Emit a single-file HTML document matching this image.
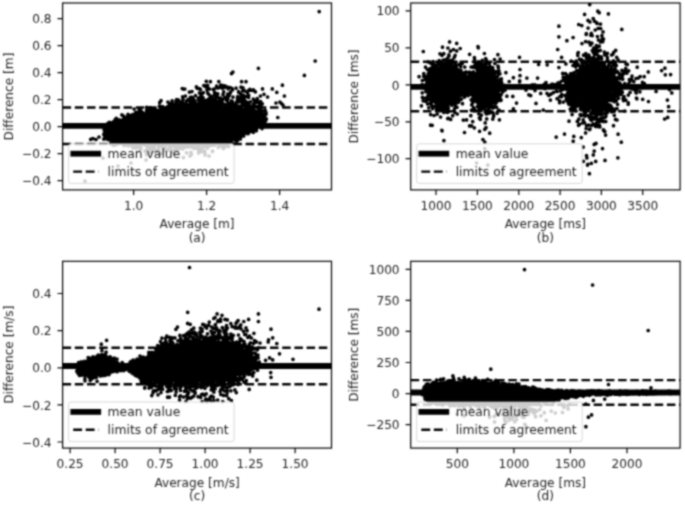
<!DOCTYPE html>
<html><head><meta charset="utf-8"><title>Bland-Altman plots</title>
<style>
html,body{margin:0;padding:0;background:#fff;}
svg{display:block;}
text{font-family:"DejaVu Sans", "Liberation Sans", sans-serif;font-size:12.15px;fill:#1e1e1e;}
text.lg{font-size:12.35px;}
</style></head><body>
<svg width="685" height="506" viewBox="0 0 685 506">
<defs><filter id="bl" x="0" y="0" width="100%" height="100%" color-interpolation-filters="sRGB"><feConvolveMatrix order="5" kernelMatrix="0.0005 0.0050 0.0109 0.0050 0.0005 0.0050 0.0522 0.1141 0.0522 0.0050 0.0109 0.1141 0.2491 0.1141 0.0109 0.0050 0.0522 0.1141 0.0522 0.0050 0.0005 0.0050 0.0109 0.0050 0.0005" edgeMode="duplicate" preserveAlpha="true"/></filter></defs>
<g filter="url(#bl)">
<rect width="685" height="506" fill="#fff"/>
<clipPath id="c0"><rect x="62.6" y="3.0" width="268.9" height="186.9"/></clipPath>
<g clip-path="url(#c0)">
<path d="M102 134L104 130L109 126L119 120L127 117.5L138 112L150 112L160 110L170 107.5L181 106L191 105.5L211 105L221 105.5L232 106L242 107.5L252 110L262 116L266.5 120L266.5 123L262 127L252 130L242 135L232 139L221 142L211 143L191 144L181 144L170 144L160 144L150 144L138 144L127 143L119 142L109 140L104 138L102 135Z" fill="#000"/>
<path d="M243.2 99.5h0M178.4 106.2h0M190.4 105.6h0M253.1 105.4h0M104.8 126.8h0M247.7 102.7h0M245.3 96.5h0M209.8 100.1h0M190.8 105.3h0M187.3 104.4h0M183.6 89.1h0M207.5 104.5h0M213.4 99h0M218.4 102.7h0M265.9 112.4h0M244.9 104.8h0M225.8 105.3h0M265.1 110.2h0M176.4 107.3h0M162.5 106.7h0M224.7 85.8h0M120.7 120.4h0M117.4 121.1h0M214.4 104.8h0M209.6 105h0M257.4 99.4h0M226.6 100.5h0M214.3 102.5h0M212.7 105.7h0M182.4 101.3h0M107.7 123.7h0M171.3 106.7h0M234.3 104.3h0M173.3 105.7h0M199.2 103.1h0M104.1 129.7h0M248.6 97.5h0M160.8 109h0M185.7 104.1h0M253.7 108.7h0M213.9 105.1h0M250.3 101.9h0M227.8 98.8h0M239.8 107h0M139.1 111.8h0M217.1 95.6h0M213.7 101.7h0M252.8 108.2h0M198.2 99.9h0M223.1 94.4h0M127 116.9h0M201.2 94.4h0M193.5 101.4h0M159.4 106.2h0M247.2 104.1h0M200.3 98h0M263.8 114.6h0M222.2 102.9h0M223.8 104.1h0M227.6 99.9h0M232.4 105h0M159.6 110.9h0M207 89.9h0M181 106.6h0M203 97.5h0M141 112.7h0M262.6 114.5h0M176.4 107.5h0M231.8 102.8h0M190.4 100.7h0M253.1 108.4h0M230.6 92h0M153.3 109.8h0M250.1 107.1h0M260.3 105.8h0M256.1 113.4h0M220.1 100.1h0M158 110.3h0M171.4 108h0M258.6 110.5h0M218.3 103h0M168.3 107.2h0M254.1 111.5h0M228 87.3h0M220.1 106.2h0M200 104.3h0M203.8 85.6h0M181 105.7h0M118.4 121.1h0M253.3 99.2h0M209.8 100.2h0M217.8 88.1h0M193.4 99.1h0M240.8 97.7h0M113.1 124.3h0M199.5 92.9h0M115.2 119.5h0M150.3 107.6h0M262.6 111h0M230 105.7h0M205.7 86.6h0M215.3 98.5h0M253 90.5h0M196.1 106.2h0M222.2 88.2h0M233.3 105h0M197.5 104.8h0M214.9 101h0M242.2 104.9h0M256.7 106.5h0M159.7 102.6h0M259.1 115h0M104.8 129.8h0M241 87.2h0M246.7 103.5h0M155 108.6h0M204.7 102.9h0M247.2 102.4h0M108.7 126.9h0M226.5 97h0M244.9 90.8h0M214.3 89.1h0M238.1 107.7h0M178.6 100.2h0M172.8 104h0M198.4 98.1h0M168 107.2h0M196.4 86.9h0M260.6 109.5h0M220.4 87.2h0M195.6 103.1h0M186.3 101.1h0M261 106.5h0M207.4 100.2h0M264 94.3h0M214.5 92.5h0M215.1 97.3h0M255.3 110.8h0M239.9 100.2h0M221.2 86.5h0M205.5 103.5h0M253.5 103.9h0M203.9 104.6h0M258 102.4h0M130.8 116.6h0M205.9 105.5h0M214.9 95.8h0M260.9 112.6h0M183 99.2h0M246.2 107h0M232.4 101.7h0M237.2 101h0M226.6 104.7h0M263 115.2h0M194.7 100.9h0M202.4 100.4h0M173.8 104.9h0M123.5 119h0M175.9 101.7h0M257.3 113.2h0M249.6 105.6h0M146.5 110.5h0M223.7 91.8h0M210.9 104.2h0M222.7 99.7h0M230.2 93.2h0M191.3 97.6h0M261.9 115.4h0M209.6 101.8h0M226.4 105.9h0M227.3 100.4h0M169.2 108.4h0M128 114.4h0M203.9 104.8h0M242 106.9h0M247.2 92.3h0M238.6 92.2h0M146.8 112.2h0M257.1 114h0M245.9 105.6h0M253.5 111.5h0M215.3 99.2h0M257.3 112.6h0M121.9 114.9h0M115.2 121.6h0M111.1 125h0M183.3 105.5h0M182.6 96.8h0M170.1 107.9h0M219.8 104h0M118.7 120.9h0M222.2 85.3h0M164.2 108.9h0M232.6 105.3h0M111.5 122.9h0M191.8 105.4h0M259.6 107h0M216.8 104.6h0M246.8 109.5h0M230.1 87.5h0M224.5 97.8h0M171 104.8h0M220.6 103.4h0M119 120.9h0M245.8 108.8h0M261.8 112.6h0M251 110.5h0M123.5 116h0M195.5 95.7h0M192.8 100.2h0M146.7 107.4h0M226.3 106.5h0M245.4 108.7h0M192.2 97.3h0M251.9 106.9h0M245.3 101.1h0M152.5 112.1h0M242.4 104.2h0M253.9 111.1h0M172.5 106.3h0M220.5 102.6h0M227.7 94.2h0M224.4 87.4h0M140.8 110.2h0M230.4 103.1h0M226.9 105.8h0M248 95.1h0M246 81.7h0M194 106.3h0M237.7 101.9h0M252.4 108.4h0M255 102.7h0M162.9 109.1h0M113.7 121.7h0M229.2 95.5h0M176.3 100.2h0M219.5 101.1h0M260.2 114.3h0M200.3 97.1h0M183.3 106.4h0M208.6 88.6h0M229.9 103h0M142.6 112.5h0M200.5 102.8h0M154 111.9h0M230.6 103.7h0M248.7 107h0M200 98.2h0M199.4 88.6h0M216.9 97.1h0M176.4 106h0M182.4 102.9h0M194.3 106.3h0M208.7 104.9h0M135.6 113h0M241 98.1h0M221 103.4h0M190.4 97.3h0M134.1 109h0M242 107.3h0M153.1 109.2h0M153.9 109.8h0M153 111.4h0M135.5 112.5h0M256.4 106.6h0M185.9 103h0M191.3 105h0M248.9 105.7h0M225.5 106.2h0M170 106.2h0M206.4 101.9h0M254.1 100.4h0M199.8 104.2h0M236.5 102.3h0M141 112.4h0M238.3 106.4h0M243.3 95h0M248.2 104.8h0M232.1 88.6h0M199.3 105.1h0M129 116.5h0M214.8 100.8h0M241.5 102h0M170.9 107.7h0M185.4 105.4h0M216.6 93.7h0M240.5 93.8h0M255.4 91.8h0M151.3 108.6h0M169.3 108.5h0M245.6 106h0M228.4 103.6h0M237.6 106.6h0M266.1 114.1h0M259.7 104.5h0M249.9 89.3h0M243.4 103.2h0M202.1 97.2h0M228 97.8h0M169.3 104.9h0M241.7 106.2h0M241.4 94.9h0M237.7 101h0M207.4 101.8h0M200.2 106.2h0M204.8 86h0M116.5 120.9h0M250.1 106.9h0M217.2 105.2h0M201.3 101.8h0M217.8 93.9h0M237.7 96.6h0M200.6 104.1h0M248.7 95.3h0M257.7 114h0M201.3 101.5h0M155.4 111.7h0M241.7 100.7h0M265.5 118.5h0M158.7 110.5h0M236.7 106.6h0M248.1 107.4h0M257.8 106.9h0M150.5 110.7h0M139.2 112.4h0M264.9 115.8h0M148.1 110.4h0M167.3 106.8h0M220.6 85.2h0M207.6 85.4h0M240.7 107.3h0M170.9 103.7h0M257.2 98.5h0M176.8 99.5h0M242.6 90.8h0M130.3 115.7h0M210.3 100.9h0M116.1 122h0M192.3 105.4h0M192 91.5h0M237.5 98.4h0M208.5 101.6h0M126 118.3h0M265.9 120.3h0M254.6 106h0M257.4 107.3h0M182.3 88.6h0M202 99.3h0M178.8 106.5h0M151 112.6h0M116.3 118.3h0M213.3 104.9h0M150.4 111.9h0M167.1 109.1h0M251.7 110.3h0M211.4 96.3h0M169.1 107h0M231.5 100.8h0M185.4 96h0M215.6 101.6h0M188 99.5h0M214.5 94.7h0M226.5 104.5h0M216.6 86.2h0M202.2 93.4h0M244.7 97.5h0M253 107.3h0M167.9 102h0M154.9 109.6h0M146.9 110.1h0M263.9 115.3h0M260 112h0M179.4 104.9h0M262.8 116.7h0M174.8 105h0M213.6 104.5h0M212.7 99.8h0M257.2 101.5h0M119.4 119.8h0M192.4 101.5h0M223.3 87.1h0M129.9 116.2h0M180.5 102.6h0M209.5 105h0M253.8 108h0M241.8 101.7h0M248.5 108.5h0M241.8 106.3h0M236.1 88.2h0M250.6 90.1h0M233 97.1h0M239.2 106.3h0M190.6 102.9h0M164.7 108.9h0M241.3 107.7h0M164.2 108h0M257.7 111.4h0M223 94.7h0M194.2 103.4h0M259.4 111.9h0M161 100.7h0M214.4 103.2h0M139.2 108.9h0M262.3 103.8h0M220.6 98.1h0M246 104.4h0M187.9 105.8h0M245.8 106h0M235.6 106.8h0M228.3 104h0M260.9 106.6h0M206.3 81.3h0M204.3 100h0M234.3 105.9h0M249.1 105.4h0M195 106.2h0M231.5 106.9h0M175.1 104.4h0M218.2 103.1h0M242.6 105.5h0M129.4 117h0M238.4 100.8h0M109.2 122.3h0M261.6 116.6h0M209.8 98.3h0M203.6 105.4h0M237.6 97.5h0M215.3 100.9h0M238.7 101.8h0M136.7 112.3h0M219.3 100.7h0M218.9 98h0M259 112.1h0M119 120.8h0M208.2 99.3h0M226.8 105.5h0M218.1 104.9h0M132.8 115.3h0M222.6 103.7h0M177.8 103.9h0M172.1 100.9h0M253.5 89.8h0M172.6 106h0M208.4 101.2h0M240.7 100.3h0M236.1 104.9h0M218.4 101h0M246.4 108.7h0M209.6 89h0M225.6 106.5h0M247.5 107.9h0M232.6 103.5h0M228.1 88.8h0M203.3 92.6h0M218.8 81.6h0M202.2 103.1h0M240.1 106.5h0M200.4 103.1h0M209.6 103.5h0M241.2 100.2h0M213.3 89.4h0M195.4 105.4h0M248.3 106.9h0M200.5 89.5h0M250.1 90.3h0M244.2 99.3h0M207.7 104.3h0M236.7 105.5h0M116.9 121.4h0M201.5 104.8h0M251.7 109.5h0M221.1 102.3h0M218.8 106.3h0M230.9 105.7h0M232.5 89.8h0M221.5 99.6h0M204.9 103.4h0M169 108h0M189.4 100.8h0M189.4 92.1h0M206 104.7h0M266.4 119.1h0M197.2 88.3h0M207.7 93h0M199.4 100.3h0M221.3 106.2h0M260.6 101.6h0M254.6 106.5h0M200.1 104h0M185.6 105.1h0M254.1 111.2h0M212.3 102.3h0M233.5 106.9h0M132.5 114.5h0M252.3 110.3h0M192.1 102.2h0M212.4 105.3h0M172.7 107.7h0M204.8 85.7h0M248.5 109.9h0M248.4 107.1h0M210.3 97.1h0M242.5 98.1h0M208.8 94.3h0M199.6 101.4h0M217.6 94.6h0M173.5 106.2h0M192.6 103.8h0M110.9 140h0M233.7 138.1h0M154.6 144.1h0M199 142.8h0M228 146.2h0M218 143h0M228.7 146.6h0M178.2 145.3h0M225.1 141.3h0M174.7 146.6h0M150 144.6h0M177.1 146.4h0M159.2 143.8h0M213.5 144.1h0M223.3 148.6h0M132.6 144.8h0M136.1 146.8h0M165.2 150.5h0M175 144.4h0M250.9 130.9h0M247 132.1h0M253.8 129.7h0M208.4 146h0M201.6 143h0M150.9 145.4h0M163.8 147.1h0M103.8 139.1h0M223.5 141h0M151.6 148.3h0M122.5 142.4h0M156.8 143.8h0M157.7 145.1h0M207.7 145.3h0M105.2 137.6h0M145.4 143.7h0M235.6 136.7h0M227.3 142.1h0M195.5 143.7h0M186.8 147h0M144.4 144.8h0M231.2 139.1h0M212.6 151.1h0M181.1 143.6h0M135.5 148.1h0M143.4 143.7h0M164.7 144.2h0M158.7 149.1h0M119 143.4h0M168 144h0M173.2 151.5h0M153.1 144.6h0M165.3 150.2h0M158.8 143.6h0M164.3 144.4h0M194.2 148.5h0M179.2 146.9h0M140.9 148.9h0M217.6 142.3h0M181.1 148h0M174.4 150h0M206.3 146.1h0M211.4 145.4h0M226.3 140.6h0M220 145h0M200.5 148.7h0M207.3 144.9h0M135 145.8h0M204.4 151.1h0M148.7 143.5h0M149.2 145.9h0M129.3 143.6h0M166.8 143.7h0M109.7 139.9h0M199 149.2h0M210.9 142.8h0M214.7 144.7h0M130.6 145.1h0M197 144.1h0M224.4 140.3h0M113.6 141.5h0M140.2 145.7h0M150.6 143.4h0M174.8 145.8h0M137.2 144.9h0M184.3 145h0M160.3 153.8h0M198.7 150.8h0M183.4 157.6h0M202.8 142.7h0M147.7 143.1h0M205.5 144.4h0M209.1 156h0M207.4 148.1h0M120.5 143.2h0M248.2 133.6h0M189 145.4h0M151.1 145.1h0M171.4 143.4h0M181.7 143.4h0M181.7 148.1h0M147.9 144.3h0M150.2 143.3h0M162.7 143.4h0M215.4 141.8h0M171.8 150.7h0M114.3 141.2h0M173.6 144.9h0M141.4 144.7h0M107.6 139.2h0M256.9 127.7h0M153.9 145h0M184.1 147.6h0M162 146.4h0M117.5 141.4h0M236.6 136.2h0M245.4 133.1h0M139.3 151h0M169.4 147.8h0M163.9 146.3h0M136.5 147.5h0M199.6 148.3h0M215.6 142.3h0M212.5 145h0M201.3 151.7h0M109.1 139.8h0M145.4 144.5h0M181.3 144.2h0M204.9 152.6h0M165.5 150.2h0M173.2 144.6h0M224.8 143.1h0M110.7 143.7h0M150.6 152.1h0M153.5 143.2h0M262.5 126.2h0M145.1 151.2h0M116.2 141.7h0M169.2 143.6h0M198.1 147.3h0M134.4 142.9h0M224.7 147.1h0M140.7 147.5h0M205.1 154.9h0M135.6 143.3h0M232.5 139.8h0M141.4 143.7h0M208.7 144.4h0M224.5 142.1h0M148.8 143.6h0M124.9 142.5h0M190.1 143h0M179.4 143.7h0M177 146.2h0M215.5 142.2h0M175 143h0M179.2 145.4h0M177.9 144.7h0M173.9 145.3h0M167.9 150.1h0M135.5 145h0M154.1 144.4h0M150.1 144h0M147.9 150.1h0M215.7 141.8h0M128.3 145.8h0M142 144.4h0M182.8 148.8h0M156.3 143.9h0M146.8 149.7h0M163.9 143.7h0M179.8 148.6h0M201.2 143.4h0M255.4 129.7h0M226.9 140.7h0M170.9 145.3h0M173.5 145.3h0M169.1 143.4h0M146.6 154.7h0M249.7 131.7h0M120.6 142h0M141.9 144.2h0M199.7 145.1h0M190.6 146h0M152 147h0M245.7 133h0M168.3 145h0M191.4 154.3h0M124.6 145.4h0M234.4 139h0M126.5 143.9h0M166.5 144.6h0M233.3 143.9h0M247.9 131.7h0M237.3 140.8h0M222.6 146.4h0M145.9 143.8h0M112.7 140.5h0M173.6 144.9h0M119.5 141.5h0M252 131.3h0M106.2 138.6h0M158 144.8h0M141.7 143.5h0M108 138.8h0M179.4 145.2h0M121.9 142.5h0M236.4 136.6h0M203 147.7h0M163.5 149.3h0M225 145.2h0M217.8 143.6h0M158.1 150.3h0M226 139.8h0M243.7 135.9h0M194.4 145.2h0M161.2 144.7h0M236.5 141.2h0M247.3 131.5h0M160.7 143.3h0M123.7 144.9h0M229.8 142.2h0M200 144.5h0M145.7 145.2h0M187.8 145.7h0M155.8 149.8h0M241 135.9h0M160 143.3h0M140.7 143.8h0M115.3 144.9h0M160.1 146.2h0M261.1 126.9h0M143.8 143.2h0M174.4 143.1h0M255.3 128.1h0M105.6 138.4h0M154.1 150.2h0M221.6 143.8h0M125.4 142.3h0M243.4 135h0M223.8 140.3h0M132.8 147.8h0M190.9 152.3h0M186.4 143.4h0M203.7 143.2h0M155.6 143h0M165.2 143.2h0M146.9 144.4h0M153.7 144.9h0M137.7 143.6h0M237.4 138.7h0M233.7 139.6h0M162.3 143.2h0M203.7 143.6h0M178.3 145.3h0M152.3 143.1h0M161 144.5h0M253.3 132.3h0M159.9 144.9h0M189.2 147h0M247.9 133.7h0M154.4 146.2h0M219.7 146.1h0M128.3 143h0M208.9 142.3h0M219.3 141.3h0M224.3 142.9h0M256.2 127.9h0M206 142.8h0M256.9 128.1h0M151.9 145.9h0M182.2 146.8h0M143.2 143.2h0M123.3 142.4h0M172 143.5h0M207.1 142.3h0M215.1 142.4h0M109 139.1h0M247.2 132.6h0M147.8 145.2h0M153.8 145.4h0M223.4 141h0M235.1 140.1h0M209.3 143.7h0M158.9 147.6h0M174.9 145.2h0M223.8 141.4h0M161.9 144h0M219.1 142.8h0M215.6 141.6h0M175.7 143.5h0M235.6 137h0M165.3 143.9h0M211.1 145h0M196.8 148.1h0M158.7 143.7h0M183.4 143.8h0M192.6 145.3h0M184.1 144.1h0M127.8 142.4h0M262 128.6h0M253.7 130.2h0M114 142.1h0M247.7 131.9h0M183.4 143.7h0M130.2 144.2h0M221.5 141.6h0M171.2 143.1h0M206.3 144h0M222.6 141.9h0M184.2 145.2h0M116.7 143.9h0M221.8 141.7h0M203.8 146.4h0M238.7 136.9h0M150.8 144.4h0M216.1 142.4h0M230.8 141.2h0M161.7 153.4h0M168.4 149.6h0M159 149.9h0M105.3 138h0M145.6 144.7h0M158.7 144h0M127.4 144.1h0M213.3 142.2h0M170.5 147.4h0M187.9 144.5h0M152.8 143.5h0M162.3 144.2h0M211.6 144.8h0M175.8 149.1h0M191.4 145.6h0M170 149.1h0M186.6 152.8h0M235.8 136.9h0M150.5 149.1h0M181.9 144.2h0M202.9 145h0M123.9 142.2h0M252.4 129.7h0M179.4 145.1h0M147.5 144.1h0M212.5 151.5h0M220.7 145h0M195.6 143h0M240.3 134.8h0M124.2 141.7h0M182.9 146.9h0M210.2 142.8h0M240.4 138.9h0M197 145.8h0M192.1 147.1h0M165.7 143.5h0M188.3 145.9h0M186.3 143h0M237.6 139.4h0M222.6 143h0M209.5 144h0M242.2 134.1h0M120.1 143h0M213.8 144h0M175 145.4h0M211.4 143.1h0M154.2 146.5h0M175.5 146.2h0M222.1 142.8h0M113.5 145.3h0M153.6 147.4h0M178.1 147.8h0M226.7 141.7h0M150.8 151.6h0M221.9 143.3h0M147.4 148.2h0M155.2 143.2h0M186.2 144h0M198.6 152.9h0M232.1 138.1h0M232 138.3h0M148.1 147.8h0M210.5 145.6h0M196.2 143.2h0M165.5 148.3h0M214.7 145.1h0M235.8 137.1h0M177 150.4h0M240.2 135.1h0M130.5 142.8h0M136.3 143.3h0M213.1 144.6h0M155.4 152.3h0M190 156h0M179.2 143h0M133.3 142.7h0M211.7 143.3h0M210 145.3h0M133.1 144.1h0M149.5 148.5h0M218.3 147.4h0M239.3 138.3h0M230.2 140.5h0M179.7 143h0M163.2 143.5h0M172.8 153h0M137.8 147.2h0M179 144h0M145.5 144.3h0M135.7 143.3h0M164.8 147.7h0M119.6 141.7h0M175.9 145.8h0M204.1 143.4h0M198.3 143.2h0M256.3 130.7h0M233.3 138.8h0M196.1 144.3h0M235.9 137.5h0M172.7 145.8h0M319.2 11.6h0M315.2 61h0M304.4 75.4h0M258.4 68.3h0M231.5 73.6h0M232.9 72.1h0M210.4 81.7h0M241.6 81.7h0M282.4 85.2h0M184.8 89h0M220.6 85.2h0M226.7 86.8h0M243 87.8h0M238.6 91.5h0M248.8 90.3h0M262.5 88.9h0M272.3 88.9h0M276.8 92.3h0M284.4 96h0M260.4 96h0M267.6 97h0M277.8 117.5h0M279.9 102.1h0M283 105.2h0M281.5 103.5h0M276 103h0M90.7 139.3h0M93 138.5h0M96 139.5h0M99 137h0M85 181h0M103 158h0M118 166h0M131 163h0M146 160h0" stroke="#000" stroke-width="3.7" stroke-linecap="round" fill="none"/>
<line x1="62.6" x2="331.5" y1="125.8" y2="125.8" stroke="#000" stroke-width="5.8"/>
<line x1="62.6" x2="331.5" y1="107.5" y2="107.5" stroke="#000" stroke-width="2.45" stroke-dasharray="8.5 3.7"/>
<line x1="62.6" x2="331.5" y1="143.9" y2="143.9" stroke="#000" stroke-width="2.45" stroke-dasharray="8.5 3.7"/>
</g>
<rect x="68.6" y="143.8" width="165.5" height="39.6" rx="2.3" fill="#fff" fill-opacity="0.8" stroke="#ccc" stroke-opacity="0.8" stroke-width="0.95"/>
<line x1="70.4" x2="101.1" y1="153.7" y2="153.7" stroke="#000" stroke-width="5.8"/>
<line x1="73.2" x2="98.5" y1="171.6" y2="171.6" stroke="#000" stroke-width="2.45" stroke-dasharray="8.9 3.6"/>
<text class="lg" x="107.6" y="157.9">mean value</text>
<text class="lg" x="107.6" y="175.8">limits of agreement</text>
<rect x="62.6" y="3.0" width="268.9" height="186.9" fill="none" stroke="#000" stroke-width="1.2"/>
<text x="133.6" y="209.7" text-anchor="middle">1.0</text>
<text x="206.6" y="209.7" text-anchor="middle">1.2</text>
<text x="279.6" y="209.7" text-anchor="middle">1.4</text>
<text x="51.5" y="23.3" text-anchor="end">0.8</text>
<text x="51.5" y="50.3" text-anchor="end">0.6</text>
<text x="51.5" y="77.3" text-anchor="end">0.4</text>
<text x="51.5" y="104.3" text-anchor="end">0.2</text>
<text x="51.5" y="131.3" text-anchor="end">0.0</text>
<text x="51.5" y="158.3" text-anchor="end">−0.2</text>
<text x="51.5" y="185.3" text-anchor="end">−0.4</text>
<path d="M133.6 189.9v5.1M206.6 189.9v5.1M279.6 189.9v5.1M62.6 18.7h-5.1M62.6 45.7h-5.1M62.6 72.7h-5.1M62.6 99.7h-5.1M62.6 126.7h-5.1M62.6 153.7h-5.1M62.6 180.7h-5.1" stroke="#000" stroke-width="1.2" fill="none"/>
<text x="197.1" y="228.3" text-anchor="middle">Average [m]</text>
<text x="197.1" y="241.5" text-anchor="middle">(a)</text>
<text transform="translate(13.4 96.5) rotate(-90)" text-anchor="middle">Difference [m]</text>
<clipPath id="c1"><rect x="410.7" y="3.0" width="269.4" height="186.9"/></clipPath>
<g clip-path="url(#c1)">
<path d="M435.1 81.3h0M443.2 75.3h0M444.9 74.4h0M438.8 86.5h0M448 108.4h0M442.2 92.1h0M435.8 92.2h0M444.3 70.2h0M459.1 84.7h0M438.6 73.3h0M453.3 92.5h0M455 82.7h0M456 85.3h0M437.4 84.1h0M460.1 79.2h0M444.9 70h0M442 90.6h0M442.2 71.4h0M448.8 73.4h0M444.4 82h0M442.6 78h0M454.3 87.5h0M438.2 94.8h0M435.7 87.4h0M450.3 86.9h0M449.6 85.2h0M452.8 93.3h0M435.4 66.8h0M452.7 88.5h0M447.9 75.8h0M458.1 72.8h0M434 85h0M445.7 81.1h0M441.8 90.6h0M431.3 95.7h0M438.3 62.1h0M453 84.2h0M440.2 104.1h0M438.2 93.4h0M450.9 99.1h0M451.9 85.9h0M451.9 70.9h0M437.7 73.9h0M443.5 91.9h0M452.2 94.3h0M438.8 77.8h0M438 82.3h0M450.6 87.5h0M456.5 67.8h0M434.8 81.5h0M423.2 100.8h0M432.4 106.3h0M435.9 83.9h0M442.9 102.9h0M448.9 79.8h0M442.8 77h0M438.4 63h0M445.2 94.3h0M436.3 81.3h0M443.6 107.9h0M438.9 88.2h0M465.4 86.8h0M450.5 67.2h0M437.3 99.6h0M436 81.4h0M440.5 83.4h0M430.8 63.3h0M438.2 94h0M438.1 94.6h0M451.1 79h0M440.6 85.8h0M437.7 88.8h0M433.3 94.4h0M434.6 86h0M443.5 101.8h0M442.3 82.6h0M453.1 79h0M439 80.4h0M452.5 60.1h0M446.1 77h0M444 94.8h0M427.9 87.5h0M433.7 76.9h0M449.9 88.4h0M455.2 65.2h0M445.7 82.2h0M450.1 90.1h0M440.7 91.8h0M441 77.4h0M438.7 93.9h0M451.8 103.3h0M446.7 80.8h0M442.1 92.2h0M441.4 69.7h0M448.5 65.7h0M446.6 91h0M437.3 85.4h0M457.7 86.9h0M446.1 79.3h0M444.1 82.1h0M455.8 92.9h0M452.2 101.8h0M443.3 82.9h0M448.3 68.8h0M435.4 97.5h0M438.9 90.9h0M425.9 91.7h0M453.8 86.8h0M428.8 107.8h0M449.5 85.7h0M437.4 90h0M436.2 66.8h0M442.4 79.3h0M446.1 78.3h0M448.9 84.7h0M458.2 88.4h0M446.9 77.6h0M451 102h0M439.2 74.6h0M449.7 80.6h0M445.2 87.3h0M440.3 72.7h0M443.2 90.6h0M443.5 91.2h0M445.5 82.1h0M447.2 103.7h0M439.9 85.8h0M438.1 87.8h0M450 75.6h0M430.4 68.6h0M439.1 78.8h0M456.4 81.8h0M422.3 80.5h0M438.5 92.5h0M449.5 61.6h0M430.8 73.9h0M464.8 67.1h0M423.3 98.2h0M455.5 79.5h0M456.5 80h0M451.3 74.2h0M442.2 93.8h0M446.9 81h0M436.8 87.2h0M450.5 65h0M435 96.5h0M441.8 88.9h0M452 90.4h0M435.1 97.1h0M441.1 83.1h0M445.3 83.4h0M433.3 92.1h0M453.3 89.2h0M446.7 82.6h0M431.9 85.4h0M443.6 80.1h0M437.8 92h0M438.7 94.2h0M444.6 85.1h0M438.3 103.5h0M451.7 69.9h0M438.4 82.7h0M451.9 101.8h0M443.6 80.9h0M450.8 69.3h0M439.7 98.7h0M440 90.4h0M434.8 73.3h0M448.6 92.6h0M451.5 75h0M461 71.9h0M454.3 83.5h0M446 80.3h0M442.3 74.2h0M447.1 81.4h0M443.8 75.2h0M455.7 85.6h0M451.6 84.8h0M437.3 92.4h0M438.5 80.6h0M454.9 72h0M446.5 72.1h0M442.1 82.6h0M453.5 100.1h0M440.9 93.4h0M441.8 78.7h0M440.3 94.3h0M428.3 73.6h0M450.9 95h0M434.3 81.3h0M439.5 92.6h0M438 91.2h0M449.8 82.3h0M443.5 88.3h0M444.1 74.6h0M430.6 84.3h0M443.3 95.7h0M432.2 125.3h0M446.5 92h0M446.9 85.9h0M443.9 75.1h0M460.3 95.5h0M448.2 68.8h0M448.8 77.2h0M445.1 88.6h0M442.5 73.2h0M451.7 100.2h0M452.8 95.8h0M433.6 79.5h0M452.4 79.6h0M448.1 72.1h0M451.7 71.3h0M447.7 89.4h0M434 91.2h0M434.6 88.5h0M458.6 87.7h0M446 79.5h0M432.7 88.6h0M446.8 70.6h0M441.1 85.1h0M429.3 99.5h0M425.7 98.1h0M431.2 80.5h0M446.2 81.8h0M443.6 98.6h0M442 102.6h0M446.3 70.3h0M448.8 80.9h0M427.2 87.4h0M441.6 97h0M437.4 76.8h0M434.1 91.4h0M439.6 82.1h0M443 108.4h0M441.9 89.3h0M432.4 83.7h0M440.1 81.8h0M460.1 95.4h0M435.6 91.7h0M430.5 74.4h0M446.2 87.2h0M448.8 71.9h0M447.7 77.6h0M435 72.3h0M452 72h0M437.7 78.3h0M434.9 75.4h0M439.1 90.3h0M443.1 92.9h0M449.7 82.7h0M449 74h0M443.8 93h0M451.5 65.1h0M444.7 66.1h0M451.2 92.2h0M432.8 91.5h0M431.4 94.7h0M450.2 82.9h0M432.9 72.6h0M441.6 80h0M443.2 90.6h0M440.1 77.5h0M440.4 78.2h0M455.1 71.3h0M423.8 73.6h0M451.1 93.4h0M462.4 89.5h0M444.2 73.6h0M443.8 74.4h0M449.8 79.5h0M458.6 90.5h0M434.5 73.6h0M444.7 83.4h0M442.5 64h0M448.5 72.7h0M445.3 89.2h0M449.3 93.9h0M440.6 73.7h0M444.4 77.4h0M438.6 92.9h0M438.7 81.2h0M442.9 79.7h0M442.9 90.2h0M434.6 87h0M456.6 96h0M442.9 92.9h0M432.9 79.4h0M452.8 83.9h0M438 84.5h0M448.1 71.7h0M443.9 75.5h0M446 94.6h0M445.4 69.5h0M439.4 94.9h0M444.3 87.9h0M460.3 83.7h0M426.1 90.4h0M444.5 89.8h0M447.5 97h0M435.6 81.1h0M433 82.8h0M461.3 82.7h0M441 103.6h0M460.6 94.4h0M448.3 76h0M444.6 81.8h0M447.8 78.1h0M449.1 85.2h0M453.4 87.2h0M447.5 107.6h0M445.2 67.1h0M445.4 95.2h0M454.8 89.4h0M450.5 78.2h0M436 83.6h0M438.9 80.2h0M446.6 85.6h0M439 95h0M441 70.2h0M436.4 98h0M441.9 81.4h0M447.4 99.9h0M452 89.2h0M444.1 97.3h0M460.6 90.7h0M443.4 95.8h0M469.5 85.7h0M452 77h0M448 91.7h0M440 92.1h0M421.4 105.8h0M442.8 65.5h0M445.4 83.2h0M459.4 95.6h0M433 72.8h0M459.2 82.9h0M442 106h0M449.8 99.1h0M423.7 76.5h0M445.1 99.2h0M441.3 96.8h0M449.5 92.8h0M444.7 88.9h0M434.9 87.5h0M451.6 76.6h0M449.6 80.1h0M448.8 92.4h0M452.1 86.6h0M452.8 103.4h0M443.8 81.9h0M433.1 61.6h0M432.9 81.9h0M454.8 87.9h0M449.7 89h0M444.8 85.9h0M440.5 77.1h0M444.3 99.9h0M444.2 78.7h0M441.3 92.2h0M438.4 82.4h0M461.3 73.5h0M445.8 99.1h0M439.2 60.6h0M433.6 76.9h0M438.2 89.5h0M449.8 81.7h0M450.1 92.6h0M442.3 84.3h0M444.4 80.8h0M441.6 106.5h0M435.1 83.1h0M454.4 83.7h0M447 74.6h0M463.8 77.9h0M438 91.6h0M442.9 90.8h0M451.1 85.3h0M442 78.4h0M432.9 92h0M436.4 68.6h0M444.8 81.9h0M446.7 82.8h0M443.2 77h0M452 86.8h0M451.9 78.8h0M446.6 77.4h0M444.2 103h0M442 92.6h0M448.4 97.1h0M451.4 85.9h0M444.5 94.8h0M447.6 93h0M441.4 97.3h0M432.7 108.6h0M436 83.2h0M450.1 87.9h0M447.6 84.9h0M456.7 50.9h0M444.4 71.7h0M450.9 85.6h0M454.6 91.6h0M452 79.8h0M439.1 96.6h0M442.5 98h0M445 81.4h0M436.1 99.4h0M447.8 102.6h0M452.2 90h0M440.2 75.8h0M459.8 99.8h0M441.7 83.9h0M442.4 81.8h0M442.1 86.6h0M438.3 80.2h0M447.3 96h0M444.2 93.1h0M457.3 97.4h0M448.9 91.2h0M448.3 77.7h0M442.2 83.9h0M432.7 94.1h0M443.3 81.5h0M437.2 114.1h0M451.6 83.1h0M443.8 79.8h0M457.3 96.8h0M449.9 92.8h0M450.7 85.2h0M445.8 83.2h0M445.7 89.7h0M449.2 93.7h0M451.4 93h0M438.3 82.5h0M447.9 89.7h0M465 93.8h0M443.3 93h0M442 55.3h0M438.5 76.8h0M432.4 77.9h0M453.5 83.2h0M444.5 87.3h0M446.4 94.5h0M458.8 91.6h0M464.1 84.3h0M436.9 85.7h0M452.4 102.7h0M449 79.5h0M447.2 88.5h0M447.8 100.8h0M443.8 88.9h0M456.7 65.5h0M448.9 89.2h0M446.8 81.7h0M454 84.4h0M451.2 95.8h0M447.7 90.1h0M446.6 82.9h0M458.1 94.2h0M448.1 89.8h0M443.3 86.5h0M437.2 88.4h0M441.3 88h0M435.6 82.2h0M444.9 81h0M446.1 85.7h0M427.6 76.1h0M444.2 73.2h0M449.2 98.2h0M445.4 83.2h0M436.4 85.3h0M454.2 84.2h0M438.5 85.7h0M434.2 85.7h0M435.4 86.1h0M443.9 77.6h0M451.9 94.6h0M453.3 78.7h0M445.7 95.6h0M434.5 66.7h0M438.8 75.1h0M436.8 95.2h0M442.6 84h0M429.8 78.9h0M444.9 89.2h0M449.2 75.3h0M442.8 86.3h0M447.7 63.8h0M436.5 81.1h0M432.4 79.1h0M438.9 90.8h0M453.3 94.1h0M452.2 77.1h0M440.4 101.3h0M453.6 79.7h0M441.4 65.4h0M456.1 62.2h0M447.9 100.6h0M440.4 84.6h0M450.4 79.2h0M437.8 78.2h0M436.5 74.8h0M432.4 98.8h0M446.1 84.7h0M443.6 103h0M443.4 83.5h0M440.7 62.5h0M455.5 93.8h0M440.6 81.9h0M438.2 83.2h0M454 100.9h0M455.4 82.9h0M446.7 96.9h0M430.1 85.5h0M439.2 78.1h0M448.9 90.5h0M444.1 79.6h0M456.4 97.5h0M433.1 94.9h0M449.4 86.1h0M439 91.5h0M454.6 91h0M443.4 82.8h0M452.2 94.3h0M438.8 83.3h0M432.7 91.5h0M435.1 76.2h0M439.1 86.5h0M435.8 89.6h0M453.6 77.8h0M454.7 81.4h0M446.2 80.3h0M435.7 92.7h0M443.1 78.5h0M438.5 89.8h0M455.6 100.5h0M446.5 89h0M447.9 69.8h0M440.8 86.8h0M427.9 95.8h0M437.8 82.8h0M435.1 96.4h0M447 91.6h0M444.8 89.7h0M437.6 83h0M440.9 80.6h0M456.5 83.1h0M436.3 86.2h0M436.7 90.7h0M442.2 89.7h0M438.4 82.6h0M440.6 86.2h0M448.3 89.4h0M457.9 69.7h0M429.8 78.1h0M443.9 77.8h0M444.3 83.6h0M443.3 82.9h0M442.5 83.1h0M441.3 77.1h0M452 92.2h0M440.3 88.4h0M443 69.5h0M444 85.8h0M444.9 74.6h0M442.6 102.3h0M452 81.2h0M443.9 81.8h0M445.4 86.5h0M443.6 83.7h0M436 85.1h0M437.4 100.8h0M435.6 87.9h0M445.5 93.8h0M438.3 96.7h0M435.5 76.1h0M445.9 102.2h0M448.2 92.4h0M429.9 95h0M457.5 77.2h0M444.3 93.7h0M443.2 89.7h0M452.5 80.4h0M444.6 108h0M439.2 91.2h0M461.6 83.3h0M435.4 87.6h0M443.2 94.6h0M450.8 96.8h0M435.4 91.4h0M443.2 97.6h0M447.1 100.1h0M463.2 73.6h0M436.9 80.9h0M443.6 76.5h0M449.3 86.6h0M444.6 99.8h0M434.4 92.1h0M447.3 75.4h0M444.9 82.8h0M447.6 95.8h0M453.1 80.5h0M452.1 84.7h0M447.3 88.7h0M446.5 67.8h0M435.2 93.3h0M442.9 89.1h0M445.8 91.3h0M440.8 76.1h0M444.8 78.2h0M437.4 79.8h0M456.3 88.2h0M461.2 86.4h0M440.9 86.9h0M447.2 103.3h0M442.1 98.5h0M454.1 78.6h0M447.5 79.3h0M444.6 102.5h0M442.2 82.6h0M445 99.2h0M436 101.4h0M449.4 80.4h0M438.3 83.1h0M448.3 86.5h0M445 77.2h0M452.8 76.1h0M443.9 81.8h0M452.2 94.1h0M436.6 81.3h0M448.9 83.7h0M442.2 81.1h0M445.6 72.3h0M444.6 100.2h0M451.5 62.7h0M427.8 79.3h0M446.6 91.2h0M432 72h0M453.7 91.6h0M428.2 98h0M436 77.3h0M430.6 87.7h0M457.1 74.8h0M433.7 90.7h0M444.9 86.6h0M439.7 87.8h0M429.6 99.1h0M441.3 90.3h0M449.3 98.9h0M442.5 91.9h0M451.5 73.9h0M441.1 88.3h0M444.1 90.5h0M440.9 71.5h0M446.7 98.8h0M459.2 86.4h0M446.9 89.3h0M445.6 76.9h0M439.1 86.4h0M438 88.6h0M455.7 82.5h0M435.1 86.5h0M436.7 64.9h0M443.2 99h0M440.6 74.8h0M459.6 64.3h0M425.1 76.3h0M446.9 77.5h0M449.7 91h0M435 76.7h0M438.8 88.5h0M447.5 76.3h0M457 107.3h0M436.6 91h0M431.4 104.9h0M451.8 75.7h0M456.2 92.2h0M441.3 76.3h0M426.3 91.3h0M455.6 92.3h0M442.4 70h0M453 74.5h0M443.7 74.2h0M441 70.9h0M440.4 78.5h0M455.8 76.2h0M455.5 71.5h0M426.9 86.6h0M436.5 91h0M458.2 72.8h0M441.1 80.2h0M433.1 85.7h0M444 83.4h0M443.1 78.8h0M443.2 93.6h0M440.2 93.9h0M441.5 92.3h0M440.4 83.6h0M446.7 105.1h0M437.5 102.7h0M441.7 81.7h0M442.8 84.4h0M454.4 97.3h0M447 77.8h0M443.1 89.5h0M448.3 86.1h0M447.2 78.7h0M452.7 83.3h0M448.1 70.2h0M458.4 80.3h0M454.8 66h0M443.7 107.9h0M440.7 100.4h0M451.1 97.6h0M448.1 88.5h0M443.2 95.4h0M432.2 98.1h0M429.3 95.5h0M446.8 94.6h0M450.2 76.6h0M450.4 89.8h0M433.7 80.3h0M452.3 74h0M439.7 74.4h0M447.1 89.8h0M447.3 95.9h0M437.6 72.1h0M439.3 102.7h0M427.4 99.9h0M436.7 81.8h0M429.6 81h0M447.5 84.8h0M444.5 95.2h0M451.3 81.8h0M446.9 74.7h0M438.9 88.9h0M446.8 65.3h0M440.9 86.9h0M448.9 96.9h0M446.5 88.5h0M436.1 93.2h0M444 90.3h0M444.4 92.6h0M441.5 86.9h0M451.2 77.4h0M457.7 83.3h0M441.1 84.8h0M441.2 97.8h0M426 101.4h0M443 89.6h0M440.5 78.1h0M426.7 78.3h0M446.3 83.7h0M448.7 99.1h0M438.1 88.8h0M441 85h0M436.3 78h0M450.1 94.1h0M431.9 88.3h0M441.5 85h0M459.6 86.5h0M444.4 102h0M447.7 83.9h0M442.8 102h0M434.6 97.7h0M443.7 86h0M447.3 94.2h0M435.8 84.3h0M446.7 77.4h0M454 82.9h0M452.6 76.6h0M431.3 90.5h0M436.2 85.6h0M431.1 91.1h0M452.6 93.6h0M448.9 54.9h0M449.6 88.6h0M437 67.8h0M434.7 87.1h0M444.6 76.9h0M444.8 86.5h0M437.2 98.9h0M445.1 68.8h0M449.2 87.4h0M445.8 84.7h0M435.7 67h0M427.1 91.9h0M441.9 85.8h0M445.3 80.5h0M441.9 78.4h0M440.6 117h0M438.5 81.6h0M449.7 67.9h0M443.6 76.4h0M445 81.9h0M436.2 81.7h0M439 84.7h0M445.3 75.2h0M436 90.8h0M433.9 80.8h0M441.4 72.2h0M453.6 77.5h0M445.5 81.7h0M455.7 93.8h0M442.9 90.2h0M441.5 82.2h0M432.9 85.7h0M439.4 87.6h0M455.5 105.5h0M446.6 79.4h0M449.9 90.1h0M449.6 92.6h0M443.9 76.2h0M442.4 87.4h0M445 87.1h0M449.4 80.9h0M447.7 91.1h0M447.9 95.6h0M445.2 96.6h0M437.8 83.6h0M441.9 87.4h0M436.5 108.5h0M452 74.7h0M427.2 87.7h0M442.3 94.2h0M463.1 87h0M441.3 91.9h0M434.9 87.2h0M443.9 92.9h0M454.3 98.1h0M442.7 83.3h0M448.9 87.4h0M444.8 85h0M441 81.5h0M469.2 85.3h0M444.6 74.4h0M439.7 92.8h0M440.1 102.2h0M447 102.2h0M447.3 98h0M450.2 76.1h0M445.1 100.4h0M432.5 78.5h0M448.3 85h0M441.5 103.6h0M441.7 75h0M432.1 93.7h0M439.4 88.3h0M438.2 84h0M443.7 76.9h0M432.4 89.6h0M444.4 81h0M445 95.7h0M435 97.5h0M439 72h0M437.1 80.5h0M451.3 82.4h0M423.8 73.9h0M441.3 74.5h0M430.7 86.4h0M440.5 83.5h0M450.8 69.3h0M439 80.2h0M445.1 90.6h0M437.2 73.7h0M459.5 76.4h0M451.3 101.1h0M453 98.4h0M433.4 69.6h0M435.2 72.3h0M452.6 89.2h0M442.4 73.8h0M441.9 83h0M446.7 81.1h0M434 91h0M450.2 60.7h0M444.1 63.9h0M447.8 73.5h0M438.6 95.4h0M448.1 84h0M438.4 68.8h0M451.6 90.3h0M453 92.4h0M451.3 83.1h0M448.1 82.3h0M449.1 89.8h0M422.4 97.4h0M450.7 87h0M441.8 90.7h0M444.8 85h0M441.7 81.8h0M432.9 76.5h0M439.7 88h0M449.3 82.6h0M455.3 83.1h0M439 94.6h0M436.8 90.3h0M455.6 94h0M436.9 70.1h0M460.6 91h0M444.4 79.7h0M436.9 77.6h0M451.9 77.1h0M457.5 97.4h0M432.5 93.6h0M456.5 78.5h0M441.7 74.4h0M455.9 85.6h0M441 81h0M431.4 101.8h0M448 71.2h0M451.4 67.6h0M460.8 83h0M457.8 85.6h0M449.6 86.8h0M442.1 92.9h0M439.8 105.8h0M441.6 82.1h0M437.4 80.2h0M441.8 68.3h0M423.6 87.9h0M445.4 93.9h0M443.8 82.9h0M464.5 97.1h0M450.1 85.8h0M440.2 100.3h0M448.5 88.8h0M434.2 75.1h0M439.2 79.3h0M429.1 70.5h0M455.5 68.5h0M448.7 88.1h0M434.6 94h0M443.5 104.7h0M451.6 85h0M448 83.2h0M447.1 74.6h0M437.1 95.2h0M438.9 89.3h0M444.8 79.7h0M451.4 92.2h0M437.4 91h0M435 67.2h0M453.2 92.8h0M436.6 86.8h0M452.6 81.7h0M445.9 81.4h0M451 102.6h0M458 100.6h0M449.5 103.4h0M450.2 74.2h0M436.7 79.1h0M438.4 94.4h0M449.2 73.7h0M456.3 78.4h0M455.1 67.8h0M462.5 103.7h0M446.5 95.9h0M445.6 90h0M452 87.6h0M444.2 81.4h0M443.5 81.6h0M435.6 91.5h0M451.9 78.5h0M435.4 97.5h0M448.1 80.7h0M432.6 76.9h0M452.8 98.2h0M435.8 84.1h0M450.7 90.9h0M431.3 81.4h0M440.5 63.4h0M453.4 90.9h0M437.6 72.3h0M444.5 96.1h0M440.2 70.3h0M425.5 67.2h0M446.5 88.5h0M447.5 89.7h0M435.1 86.5h0M448.6 73.6h0M437.6 94.2h0M436 71.1h0M444.1 81h0M438.5 77.8h0M462.3 81.8h0M431.6 93.9h0M449.9 79.3h0M451.9 91h0M428.2 92.3h0M430.1 68.7h0M448.5 74.1h0M440.1 81.7h0M447.1 79.7h0M453.1 88.5h0M441 66.6h0M435.5 92.6h0M422.2 92.8h0M445.6 83.9h0M436.6 71.9h0M446.5 85.6h0M445.9 80.2h0M432.9 91.1h0M457.8 84.7h0M452.7 92.6h0M450.8 81.3h0M434.5 99.6h0M440.7 62.9h0M439.6 75.5h0M440.7 90.3h0M435 70.7h0M447.5 92.7h0M445.8 73.6h0M446.9 86.4h0M440 76.5h0M454.3 81.2h0M445.5 87.2h0M422.1 84.5h0M438.9 81.8h0M443.5 106.6h0M451.7 85.6h0M441.6 76h0M442 94.6h0M438.7 93.5h0M449.3 97.5h0M440.4 103h0M439.2 76.3h0M438.1 95.9h0M448.5 96.7h0M439.7 85.5h0M430.6 87.9h0M449 56.1h0M438.4 79.9h0M446.9 103h0M447 68h0M453.6 80.3h0M452.4 88.3h0M439.4 91.1h0M442.7 101.5h0M433.7 68.2h0M457.4 85.9h0M447.5 93.9h0M455.2 72.6h0M441.4 85.1h0M427.6 104h0M456.3 98.4h0M444.7 90.8h0M445.1 59.9h0M444.4 84.2h0M449.2 89.3h0M448.3 82.5h0M431.3 84.9h0M452.7 115.7h0M439.8 83.4h0M440.3 76h0M457.8 87.9h0M451.4 82.4h0M441.3 82.5h0M429.1 84.6h0M445.3 93.1h0M448.3 87.8h0M443.4 73.7h0M434 84.2h0M437.7 90.1h0M434 80.9h0M445.7 96.8h0M450.6 93.1h0M452.2 75.8h0M438.1 88.6h0M445.9 104.9h0M448.4 100.8h0M439.9 84.9h0M442.8 94.3h0M461 78.9h0M445.6 71.3h0M451.1 90.9h0M440.5 87.9h0M444.3 90.5h0M430.3 85.3h0M443.8 88.7h0M453.5 80.5h0M460.8 90.1h0M453.6 93.7h0M449.5 84.9h0M444.4 93.5h0M439.2 68.1h0M442.7 77.8h0M448.9 99.7h0M437.7 102.8h0M451.5 88h0M436.1 84.5h0M429.8 73.1h0M435.9 89.1h0M430.7 93.1h0M433 71h0M453.1 91h0M442.4 90.3h0M445.7 89.8h0M453.3 74.5h0M454.1 90.8h0M440 70.8h0M454.6 100.1h0M447.1 86.8h0M444 74.1h0M447.5 98.7h0M432.6 96.8h0M437.7 79.1h0M443.1 107.1h0M448.9 75.7h0M441 88.6h0M443 97.1h0M451.8 63.2h0M455.3 95.3h0M450.1 84.9h0M454.1 85.3h0M440.8 74.9h0M441.5 88.7h0M446.5 74.6h0M441.6 76h0M439.9 81.1h0M457.2 73.5h0M442.4 100.9h0M436.3 72.5h0M447.9 78.1h0M458.7 82.4h0M444.6 85.5h0M453.9 93.3h0M440.5 93.5h0M440.1 82.5h0M438.5 81.7h0M442.9 85.8h0M458.7 93.6h0M434.8 92.3h0M457.1 80.4h0M435.9 65.3h0M442.1 106.5h0M450.7 94.8h0M449 88.1h0M446.3 88.8h0M430.8 80.4h0M446.9 75.7h0M435.8 82.2h0M464.6 83.3h0M442.3 79.4h0M445.5 71.2h0M434.8 82.4h0M440.2 91.2h0M433.7 80.7h0M451.9 85.7h0M441.9 65.2h0M448.5 83.5h0M438.5 84.3h0M440 73.5h0M454.3 68.6h0M436.2 89.5h0M429.6 77.6h0M447.2 90.3h0M434.9 81.4h0M440.5 91.6h0M451.3 82.2h0M437.5 70.7h0M451 84.7h0M438.6 82.3h0M455.9 91.9h0M454.6 81.1h0M440.2 81.6h0M442.3 93.9h0M437.3 96.9h0M445.6 92.9h0M453.2 95.7h0M432.4 90h0M451.3 93h0M433.4 94.1h0M437.1 89.5h0M429.7 86.1h0M460.8 86.9h0M444.5 109.1h0M446 85.6h0M438.6 83.2h0M452.5 81.9h0M427.2 85.2h0M444.2 87.9h0M461.7 74.4h0M440.9 66.1h0M444.1 88.4h0M449.4 69.8h0M437.5 88h0M444.2 86.9h0M451.7 96.8h0M445.6 101.9h0M447 89.1h0M441.2 80.1h0M446.5 74h0M444.4 77.7h0M455.6 85.9h0M449.8 65.2h0M442.1 86.2h0M424.4 85.4h0M449.7 91.8h0M450 82.2h0M436.7 86.5h0M428 78.3h0M434.9 81h0M451.4 68.1h0M435.5 86.7h0M440.3 100.7h0M445.8 87.1h0M453.8 89.1h0M443.9 75.9h0M443.2 99.5h0M439.6 78h0M457 93.4h0M452.5 86.6h0M443.2 76.1h0M432.8 95.6h0M437.7 85.7h0M448.6 87.3h0M438.2 89.9h0M451.1 85.3h0M446.9 81.8h0M446.3 90.1h0M449.2 81.5h0M448 86.1h0M437.2 79h0M441.4 70.9h0M462.7 78.9h0M434.3 80.6h0M440.2 85.6h0M452.5 97.1h0M442.7 68.9h0M437.5 86.8h0M433.4 63.8h0M448.3 75.3h0M452.2 80.5h0M455.2 63.4h0M444.4 67.3h0M452.4 87h0M435.7 86.3h0M445.3 84.4h0M438.6 77.6h0M445.4 106.6h0M450 83.9h0M452.6 77.1h0M436.1 101.9h0M454.1 91.5h0M440.2 81.9h0M435.8 97.2h0M442.6 87h0M432.3 91.8h0M444 87.8h0M446.3 75.4h0M442.4 95h0M448.3 87.1h0M441.5 75.6h0M444 78h0M432.5 94.9h0M444.3 81.9h0M437.2 86h0M440.4 91.9h0M443.3 86.8h0M445.5 70.5h0M430.8 91.7h0M431.5 94.7h0M441.6 94h0M447.8 101.3h0M446.9 89.1h0M451.1 93.1h0M454.4 101.1h0M448 82.7h0M443.8 102.5h0M435.7 102.5h0M436.4 93.2h0M440.3 103.5h0M446.1 93.8h0M445.8 76.9h0M444 96.6h0M442.8 88.7h0M449 89.6h0M445.7 87h0M446.4 98.8h0M446.5 90.9h0M439.6 78.7h0M435.8 90.3h0M447.9 92.6h0M447.3 78.4h0M442.2 81.2h0M440.7 81.7h0M462.2 79.5h0M437.9 88.9h0M442.3 95.5h0M446.1 104h0M434.8 97.2h0M444.9 95.5h0M458.4 96.7h0M451.5 98.6h0M449.1 81.8h0M448.7 92.3h0M444.9 88.7h0M451.7 84.2h0M442.8 81h0M440.6 80.5h0M444.8 82.9h0M451.2 73.4h0M446.6 90.6h0M449.4 85.3h0M427.8 86.5h0M453.5 88.8h0M462.7 92.6h0M454.7 79.7h0M441.5 84.5h0M437.2 69.7h0M446.2 63.7h0M436.1 66.5h0M449.8 100.6h0M439.8 67.6h0M451.7 90.1h0M454.9 100h0M427.7 81h0M446.3 101.5h0M438.4 103.6h0M432.7 94.8h0M439.1 108.8h0M442.2 91.6h0M452.3 78.4h0M431.8 90.6h0M452.4 81.2h0M460.1 72.8h0M448.8 73h0M448.4 108.2h0M443.9 80.2h0M434.6 85.3h0M448.3 79.1h0M447.1 86.9h0M449.9 83.2h0M464.6 81.6h0M449.8 73.7h0M447.4 71.8h0M456.5 78.3h0M433.2 88.5h0M434.9 106h0M441 95.9h0M438.8 103.5h0M449.6 90.4h0M441.5 84.8h0M457.9 72.7h0M456.2 85.7h0M450.2 64.6h0M440.9 82.7h0M448.9 101.6h0M450.5 88.9h0M435.5 96.7h0M446.8 81.9h0M449.6 72.2h0M445.7 81h0M456.6 81.8h0M453.7 97.5h0M437.4 105.1h0M445 78.5h0M437.3 82.2h0M448.6 84.3h0M437.1 82.3h0M451.4 73.5h0M447.1 86.6h0M451.8 89.3h0M442.8 89.5h0M432.3 73.9h0M458.1 84.6h0M442.6 68.7h0M455 94.7h0M447.4 75.8h0M449.4 83.1h0M458.6 81.4h0M446.7 80h0M455.2 75.4h0M432.1 68.5h0M451 102.8h0M442.1 88.3h0M442.9 88.4h0M444.1 106.4h0M446.8 84.8h0M457.3 91.2h0M429.2 86h0M444.4 97.4h0M438.3 90.7h0M453.3 88.9h0M440.6 83.3h0M447.7 88.5h0M440.8 97.2h0M449.3 65.5h0M452.1 84.5h0M440.8 81.7h0M444.4 82.9h0M432.6 66.5h0M446.4 93h0M450.9 77.5h0M439.6 83.6h0M453 80.9h0M427.4 69.5h0M429.2 81.4h0M432.9 67.8h0M440.1 76.6h0M444.1 82.7h0M443.4 85.8h0M443.5 86.4h0M449.8 84.5h0M440.2 106.8h0M433.9 90.1h0M434 73.9h0M460.9 79.8h0M425.2 79.4h0M442.6 84.1h0M455.7 79.9h0M447.9 77.4h0M437.4 102h0M444 86.3h0M450.9 82.5h0M453.7 83.4h0M436.8 83.7h0M450.1 99.5h0M446 90.5h0M452.8 96.8h0M455.1 55.3h0M441.3 89h0M432.4 96.2h0M447.2 105.2h0M458.2 86.1h0M449.5 69h0M445.8 91.6h0M463.2 80h0M435.7 68.3h0M451.2 79.8h0M439.4 96.2h0M444.4 97.6h0M444.7 92.9h0M456.1 75.6h0M436.5 110.5h0M439.7 74.4h0M431.3 85.1h0M447.9 71.7h0M440.3 98.8h0M447.4 90.2h0M435.4 94.6h0M441.1 86.8h0M452.3 85.2h0M442.6 87.6h0M449 67.4h0M448.2 95.6h0M441.2 94.8h0M431.5 82h0M451.9 85.8h0M445.4 88.8h0M451.9 101.3h0M427.9 90.1h0M430.8 86.3h0M426.9 80.9h0M437 71.2h0M452.3 80.1h0M448.5 86.6h0M443.7 83.4h0M445 86.7h0M450.1 93.2h0M441.6 90.2h0M447.2 88.6h0M445.1 92.4h0M426.5 87.8h0M440.9 85.6h0M454.9 90.5h0M440.8 69h0M442.9 98.2h0M439.1 73.3h0M440.1 94.2h0M453 86.1h0M441.9 96.8h0M435.8 86.3h0M419.1 76.7h0M439.4 96.5h0M428.3 87.8h0M429.4 87.1h0M450.4 86.8h0M449.7 95.8h0M428.7 94h0M450.8 88.2h0M447.7 70.8h0M437.7 82h0M449.9 87h0M431 103.6h0M434.4 89.8h0M432.5 85.1h0M435.1 97.7h0M451 84.9h0M433.3 85.7h0M434.8 87.6h0M436.4 71.3h0M445.6 95.4h0M441.3 90.2h0M450.9 83.3h0M438.3 74.8h0M433.7 88.1h0M440 99.8h0M444.3 79.8h0M436.5 75.6h0M446.2 90.2h0M458.5 70.4h0M439.3 64.3h0M444.3 81.7h0M454.7 79.3h0M438.7 83.3h0M437.1 80.6h0M435.2 89.3h0M447.1 83.9h0M448 80.2h0M442.7 81.6h0M444.2 92.2h0M454.1 95.5h0M450.8 94.9h0M432.6 92.9h0M443.8 53.7h0M444.7 76.3h0M449.6 83h0M442 88.1h0M438.6 70.2h0M440.1 100h0M429.6 89.1h0M443.6 80h0M439 87.7h0M447.5 82.7h0M435.6 78.6h0M440.3 91h0M435.9 81.6h0M435.2 72.3h0M449.3 79.9h0M440 85h0M447.3 75.5h0M434.8 98.5h0M444.5 75.4h0M430.2 103.3h0M439.9 94.9h0M439.7 76.9h0M448.4 87.4h0M445.1 97.7h0M442.3 84.2h0M450.4 74.4h0M445.2 87.2h0M448 105.6h0M449.8 71.5h0M443.1 91.6h0M441.3 86.2h0M446.3 85h0M440.3 82.3h0M446.7 83h0M452.5 96.3h0M450.5 92h0M440.6 76.4h0M433.4 101.4h0M443.2 73.5h0M442.6 92.7h0M452.5 88h0M440.6 97.9h0M442 89.7h0M449.5 96.5h0M439.8 85.9h0M442.4 95.7h0M457.3 89.6h0M455.5 107.3h0M448.7 79.4h0M445.8 97.9h0M435.9 90.8h0M448.1 87.9h0M444.1 80.7h0M445.4 90.6h0M439.5 71.8h0M443.5 72.8h0M442.2 93.2h0M446.1 71h0M455 100.3h0M446.5 83.5h0M430.4 88.7h0M435.9 87h0M431 90.3h0M437.3 83.5h0M448.1 82.6h0M446.8 85h0M438.8 96.5h0M445.7 97.3h0M437.6 98.7h0M432.3 89.8h0M432.4 84.3h0M436.8 69.8h0M455 92.5h0M432.9 94.5h0M453.5 82.3h0M454.2 94.2h0M442.2 98.9h0M443.2 87.2h0M438.7 96.6h0M443.4 89.3h0M448.9 69.2h0M443.7 81.6h0M451.6 82.2h0M453.1 91.4h0M446.3 77.8h0M446.2 82h0M443.1 76.8h0M446.4 85.9h0M434.7 86.9h0M446.8 95.8h0M445.2 94.1h0M436.7 87.9h0M460.8 88.6h0M435.8 87.3h0M436.6 87.4h0M445.8 101.4h0M428.1 61.9h0M437.3 84.5h0M431.4 89.3h0M435.9 97.3h0M442.5 75.5h0M446.1 89.7h0M452.4 94.7h0M450 81.9h0M453 67.5h0M448.3 82.7h0M439.8 74.5h0M452.5 92.6h0M439.7 77.9h0M438.7 103.7h0M455.8 87.6h0M449.9 78.4h0M445.3 81.3h0M449.6 75.6h0M450.6 90.1h0M432.7 100.9h0M442.8 84.1h0M434.1 95.3h0M444.5 77h0M438.2 89.3h0M454.4 108.8h0M447.7 72.5h0M437.1 98.3h0M443.4 97.8h0M433.9 67.8h0M443.9 72.2h0M447.9 76.7h0M445.7 95.7h0M428.1 82.1h0M440.9 84.6h0M447.6 93.2h0M446 87.4h0M452.8 88.5h0M433.3 83.1h0M447.7 97.3h0M438.3 78.6h0M445.1 102.7h0M446.8 82.9h0M449 78.4h0M438.9 92.6h0M445 90.7h0M434.2 66.8h0M432.3 88.4h0M448 73h0M443.1 78.1h0M430.6 93.9h0M436.7 77.8h0M443.7 89.7h0M456 82.5h0M451.9 105.2h0M449.9 85.3h0M429.3 74.7h0M442.8 75.4h0M447.4 77.3h0M446.7 87.4h0M446.9 86.2h0M441.7 95.7h0M457.6 87.8h0M455.3 87.4h0M442.8 89.3h0M435.7 84.9h0M460 89h0M439.1 93.8h0M453.1 93.8h0M458.8 80.8h0M436 68.8h0M445.9 78.2h0M440.8 88.9h0M447.7 61.7h0M446.1 81.5h0M459.1 90.5h0M448.3 80.6h0M443.5 75.2h0M452.5 103.3h0M441.4 99.7h0M440.6 83.6h0M461.4 99.1h0M437 98.8h0M439.6 75h0M443.9 112.4h0M435.1 76.9h0M426.7 83.5h0M452 75.3h0M437.3 86.8h0M439.2 73.2h0M485.4 96.1h0M493.4 71.3h0M487 91.4h0M483.5 82.4h0M496.8 98h0M478.8 88.2h0M492.6 85.9h0M483.2 88.8h0M487 91h0M485.6 87.8h0M486.3 85.5h0M485 86.2h0M479.6 92.2h0M481.2 77.1h0M488.6 87.5h0M484.6 86.4h0M476.8 83h0M480.1 94.2h0M480.2 75.7h0M484.9 84.1h0M486.7 79.7h0M486 92.5h0M480.5 83.2h0M485.5 87.9h0M475.2 91h0M464 72.9h0M484.9 91.6h0M473.1 80.6h0M478.3 85.2h0M476.4 86.5h0M489.9 94.9h0M476.3 94.3h0M487.3 103.7h0M481.6 89.1h0M476.1 83.1h0M473.6 82.9h0M488.6 93.5h0M488.1 102.2h0M490.9 90.6h0M498.8 82.2h0M487.2 90h0M487.3 89.8h0M484.3 87.8h0M486 80.7h0M482.6 64.3h0M478.5 82.6h0M499.9 97.1h0M471.4 89.4h0M487 67.3h0M488.4 87.5h0M486.2 70.6h0M478 105.7h0M483.7 89.2h0M481.7 76.5h0M477.1 94.8h0M484.7 80.3h0M482.1 92.6h0M481 87.7h0M490.1 76.7h0M477.2 93.6h0M488.3 75.2h0M480.5 99.8h0M488.2 88.1h0M485.5 78.1h0M486.8 70.9h0M477.8 102.3h0M479.3 100.8h0M478.7 76h0M486.3 102.6h0M490.5 89h0M493 85.5h0M481.3 86.7h0M485.6 85h0M473 100.6h0M468.6 88.9h0M478.6 70.6h0M480 106.7h0M473.5 95.6h0M471.8 77.5h0M488.9 84.2h0M479 79.2h0M472.5 87.9h0M502.1 91.1h0M486.2 89.7h0M482.6 82h0M489.9 80.2h0M479.3 95.3h0M496.6 86.6h0M473.5 108.1h0M475.2 80.1h0M483.8 94.7h0M479.2 87.9h0M495.3 80.5h0M473 100h0M479.4 88.6h0M486.6 79.3h0M489 84.6h0M492.2 96.8h0M487.3 76.3h0M501.1 100.1h0M481.3 93.8h0M486.1 85h0M491.1 99.9h0M482.4 103.5h0M482.6 93h0M481.3 89.1h0M480 104.4h0M476.4 101.2h0M480.6 79h0M473.3 85.6h0M487.5 85.5h0M473 83.7h0M499.9 73.8h0M497.2 95.8h0M492.9 88.3h0M483.1 88.4h0M480.4 100.4h0M493.7 82.3h0M486 87h0M488.8 90h0M479.4 83.5h0M492.5 86.5h0M478.8 94.5h0M485.5 87.4h0M471.9 99.7h0M479.8 80.6h0M488.3 89.4h0M481.3 74.4h0M481.4 86.4h0M490.5 81h0M484.1 100h0M493.8 94.4h0M466.8 92.2h0M488.8 104.5h0M488.4 100.8h0M473.2 94.1h0M475.1 81.1h0M491.1 74.2h0M476.8 87.2h0M479.9 84.2h0M489 81.5h0M482.2 84.8h0M488.1 72.2h0M478.2 101.3h0M486.8 77h0M492.6 81.3h0M487 92.8h0M468.4 72.5h0M489.4 96h0M485 96.2h0M477.9 84.6h0M494.9 77.5h0M471.8 83.1h0M498.4 70.4h0M479.9 100.3h0M496.2 88h0M484.3 80.7h0M474.8 79.1h0M485.3 92.8h0M487 101.4h0M488.6 75.7h0M492.4 82.2h0M478 71.2h0M488.2 93.8h0M490 88.9h0M482.6 108.4h0M477.7 86.4h0M477.6 83.5h0M490.1 80.9h0M490.5 95.4h0M478.5 72.4h0M474.7 94.5h0M493.7 89.8h0M473.1 82.8h0M485.8 79.1h0M478.7 97.3h0M471.7 104.8h0M485.5 83.4h0M483.2 92.4h0M495.2 103.7h0M501.3 81.7h0M483.2 85.2h0M492.1 76.2h0M492.3 86.1h0M480.7 86.7h0M478.2 83.6h0M496.4 80.6h0M481.9 72.8h0M484.4 75h0M482.4 78.4h0M483.6 93.5h0M480.1 82.8h0M490.1 79.6h0M493.8 93.6h0M481.8 92.7h0M474.4 80.5h0M485 81.7h0M473.6 93.7h0M479.9 90.9h0M493.6 79.7h0M501.7 89.7h0M487.4 87.2h0M476.7 97.9h0M490.3 79.4h0M468 95.7h0M479.5 91.5h0M495.8 78.1h0M490.1 97.3h0M474.4 96h0M472.3 75.2h0M490.9 106h0M484.2 76.8h0M480.2 78.9h0M487.6 84.5h0M480.4 94.7h0M470.4 92.9h0M490.5 86.6h0M479.8 100.3h0M477.2 91.3h0M474.8 100.6h0M486.4 113.9h0M478.7 89.3h0M489.2 63.4h0M482.6 83.3h0M492.5 77.4h0M481.7 88.4h0M479.8 88.4h0M470.1 76h0M476.5 76.7h0M489.9 85h0M507.1 85.7h0M475.4 63h0M476.9 96.7h0M487.1 87.8h0M488.1 87.4h0M479.6 90.3h0M485.2 77.8h0M472.8 87h0M482.4 97.3h0M491.2 97.7h0M496.6 91.9h0M483.4 84.9h0M482.7 79.7h0M487.9 100h0M492.7 92.5h0M488.2 83.5h0M479.1 66.9h0M487.2 79.2h0M491.7 69.2h0M479.3 99.3h0M474.8 89.3h0M488.3 80.4h0M487.3 84.9h0M491.7 112.3h0M485.3 99.1h0M479.9 74.7h0M481.4 86.3h0M477 75.7h0M477.6 71h0M480.5 89.2h0M481.1 110.6h0M492.8 102.4h0M475.6 87.9h0M484.3 83.9h0M480.3 89.4h0M495.6 97.4h0M486.6 73.5h0M481.9 69.5h0M490.6 105.6h0M485.1 90.2h0M481.1 102.9h0M495.9 89.8h0M489.9 101.7h0M497.4 81.6h0M493.2 92.3h0M490.3 102.5h0M485.6 97.3h0M476.7 83.1h0M489.9 96.1h0M485.2 81.1h0M489.6 73.7h0M484.6 92.6h0M479.6 101h0M477.3 95.7h0M489.8 75.3h0M494.2 95.9h0M482.6 94.1h0M488 83h0M494.9 63.4h0M478.5 97.3h0M482.2 96.1h0M476.4 92.3h0M493.4 70.7h0M486.6 73h0M481.3 97.3h0M472.5 95.3h0M483.4 92.3h0M492 85.1h0M482.5 91.3h0M481.6 82.2h0M489.4 84.5h0M475.6 79.1h0M485.1 90h0M489.1 83.4h0M479 96.8h0M478.6 94.5h0M486.5 79.6h0M484 105.4h0M483 76.6h0M486.2 91.9h0M486.3 98.1h0M477.9 100h0M479.8 66h0M488 97.3h0M493 99.4h0M494.7 101.5h0M478.5 65.8h0M492.8 80.9h0M490.3 86.5h0M484.5 83.1h0M488.3 100.6h0M490.8 80.9h0M497.9 99.5h0M477 93h0M489.2 73.3h0M483.7 77.8h0M483.2 82.9h0M493.2 88.4h0M490.8 97.2h0M477.3 85.7h0M482.7 96.4h0M486.4 72.1h0M474.4 57.6h0M491.1 84.2h0M484.2 92h0M486 84h0M487.2 77.6h0M498 91.6h0M485 106.4h0M482.1 86.5h0M497.5 80.4h0M481.1 79.2h0M480.9 106.8h0M474.6 87.1h0M492.7 93.5h0M486.8 99.5h0M488.2 98.1h0M486 78.5h0M483.8 96.9h0M479 95.8h0M479.1 92.3h0M487.9 97.4h0M485.7 82h0M496.7 86.8h0M479.2 82.4h0M481.2 94.9h0M477.3 81.1h0M494.9 91.4h0M475.8 76.8h0M490.4 86.3h0M495.3 84h0M483.8 86.4h0M490.1 88.8h0M469.2 85.7h0M482 85.3h0M472.7 67.2h0M486.1 98.3h0M484.9 81.4h0M479.2 85.1h0M491.7 79.4h0M487.4 97.3h0M481 78.6h0M481.1 92.4h0M474 99h0M483.4 103.6h0M500.3 99.1h0M479.6 93.6h0M487.9 75.8h0M480.8 100.1h0M490.7 99.1h0M488 95.7h0M483.1 95.4h0M471.8 88.3h0M481.1 82.5h0M493.6 98.1h0M483 100h0M489.4 77.4h0M481.3 96.5h0M471.2 90h0M487.9 96.2h0M487.2 90.3h0M480.6 98.4h0M482.1 97.6h0M486.9 96.3h0M480.5 74.1h0M487.3 95.7h0M483.3 88.1h0M467.6 76.6h0M483.8 94.5h0M480.5 74.3h0M478.7 96.4h0M487.8 104.2h0M481.3 82.7h0M488.8 96.6h0M492.8 92.1h0M485.9 94h0M473.5 74.5h0M479.5 93.6h0M491.5 89h0M482.9 94.9h0M478.9 87.8h0M484.2 98.4h0M488.5 90.4h0M486.7 94.3h0M489.6 101h0M478.8 89.5h0M482.8 97.4h0M483 90h0M484.7 92.8h0M469.5 82.6h0M483.1 95.3h0M475 99.7h0M495 87h0M496.2 95.5h0M497.1 91.9h0M490.8 77.1h0M481.3 91.2h0M491.9 100.6h0M483.4 83.1h0M489.3 70.6h0M478.3 89.8h0M480.6 81.6h0M488.3 106.2h0M497.8 87.4h0M484.7 87.8h0M501.4 81.7h0M505 90.2h0M475.5 82.4h0M484.7 79.1h0M477.9 87.2h0M483.9 80h0M481 100.5h0M484.4 76.6h0M491.9 87.1h0M491.7 81.2h0M486.8 74.5h0M484.9 103.9h0M485.7 67.6h0M485.8 101.8h0M489.1 74.3h0M484.9 88.7h0M488.6 109.6h0M475.3 67.4h0M490.7 74.6h0M497.7 100.5h0M486.2 89.5h0M474.5 82.6h0M494.8 87.5h0M482.5 78.6h0M463 89h0M483.3 102.2h0M489.3 84.2h0M487.7 89.2h0M494 99.4h0M489.4 106.9h0M485.8 82.2h0M470.4 90.7h0M476.7 82.4h0M486.2 81.7h0M489.9 84h0M477.4 81.8h0M480.4 71.2h0M488.3 68.7h0M470.9 80.8h0M470.7 89.1h0M483.2 99.5h0M486.8 82.8h0M481.4 86.2h0M468.1 94.2h0M485.1 95h0M475.2 86.7h0M489.7 87.3h0M484.2 105.8h0M486.8 84.6h0M489.6 83.1h0M481.1 72.2h0M491 92h0M494 85.3h0M487.8 106.2h0M494.6 84.6h0M480.3 95.6h0M491.6 96.8h0M486.9 103.7h0M477.7 75.3h0M484.3 102.9h0M481 88h0M480.9 86.8h0M485.5 84.9h0M492.7 84.1h0M482.6 84.5h0M485.8 65.5h0M474.2 92.7h0M485.7 88.4h0M493.4 78.7h0M490.8 87.2h0M488.4 109.9h0M481.1 91.5h0M477.8 84.1h0M484.2 104.2h0M475.1 80.2h0M475.9 86.4h0M491.8 82.5h0M478.2 85.6h0M498.1 94.8h0M474.4 93.4h0M488.1 80.8h0M476.3 86.6h0M486.2 88.7h0M477.3 83.9h0M485.2 87.5h0M483.8 80.9h0M481.6 80.8h0M488.7 88.3h0M496 78h0M480.6 91.8h0M491.4 86h0M485.5 79h0M484.7 82h0M501 83.2h0M469 86.3h0M479.9 88.9h0M471.6 85.8h0M482.6 79.5h0M483.2 101.5h0M512.8 96.4h0M487.5 88.9h0M498.1 96.9h0M494.4 90.9h0M481.7 85.3h0M488.4 88.6h0M497.1 113.2h0M486.2 97.3h0M486.4 97.7h0M488.6 84h0M473.9 93.5h0M479 109.3h0M487.4 91.9h0M488.9 98h0M478.2 99.8h0M482.5 93.9h0M484 102.8h0M483.8 90h0M490 92.5h0M485.7 81.8h0M486.1 112.9h0M474.5 90.7h0M477.2 88.8h0M487.3 101h0M473.2 83.2h0M486.9 87.7h0M480 80.4h0M478.9 88h0M489.6 84.1h0M479.9 92.9h0M478.6 86.6h0M479.9 82.1h0M485.3 85h0M505 86.6h0M469.3 82.9h0M484.7 96.7h0M483.1 94.2h0M491.9 89.2h0M482.1 76.5h0M466.7 92.7h0M494.6 75.6h0M476.8 89.5h0M484.4 88.2h0M474.8 82.2h0M476.8 79.9h0M481.2 81.2h0M491.1 107.2h0M491 85.2h0M480.4 85.8h0M488.5 96.9h0M482.1 91.7h0M485.7 97.8h0M486 76.1h0M489.4 77.5h0M480.3 119.3h0M483.8 87.4h0M486.4 85h0M485.5 89.3h0M478.9 97.1h0M497.5 76.5h0M481.4 90.4h0M490.4 87.5h0M486.3 94.1h0M493.8 89.4h0M468.7 82.7h0M499.9 79.6h0M483.2 64.7h0M475.7 97h0M485.7 73.9h0M501.4 83.9h0M488.5 103.5h0M475.7 83.8h0M481.4 93.5h0M494.6 85.8h0M474.5 94.4h0M483.5 88h0M482.6 83h0M500.7 100.5h0M482.6 85.2h0M494.4 75.1h0M479.8 84.7h0M478.9 92.8h0M492.2 77.3h0M489.4 95.2h0M472.1 95h0M489.5 107.8h0M489.5 81.7h0M480.3 94h0M486.4 72h0M486.8 83.8h0M481.2 88.7h0M480.5 91.6h0M479.8 87.2h0M482.8 86.9h0M475 82h0M484.5 83.6h0M473.8 90.6h0M485.3 93h0M484.1 93.8h0M477.1 97.1h0M491 98.9h0M499 70.8h0M494.5 82.8h0M474.7 86.2h0M494.1 81.7h0M486.4 97.6h0M484.4 94.8h0M480.4 86.7h0M484.7 88.9h0M495 99.6h0M488.8 84.5h0M481.7 84.8h0M479.8 96.3h0M481.7 92.2h0M489.1 101.1h0M498.5 91.2h0M477 94.8h0M484.7 82.6h0M481.9 78.9h0M479.2 87.7h0M487.7 62.8h0M488.8 91.6h0M474.3 96.9h0M477.1 88.5h0M493.5 85.7h0M487.1 98h0M488.6 87.4h0M481.1 97h0M482 108.3h0M488.1 94.5h0M481.1 96.6h0M476.6 92.4h0M484.7 90.1h0M491.4 90.3h0M477.2 88.4h0M492.5 97.9h0M489.9 72.6h0M478.4 85.3h0M484.8 93.9h0M484.4 79.8h0M489.4 86.8h0M489.6 81.3h0M475.2 91.9h0M474.9 95.9h0M492.3 101.4h0M485.6 92.5h0M487.8 81h0M487.2 90.1h0M496 93.1h0M475.9 101h0M492.7 67.7h0M478.7 91.2h0M490.1 70.6h0M494.6 94.5h0M474.6 91.9h0M487.7 92.4h0M482.7 96.1h0M482.6 91.4h0M485.1 81.7h0M477 91h0M477.7 99h0M489.6 86.7h0M490.9 88h0M480.6 76.4h0M474.1 98.6h0M501.7 83h0M492.8 80.8h0M487.4 83.6h0M477.2 79.7h0M480.5 85.4h0M486.5 99.7h0M477.7 95.2h0M496.5 101.1h0M485.7 101.7h0M487.6 79.4h0M477.2 92.3h0M478.1 101.8h0M479 109.2h0M486.8 74.5h0M482.8 74.4h0M482.6 92.1h0M487 84.6h0M486.4 78.5h0M495.6 91.3h0M483.3 80.4h0M477.4 66.5h0M484.7 87.5h0M495.4 88.9h0M480.7 93.7h0M485.1 96.5h0M482.1 89.4h0M487.7 85.5h0M486.6 81.5h0M478.8 72.3h0M483.1 83.6h0M491.6 97.1h0M492.7 93.8h0M491.5 106.9h0M491 86.3h0M482.3 71h0M482.1 95.5h0M491.5 97.4h0M476.2 76.8h0M484.3 72.6h0M471.2 89.1h0M482 94.4h0M479.6 77.2h0M476 84.5h0M489 80.4h0M479.4 76.6h0M482.1 75.4h0M482.9 89h0M479.4 84.2h0M495.1 81.4h0M481.2 63.3h0M486.2 104h0M475.3 78.9h0M481.3 86.4h0M482.4 77h0M482.5 91.2h0M480.5 73.6h0M485.8 88.5h0M496.1 85.9h0M483.8 96.2h0M483.7 77.4h0M481.9 81.6h0M503.2 85.4h0M496.5 107.2h0M488.8 73.9h0M489.9 90.4h0M479.6 81.5h0M483.7 90.5h0M486.3 93.7h0M485.6 88.9h0M478.5 90.1h0M479.1 90.2h0M488.5 82.1h0M487 85.6h0M469.5 72.1h0M485.4 84.3h0M494 80.4h0M480.1 85.2h0M486.5 94.5h0M474.2 91.2h0M490.8 92h0M476.7 97.9h0M475.7 65.3h0M482.5 91.6h0M502 87.4h0M480.3 86.7h0M475.6 75.4h0M488.1 92.7h0M486.4 98.3h0M496.8 97.2h0M475.6 86.8h0M473.2 93.5h0M482.5 96.2h0M487.5 104.6h0M487.4 99h0M492.6 88.9h0M473.9 88.4h0M478.8 89.1h0M483.8 89.7h0M490.9 82.9h0M488.2 94.8h0M481.7 81.1h0M477.4 80.1h0M491.2 90.9h0M491.7 82.2h0M504.5 85.3h0M483.5 68.1h0M496.6 95h0M476 87.5h0M480.8 86.3h0M479.9 91.9h0M481.4 89.5h0M478.4 81h0M480.8 106.3h0M484.4 83.3h0M481.5 96.6h0M489.6 104.6h0M484.2 81.7h0M484.8 88.4h0M495.5 79.9h0M487.1 97.3h0M485.9 84.4h0M484.6 77.2h0M485.2 99.8h0M488.9 96.1h0M479 79.2h0M493.1 98.6h0M496.2 89.4h0M493.1 112.9h0M481.2 103.6h0M473.2 82.3h0M481.6 85h0M485.9 79.3h0M490.8 88.8h0M483.5 88h0M482.6 94.4h0M495.8 88.3h0M479.9 73.8h0M492.5 79.9h0M491.3 100.7h0M475.1 98.3h0M486.8 86h0M480.7 86.2h0M477.9 85.9h0M471.4 87.7h0M473.4 71.8h0M487.8 95.9h0M482 81.4h0M486.8 88.9h0M477.1 63.9h0M482.5 89.7h0M482.8 100h0M473.6 66.6h0M472.7 101.7h0M488 91.9h0M485.9 80.6h0M478 72.7h0M484 98.4h0M489.6 89.9h0M498.1 93.1h0M478.3 85h0M489.3 80h0M500.1 95.6h0M485.3 78.6h0M495.4 95.9h0M466 71.9h0M495.3 78.8h0M484.7 73.9h0M471.2 99.8h0M490.4 71.1h0M492.4 76.8h0M493.5 93.7h0M493.5 89.6h0M484.6 108h0M479.4 104.7h0M481.4 93.3h0M484.5 94h0M487.7 70.4h0M481.3 79.2h0M485.1 84.4h0M491.1 85.8h0M487.1 74.6h0M501.4 78.8h0M500.4 79.6h0M476.5 97.5h0M480.7 91.5h0M475.3 84.4h0M476.3 84.9h0M488.7 90.2h0M477.6 81h0M477.2 85h0M482.8 71.4h0M490.6 93.8h0M482.2 96.5h0M482.2 90.9h0M491.5 92h0M488.2 90.9h0M488.1 106.6h0M491.7 89.4h0M477.4 75.1h0M486.3 77.7h0M480.2 94.2h0M492.2 97.5h0M490.7 94.7h0M477.2 95.4h0M494.5 89.2h0M476.3 73.5h0M493.3 80.8h0M486.3 70.5h0M478.4 83.9h0M476.6 74.7h0M482.6 88.4h0M484.6 85.9h0M479.6 69.2h0M488.9 94.4h0M474.6 94.6h0M484.7 74.4h0M484.8 88.8h0M471.2 94.2h0M487 84.7h0M475.6 95.5h0M466.6 89.2h0M480.3 97.5h0M483.1 89.2h0M491.4 85.9h0M481.2 92.2h0M495.5 94.8h0M495.3 89.8h0M492.7 83.2h0M494.4 80h0M487.3 83.9h0M480.7 82h0M489.5 89.3h0M491.8 89h0M486.5 86.6h0M483 87.4h0M473.3 89h0M489.7 102.1h0M487.3 98.7h0M475.3 81.9h0M485.5 91.4h0M490 84.3h0M484 86.5h0M490.5 85.1h0M490.3 81.5h0M474 74.5h0M482.6 64.1h0M488.3 89.2h0M491.5 98.5h0M495.1 78.8h0M470.8 92.1h0M484.3 83.7h0M490 90h0M493.7 79.7h0M497.1 85.1h0M478 86.3h0M482.1 64.9h0M477.1 89.4h0M490.8 86h0M475.1 63.9h0M493.4 93.5h0M491.6 87h0M488.3 89.2h0M468.9 90.7h0M479.8 83.4h0M490.2 77.1h0M474.4 83.1h0M483 83.3h0M484 108.3h0M491.3 104.7h0M486.8 82.7h0M486.8 83.4h0M481.6 90.3h0M484.8 92.6h0M483.8 80.7h0M490.1 77.8h0M483.5 105.6h0M492.3 97.3h0M472.4 72.5h0M493.5 70.5h0M483.5 79.4h0M493 89.3h0M485.4 92.4h0M491 84h0M495.7 71.9h0M480.7 89.3h0M485.4 93h0M483.5 87.2h0M486.3 82.5h0M472.9 92.7h0M483.5 86.7h0M482.9 76.6h0M479 88.1h0M483.3 74.9h0M473.5 96.4h0M495 91.7h0M488 77.7h0M498.5 89.2h0M478.4 99.1h0M476.2 66.8h0M486.8 85.9h0M472.6 102.9h0M486.4 72.4h0M479.6 85.6h0M482.3 73.6h0M486.6 86.6h0M485.1 64.3h0M498.4 71.7h0M489.4 82.1h0M475.3 88.5h0M491.9 90.8h0M475 91.3h0M485.4 98.2h0M475.6 93.9h0M478.7 94.3h0M494.3 77.8h0M480.7 85.7h0M480 117.7h0M480.6 108.9h0M482.5 95.1h0M495.3 94.3h0M476.1 96.7h0M475.7 83.3h0M489 106h0M473.1 83.6h0M482 86.4h0M493 108.1h0M484.7 67.2h0M481.2 90.7h0M479.5 70.7h0M478 80.9h0M480.4 86.3h0M485.7 83.8h0M493.8 88.9h0M491.8 79.8h0M480.6 86.2h0M479.3 75.8h0M489.8 83.5h0M471.4 73.8h0M481.5 93.5h0M482.3 74.7h0M476.5 93.9h0M477.4 83.2h0M487.2 84.3h0M472.6 98.6h0M478 88.3h0M479.9 68.9h0M485.2 92h0M474.6 59.2h0M492.6 89.8h0M482.4 83.3h0M482.7 73.7h0M481.9 88h0M479.7 84.2h0M477.4 106.6h0M493 83h0M486 106h0M483.8 100.6h0M491.8 81.3h0M479.4 79.3h0M489.1 100h0M484.7 85.9h0M478 88.8h0M490.1 84.7h0M473.6 75.5h0M489.3 83.6h0M478.1 77.9h0M487.5 72.3h0M494.6 84.4h0M488.6 104.5h0M480.1 102.9h0M484.3 86.6h0M481.8 88.5h0M475.9 92.2h0M476.4 100.4h0M484.8 90.3h0M488.4 82.6h0M471.6 83.4h0M483.9 98.2h0M488.1 112.6h0M485.2 81.1h0M477.1 67.2h0M492 95.1h0M475.5 86.5h0M489.1 88.6h0M496.1 99.3h0M469.5 87.9h0M486.3 74.3h0M486.7 68.1h0M486 86.7h0M478.8 75.9h0M482.1 90h0M474.2 74.8h0M485.3 83.8h0M488.3 72.9h0M479.5 83.7h0M477.6 82.9h0M480.9 93h0M484.3 100.3h0M484.8 85.4h0M483.6 78.8h0M484.8 106.3h0M474.8 90.8h0M464.5 93.2h0M488.8 93.2h0M494.6 101.4h0M474 97.1h0M479.5 93.9h0M486.5 94.7h0M491.2 78.8h0M489 81.3h0M493.6 86.2h0M483.9 88.2h0M487.3 87.4h0M487.3 90.3h0M481.2 87.5h0M493 83.1h0M488.8 71.4h0M491.4 95.4h0M481.5 93h0M491.8 78.7h0M476.6 92.1h0M487.1 91.1h0M465.3 88h0M477 69.3h0M489.6 75.5h0M481 81.4h0M485.5 103h0M472.5 78.9h0M495.5 83.9h0M488.6 76.4h0M484.1 82.4h0M487.3 90.6h0M486.6 67h0M494.5 59.5h0M485.8 93.7h0M473.6 87.6h0M482.4 81.3h0M493.6 96.7h0M488.4 96.7h0M481.2 66.7h0M488.7 85.6h0M485.1 98.1h0M488.7 80.7h0M472.8 84.2h0M477.8 96.6h0M489.1 84.6h0M482.6 75.5h0M486.8 80.5h0M498.4 74.3h0M482 92.7h0M486 70.4h0M480.2 97.1h0M479.7 71.1h0M483.7 87.7h0M473.8 72.9h0M469 84.1h0M494.1 97.3h0M483.5 98.2h0M492.4 100h0M485.1 86.4h0M485.3 88.3h0M489.1 89.5h0M489.5 93.3h0M475.6 83.3h0M493 98h0M477.2 90.4h0M485.7 98.4h0M502.7 91.9h0M484.8 93.9h0M496.3 80.1h0M481.8 83.2h0M488.7 74.6h0M484.6 84.3h0M487.3 85.5h0M478.1 95.4h0M477.6 74.9h0M486.7 118.9h0M473 86h0M478.2 99.6h0M488.9 97.4h0M479.8 62.5h0M477.8 84.7h0M476.3 101.7h0M485.3 63.5h0M481.6 94.8h0M485.4 78.3h0M482.9 82.7h0M497.6 89.4h0M481.1 69h0M470.1 89.2h0M485.1 80.9h0M484.3 79.9h0M485.4 94.1h0M472.7 121.6h0M492.4 90.6h0M484 92.7h0M484 86.7h0M472.8 80.1h0M487.7 89.8h0M483.8 102.1h0M494 89.1h0M481.3 96h0M475.4 85h0M485.2 111.9h0M477.7 71.1h0M487.3 93h0M476.5 92.5h0M483.3 89.8h0M482.6 76.3h0M484 76.1h0M480.6 84.9h0M478.4 88.2h0M483.8 75.3h0M480.1 76.7h0M485.4 92.7h0M482.3 97.3h0M468.1 81.7h0M483.8 80.3h0M494.3 80h0M486.5 111.5h0M488.6 92h0M487.5 86.5h0M480.9 97h0M474.7 109.7h0M490.1 98.6h0M491.8 73.2h0M488.3 86.3h0M487.3 83.2h0M487.1 83.8h0M484.1 75.2h0M486.2 83.3h0M484.4 76.5h0M486.6 90.5h0M477.5 87.6h0M479.8 73.3h0M488.3 70.4h0M481.9 82.4h0M467 93.5h0M485.2 92h0M467.9 86.5h0M497.9 54.7h0M489.4 82.3h0M489.1 79.8h0M479.5 83.8h0M476.2 75.1h0M482.8 82.9h0M484.4 80.6h0M478.8 113.8h0M485.4 94h0M489.2 85.2h0M488.6 86.6h0M476.9 85.9h0M468.9 89h0M484.3 83.1h0M479.6 86.9h0M487.5 97.2h0M496 95.3h0M496 90.1h0M486.4 100.2h0M492.2 89.3h0M496 77.5h0M484.7 69.9h0M486.3 80.3h0M490.4 86.5h0M484.1 91h0M480.8 97.7h0M479 81.5h0M484.4 79.2h0M480 94.7h0M490 98.7h0M482 82.4h0M494.7 90.4h0M493 100.6h0M475.6 90.3h0M492 86.6h0M481.5 66.7h0M494.1 100.1h0M488 93.4h0M484.1 88.3h0M489.2 82.5h0M480.5 74.9h0M486.7 86.1h0M487.1 86.1h0M483.4 97.9h0M487.2 75.2h0M477.4 101.3h0M488.4 87.5h0M475.9 98.8h0M488.9 77.6h0M487.8 90.5h0M489.5 99.1h0M480.5 88.2h0M505.9 72.7h0M482.9 83.9h0M485.6 92.4h0M479.2 73.4h0M494.6 72.9h0M481.2 89.4h0M491.5 77.8h0M477.9 93.8h0M486.7 75.6h0M481.9 69.1h0M491.1 79.5h0M482.5 101.8h0M478.5 78.6h0M487.7 87.1h0M476.2 89.5h0M477.8 77.8h0M490 97.8h0M471.4 88.9h0M489.9 91.5h0M481.8 70.6h0M478.2 69.9h0M486.3 60.1h0M489.1 85.3h0M480.5 84.9h0M483.4 94.2h0M490.3 101.7h0M489.9 84.6h0M484.3 84.5h0M479.3 91.5h0M478 102.1h0M480.5 79h0M489.4 93.3h0M488.7 84.7h0M486.8 83.8h0M494.4 95.1h0M482.6 79.4h0M482 76.6h0M482 93.7h0M498.1 86.9h0M470.3 84.6h0M486.8 85.8h0M487.9 92h0M485.2 83.5h0M501.1 94.7h0M492.9 91.2h0M490.1 101.7h0M478.5 99.6h0M488.3 95.6h0M482.2 85.2h0M485.1 88.3h0M486.2 81.3h0M481.4 115.1h0M489.2 85h0M496.2 92.6h0M492 100.5h0M486.3 73.8h0M471.3 79.1h0M492.4 83.3h0M492.4 77.4h0M483.5 74.7h0M481.5 82.1h0M489.4 99.8h0M479.2 94.3h0M490.4 87.5h0M477.3 87.5h0M478.5 70.9h0M485 94h0M474.7 91.4h0M484.9 76.6h0M488.6 89.2h0M475.7 85.3h0M491.3 82.1h0M481 77.5h0M488.7 80.6h0M486.4 77.9h0M481.7 91.7h0M481.3 90.8h0M473.1 90.4h0M480.1 85.4h0M479.6 83.2h0M496.3 107.2h0M492 68.9h0M475.4 98.9h0M490.5 90.7h0M486.5 87.9h0M482.3 82.2h0M488.2 85.1h0M490.4 75.6h0M481 73.6h0M483 86.1h0M486.1 71h0M478.1 95.4h0M486.2 98.1h0M484.4 53.5h0M480.2 72h0M479.1 89.9h0M487.1 89.3h0M491 88.3h0M487.3 91.4h0M479 94.5h0M490.2 95.7h0M486.1 104.8h0M489.1 87.5h0M493 95.7h0M478.7 71.3h0M484 85.9h0M480.8 75.3h0M478.9 100.9h0M498.9 110.1h0M467.8 85.1h0M459.5 88.2h0M464.9 77.8h0M465.5 87.3h0M466.3 81.2h0M470.3 78.9h0M469.7 82.1h0M453.5 81.6h0M471.5 76.9h0M463.2 95h0M462.9 81.6h0M471.8 80.1h0M464.2 88.1h0M459.2 83.5h0M459.4 90.5h0M465.7 82.5h0M469.5 85.6h0M472.1 84.3h0M464.6 84.7h0M463.3 82.8h0M472.7 83.3h0M463.3 92.2h0M472 80.5h0M466.5 81.1h0M466.5 82.1h0M464.3 86.7h0M466.7 85.8h0M463.3 88.5h0M462.3 77.2h0M464.8 85.1h0M462.5 83h0M466.8 82.4h0M465.8 84.7h0M464.2 74.1h0M464.5 85.2h0M464.4 84.6h0M473.2 76.8h0M465.4 83.4h0M462.7 91.5h0M464.1 81.9h0M468.4 86.8h0M464.5 82.7h0M464.7 79.8h0M464.2 79.3h0M466.1 81.9h0M467.2 90.3h0M467.4 87.9h0M458 80.4h0M460.6 88.8h0M453.6 83.2h0M469 80.4h0M470.4 86h0M471.2 79.3h0M466 76.1h0M470.6 90.3h0M465.2 74.8h0M464.8 86.5h0M458.5 76.3h0M461.9 83.7h0M462.7 82.9h0M469.5 81.7h0M472.9 73h0M463.3 83.3h0M467.1 83.7h0M466.6 79.4h0M461.9 83.5h0M457.7 88.8h0M462 80.3h0M458.9 85.1h0M464 78.2h0M464.8 85.8h0M464.6 87h0M464.6 96.1h0M467.6 88.3h0M461.2 86h0M469.4 90.8h0M457.9 79h0M465.7 89.2h0M467.1 81.2h0M461.8 80.8h0M458.2 89.3h0M468.2 85h0M462.4 90.4h0M468.9 76.7h0M468.8 85.2h0M465.4 81.3h0M465.4 82.6h0M469.8 74.5h0M467.1 88.5h0M461.2 84.9h0M466.1 79h0M467.9 77.3h0M466.3 79.6h0M466.2 90.8h0M464.7 83.4h0M464.8 82.3h0M461.2 86.3h0M459 84h0M470.4 85h0M462.5 87.6h0M466.4 85.5h0M458.6 88.2h0M466.1 78.1h0M461.7 84.2h0M478.7 82.2h0M460.8 84.5h0M461.1 83.7h0M469.6 80.8h0M470.5 82.2h0M455.9 88.6h0M440 87.9h0M433.9 77.3h0M450.2 91h0M453.5 90.9h0M442.5 85.8h0M446 78.6h0M437.5 100.5h0M443.1 60.2h0M454.7 100.4h0M452 86.9h0M446.3 91.3h0M442.5 47.2h0M430.6 114.6h0M447.7 58h0M449 72.3h0M454.3 97.4h0M462.7 76.6h0M448.3 79.9h0M453.4 49.6h0M435.1 79.5h0M455.6 90.3h0M452.6 98h0M457 82h0M450.9 90.4h0M449 94h0M458 75.5h0M439.2 74.3h0M450.7 119.4h0M454.5 72.6h0M438.1 107.3h0M434.9 87.9h0M448.8 111.3h0M446.1 76.1h0M450.4 95.4h0M450.7 92.3h0M438.3 83h0M448 91.9h0M455 74h0M441.9 85.4h0M442.6 80.1h0M435.2 99.4h0M452.3 85.3h0M462.2 63.6h0M433.1 80.6h0M451.8 85.1h0M453 71.7h0M440.2 108.9h0M441.8 93.5h0M435.9 100.8h0M438.2 74h0M446.6 80.1h0M450.8 103.6h0M446.2 62.9h0M452.6 92.9h0M446.9 88.3h0M434.9 78.4h0M457.9 88.3h0M455.5 68.8h0M438.9 90.5h0M460.7 66.5h0M449.3 65.5h0M446.3 110.1h0M462 75.1h0M423.3 51.5h0M431.1 103h0M451.4 73.9h0M436.9 85.8h0M458.4 102.3h0M449.5 92.6h0M434 115.5h0M439.4 84.7h0M452.6 96.8h0M460.9 70h0M427.6 89.5h0M447.4 112.4h0M441.9 95.2h0M429.9 89.5h0M443.8 53.8h0M431.2 80.5h0M440.5 65.3h0M459.4 99.8h0M449.8 74.4h0M452.1 92.8h0M450.5 70h0M448.4 118.3h0M453.8 67.2h0M435 89.1h0M442.1 130.8h0M452.8 90.4h0M438.9 72.2h0M441.4 97.1h0M455.9 103.4h0M458.8 101.4h0M440 53.8h0M438.1 90.4h0M450.4 51.2h0M447.7 118.6h0M439.4 88h0M450.6 79.1h0M450.2 98.1h0M446 95h0M471.1 67h0M457.3 114h0M452.5 82.7h0M454.3 57.3h0M471.4 110.3h0M455 112.5h0M439 107.9h0M448.2 96h0M478.3 47.8h0M492.8 119.1h0M500.1 59.1h0M491.8 97.8h0M498 66.1h0M479.3 106.8h0M493.5 106.8h0M492.8 94.6h0M473.6 107.7h0M472.5 92.2h0M479.7 102.5h0M486 127.7h0M489 113.2h0M483.6 78.1h0M484.9 75.2h0M484.5 86.5h0M486.1 86.7h0M490 92.7h0M489.3 79.2h0M485 104.3h0M487.5 92.1h0M481.8 98.5h0M491.7 91.5h0M481.4 103.6h0M498.4 67.4h0M485.2 122.9h0M487.6 98.3h0M479.4 100.4h0M482.7 103.6h0M486.7 113h0M485.6 106.1h0M480.5 96.1h0M476.2 87.8h0M485.7 58.6h0M486.6 95.7h0M489.8 85.2h0M495.3 85.2h0M482.9 139.5h0M469.6 54.3h0M484.3 92.6h0M470.8 115.7h0M475.2 110.7h0M493.6 116.3h0M489.9 66.2h0M480.3 72.3h0M480.4 103.9h0M484.7 85.6h0M471.5 125.8h0M489.3 96.1h0M482.7 95.5h0M500.1 100.4h0M477 86.1h0M493.4 94h0M480 78.1h0M493.6 90.9h0M477.7 82h0M491.3 96.7h0M481.9 63.3h0M478.9 61.8h0M484.2 100.8h0M489.2 96.2h0M488.7 72.4h0M498 87.1h0M492 70.7h0M464.5 132.5h0M482.3 60.4h0M469.6 125.9h0M482.4 75.2h0M490.4 100.1h0M474.8 86.5h0M476 84.1h0M486.6 110.4h0M483.2 108h0M498.1 85.9h0M488 73.6h0M489.7 133.2h0M499.4 119.8h0M481.5 94.6h0M485.4 85.8h0M477.5 97.6h0M487.5 93.4h0M493.7 115.7h0M496.4 72.5h0M485.2 92.2h0M479.8 76.1h0M479.4 117.9h0M474.3 127.8h0M486.4 90h0M496.3 102.6h0M466.6 119.9h0M591.7 89.7h0M584.7 85.1h0M606.4 92.7h0M600.6 101.4h0M592.7 82.5h0M611.1 77.3h0M597.6 107.9h0M575.4 87.2h0M598.8 101.8h0M594.3 80.4h0M615.7 90.8h0M594.8 80.7h0M592.7 93.3h0M599.8 84.3h0M597.7 80.4h0M579.5 102.4h0M596.3 90.4h0M591.4 67h0M610.5 84.7h0M621.4 78h0M582.7 75h0M584.4 81.3h0M585.7 82.3h0M587.8 87.4h0M587.4 79.2h0M595.6 68.6h0M607 81.7h0M580.7 95.7h0M578.1 73.5h0M574.8 93.2h0M607.2 91.6h0M609.6 82.6h0M578.1 90.1h0M577.1 79.6h0M596.5 83.1h0M607 76.9h0M606.2 91.6h0M597.2 100.6h0M602.5 80.3h0M598.6 98.9h0M588.9 65.8h0M616 78.2h0M595 77h0M582.8 104.1h0M589.9 81.1h0M578.1 94.8h0M595.2 66.7h0M607.1 88.1h0M581.1 92.6h0M607.4 86.6h0M618.1 59.9h0M599.2 88.8h0M582.3 95.1h0M585.7 100.1h0M591.4 91h0M580.9 70.2h0M581.3 84.9h0M592.2 96h0M593.1 78.9h0M601.7 92.6h0M581.8 82.2h0M615.6 87.9h0M606.7 94.6h0M604.8 79.9h0M587.9 115.5h0M614.2 88.5h0M591.3 90.4h0M615 79.6h0M606.8 87.6h0M585.2 84.3h0M590 72.5h0M615.6 71.7h0M606.1 89.9h0M593.3 86.1h0M597.3 60.8h0M597.2 65.6h0M586.5 83.9h0M592.8 86.3h0M587.8 93.1h0M590.3 74.6h0M600.2 92.9h0M584.5 83.9h0M603 81.9h0M596.3 85.6h0M603.4 96.9h0M604.8 92.6h0M608.8 95.9h0M602 80.1h0M602.8 84.2h0M593.1 75.4h0M601.3 81.5h0M585.1 83h0M592.3 82.3h0M603.3 94.1h0M594.5 91.3h0M600 94.6h0M583.4 88.3h0M610.1 97.7h0M588.7 88.1h0M599.4 96.7h0M594.8 92h0M605.3 94.4h0M590.8 86.3h0M584 74.6h0M574.1 72.6h0M591.7 106.6h0M581.9 90.9h0M600.9 91.4h0M610.9 85.3h0M570.5 82.4h0M580.8 115.7h0M598.5 75.8h0M608.7 86.4h0M598.4 86.5h0M598.6 75.7h0M600.6 74.3h0M601.4 80h0M613.2 83.6h0M601.8 82.1h0M581.4 95.1h0M589.8 75.2h0M597.4 91h0M586.1 101.7h0M592.2 95.9h0M589.2 75.6h0M587.3 57.5h0M602.7 95.5h0M590.7 92h0M583 81.1h0M587.1 99.8h0M595.5 83h0M618.4 88.1h0M597.9 76.6h0M611.4 90.2h0M600.5 82.7h0M571.3 82h0M599.2 97.8h0M585.6 89.1h0M580.1 72h0M583.1 93.9h0M614.8 95.4h0M577.6 78.7h0M588.2 83.1h0M607.8 87.5h0M602.4 84.5h0M576.1 88.2h0M593.8 93.5h0M589.3 82.1h0M592.9 107.8h0M603.3 79.9h0M588.6 81.6h0M591.5 106.7h0M611.2 110.8h0M574.6 87.4h0M590.9 85.1h0M600.2 76.3h0M581.2 98.4h0M588 88.7h0M580.5 78.5h0M596.7 91.1h0M588.1 100.7h0M603.7 93.9h0M606.3 109.1h0M595.5 98.6h0M590.8 91.4h0M597.9 86.7h0M595.6 92.5h0M581.5 99.2h0M606.9 95.6h0M597.5 97.5h0M603.7 89.2h0M579.9 94.7h0M604.7 99.2h0M618.3 85.3h0M601.8 74h0M578.9 104.3h0M595.4 92.8h0M594.3 82.6h0M597.4 89.3h0M592.4 84.5h0M600.5 69.9h0M589.8 85.2h0M597.5 72.8h0M587.3 89h0M596.1 85.9h0M606 98.3h0M589.5 85.8h0M602.4 90.7h0M585.1 84h0M590.8 83.2h0M592.3 73h0M608.8 96.9h0M586.5 88.7h0M608.5 81.2h0M578.7 89.1h0M593.2 82.9h0M605.1 79.8h0M602.7 89.5h0M583.7 99.2h0M581.4 84.3h0M604.7 72.8h0M580.9 80.9h0M601.4 105h0M589.2 78.9h0M594.8 98.9h0M620.7 84.6h0M612.2 94.4h0M604.3 85.9h0M579.6 71.2h0M598.5 82.9h0M595.5 108.1h0M593.8 85.7h0M609.8 92.6h0M575.8 83.6h0M598.5 85.7h0M596.3 90.2h0M586.6 91.7h0M614.1 109.2h0M580.8 86.8h0M595.2 85.2h0M595.8 80.4h0M570.5 73.9h0M579 70.9h0M584.1 93.6h0M603.7 68.4h0M605.4 101.1h0M601.5 95.6h0M597.6 84.1h0M570.4 75.5h0M597.3 87.3h0M589.2 87.2h0M607.9 98.3h0M609.9 79.6h0M619.8 83.2h0M602.8 86.5h0M604 84.3h0M583.4 80.8h0M595.8 69.9h0M581.1 70.6h0M604.9 80.3h0M581.6 84.8h0M592.5 97h0M585.7 110.1h0M589.6 104.2h0M600 91h0M588.6 105.8h0M597.3 85.9h0M583.7 81.8h0M610.4 110.2h0M587.7 76.4h0M606.1 82.9h0M618.7 84.4h0M567.7 101.6h0M583.8 81.1h0M592.5 94.8h0M607.9 83h0M589.4 74.8h0M599.1 89.4h0M586.7 88.7h0M601.1 75.5h0M581.3 78.4h0M604.2 79.1h0M561.4 96.7h0M573.7 91.7h0M615.1 89.4h0M596.7 91.9h0M584.8 82.3h0M619.4 91.8h0M606.6 81h0M607.4 73.7h0M590.1 80h0M601.8 89.2h0M600.5 88h0M576.2 97.6h0M601.4 70.2h0M592.7 84.9h0M609.2 91h0M609.4 77.4h0M587.6 89.6h0M588 83h0M596.9 75.8h0M602.1 98.3h0M590.2 73.2h0M593.5 97.1h0M601.6 82.9h0M599.5 77.7h0M607.8 78.2h0M597.5 79.7h0M584.8 78.6h0M575 89.8h0M603.9 68.4h0M591 99.5h0M590.9 95.4h0M591.5 100.9h0M577.1 77.3h0M590.4 63.9h0M565.5 80.8h0M590.2 85.4h0M584.7 90.1h0M615.4 81.9h0M599.8 86.2h0M592.3 88.6h0M596.6 71.6h0M603 105.1h0M586.2 75.9h0M592.2 89.7h0M590.7 97.9h0M622.7 79.3h0M595.6 87.1h0M572.6 103.4h0M603.7 84.3h0M623.9 97.6h0M583.9 90h0M634 89.4h0M594 94.3h0M606 84.8h0M588.4 85h0M591.7 96.7h0M580.8 89.7h0M582.8 92.1h0M570.5 75.2h0M607.6 87.3h0M581.7 99.2h0M598.9 96.1h0M598.4 90.6h0M587.4 82h0M595.2 81h0M593.6 91.5h0M589.1 101.3h0M595.3 87.6h0M595.3 100.2h0M583.1 84.2h0M580 99.2h0M585.1 77.2h0M596.1 89h0M610.3 76.5h0M611.3 93.7h0M598.2 92.9h0M605.4 77.7h0M596.1 79.7h0M607.2 82.7h0M596.1 72.3h0M599.1 77.9h0M591.4 78.5h0M594.6 95h0M616.2 101h0M581.1 82.7h0M594.7 84.3h0M587.9 89.3h0M605.5 81.9h0M615.3 84.4h0M591.1 95.5h0M563.2 89.5h0M601.6 86.3h0M601.6 81.4h0M575.5 101.8h0M591.9 81h0M593.9 88.4h0M568.3 76.8h0M602.3 81.2h0M599.6 88.1h0M597.3 83.2h0M582.5 92.5h0M586.5 87.8h0M587.4 73.3h0M600.1 64.1h0M583.4 97.1h0M611.3 81.3h0M598.9 101.9h0M569.8 87.3h0M613.8 79.5h0M596.4 92.7h0M588.3 84.4h0M595.7 87.3h0M573.8 77.9h0M596.7 93.5h0M566.5 98.1h0M582.9 81.9h0M610 105h0M609 81.5h0M590.7 89.6h0M583.5 70.8h0M605.2 67.9h0M594 108.1h0M597 101.4h0M601.7 98.6h0M582.2 70.2h0M603.6 89.4h0M570.3 91.3h0M611.2 87.9h0M576.6 90.1h0M587.3 78h0M586.9 85.5h0M602.8 75.7h0M603 83.6h0M598.6 90.8h0M600.7 79.3h0M599.8 84.4h0M593.6 82.8h0M572.6 87.3h0M568.1 96.3h0M568.1 89.5h0M593.9 91.1h0M591.8 72.7h0M592.9 83.5h0M597 95.3h0M591.7 78.5h0M583 82.8h0M577.2 77.4h0M572.7 100.4h0M608.4 82.6h0M604.8 79.8h0M578.9 93.3h0M591.3 98.1h0M599.5 92h0M612.7 96.9h0M587.5 89.2h0M596.4 85.8h0M607.7 82.7h0M574.4 82h0M586 81.1h0M593.9 90.8h0M586.1 86h0M618.6 88h0M604.3 93.1h0M596.6 86.5h0M583.3 73.4h0M604.3 79.2h0M601.6 75.9h0M588.4 68h0M589.4 88.1h0M577.5 75.1h0M593.5 74.3h0M604.3 76.3h0M605.8 95.8h0M601 84h0M603.8 97.1h0M587.6 86.2h0M588.9 82.7h0M608.2 92.7h0M599.5 93h0M585.2 88.2h0M600.1 76.7h0M603.9 82.5h0M602.4 75.3h0M595.6 84.5h0M588.4 88h0M598.9 101.9h0M613.8 101.2h0M596 93.8h0M586.6 96.6h0M598.2 89.3h0M580.2 114.7h0M596.9 102.3h0M590.9 113.5h0M605.3 90.9h0M595.5 91.2h0M606.3 97.6h0M620.7 88.9h0M591.8 90.1h0M584.7 77.2h0M599.6 96.4h0M593.3 88.4h0M595.9 95.1h0M587.4 84.8h0M600.6 69.3h0M595.1 92h0M569.5 98.7h0M591.6 74.2h0M598.1 77.3h0M607.8 84h0M587.6 84.5h0M585.1 70h0M607.4 104.6h0M587.3 97.1h0M595.5 80.8h0M599.7 68.9h0M602.7 90.6h0M594.3 106.8h0M581.5 95.3h0M605.8 98.5h0M589.3 77.6h0M588.3 89.3h0M617.2 72h0M604.3 106.8h0M582.1 92.7h0M588.7 66h0M591.4 68.5h0M585.7 91.8h0M572.3 88.4h0M603.4 83.9h0M603.1 93.2h0M597 107.1h0M589.6 90.7h0M596.7 69h0M601.5 85.4h0M582.3 73.9h0M590.4 78.9h0M587.8 90.2h0M602.2 85.3h0M597.2 76.3h0M579.4 86.7h0M587.2 78.8h0M614.4 92.3h0M583.1 84.5h0M595.9 90.9h0M587 84.3h0M608.4 94.4h0M593.5 85.6h0M589.2 86.8h0M580.8 81.3h0M591.4 88.3h0M603.6 69.2h0M601.9 113.6h0M579.1 80.1h0M612 87.9h0M591.4 82.2h0M582.2 82h0M595.6 90.9h0M587.1 81.8h0M587.6 82.6h0M587 73.1h0M593.1 77.6h0M588.5 75.2h0M574.7 104.9h0M600.1 73.5h0M588.2 76.1h0M607.8 88.8h0M600.2 101.1h0M601.2 69.9h0M596.2 71.4h0M608.9 88.1h0M590.4 90.2h0M582.8 72.7h0M598.1 68.8h0M563.2 77.2h0M589.9 94.3h0M596.6 86.4h0M589.4 94.3h0M608.4 85.8h0M602.1 86.5h0M595.4 93h0M589.6 85.6h0M606.6 89.2h0M586.4 77.7h0M589.4 80.8h0M602.6 91.5h0M600.9 84.4h0M617.2 79.3h0M591.6 93.4h0M572.7 92.3h0M601.6 86.7h0M608.4 79.2h0M592.2 95.8h0M611.8 111.8h0M614.3 78.6h0M586.5 71.4h0M588.6 79h0M579.9 77.5h0M600.2 74.1h0M602.2 75h0M600.9 95.3h0M580.1 95.4h0M585.4 101.6h0M577.8 94.2h0M575.8 82h0M578.8 97.6h0M576.1 80.7h0M592 83.3h0M598.9 75h0M601.1 99h0M593.8 96.9h0M586.4 82.1h0M593.9 83.6h0M600.5 87.1h0M590.7 88.8h0M594.6 95.2h0M590.6 87.4h0M588.1 90.7h0M594.4 71.7h0M581.4 83.7h0M605.9 68.8h0M576.3 104.6h0M599.2 100.7h0M578.6 93.9h0M611.1 97.8h0M603.9 106.8h0M584.8 96.1h0M588.9 70.8h0M581.2 84.6h0M593.3 63.2h0M598.7 78.6h0M623 74.3h0M578.5 86.6h0M608.1 90.6h0M587.4 77.4h0M597.1 83.9h0M604 89.5h0M600.2 85.1h0M598.8 84.9h0M591.8 62.6h0M593.9 82.3h0M595.7 94.6h0M607.6 89.2h0M577.4 71.8h0M588.4 83.9h0M579.9 89.3h0M583.1 76.9h0M585 93.4h0M606.4 78.6h0M618.3 83.3h0M609.3 85.6h0M580.6 108.9h0M594.8 83.4h0M581.2 80.9h0M599 93.8h0M608.4 81.9h0M600.6 88.6h0M603.8 64.1h0M592.3 89.6h0M571.7 86.4h0M571.6 73.7h0M592.9 100.2h0M600.5 84.2h0M608.4 84.7h0M590.1 73.5h0M594.8 70.4h0M596.9 80.9h0M606 71.4h0M593.2 91.5h0M581.6 95.3h0M606.2 80.3h0M598.6 70.5h0M598.3 82.7h0M579.6 76h0M593.9 88.3h0M574.6 88.4h0M571.3 82.4h0M591.3 87.3h0M589.1 97h0M600.4 103.6h0M610.3 81.4h0M593.6 93.8h0M614.2 84.2h0M587.4 76h0M602.6 99.4h0M579.7 90.5h0M595.4 88h0M590.4 90.1h0M591.6 85h0M600.6 76.1h0M572.7 104.3h0M595.3 95.6h0M584.8 89.2h0M595.3 96.2h0M598.4 99.4h0M589.8 84.6h0M589.8 92.5h0M581 83.3h0M600.2 93h0M586.4 84h0M599 110.9h0M577.9 83h0M609.4 91.7h0M582.5 91.2h0M607.1 83.2h0M588.9 95.9h0M600.2 85.7h0M592.4 82.5h0M601.7 86.6h0M594 79.1h0M608.3 98.5h0M601.6 92.8h0M601.7 96.4h0M612.8 73.1h0M586.1 89.3h0M608.7 78.9h0M594.8 87.4h0M577.3 99.3h0M599.4 89.2h0M591.7 84.8h0M613 97.8h0M588.5 96.7h0M594.6 105.1h0M596.6 68h0M572.5 89.9h0M599.7 82.4h0M582.8 77.8h0M609.9 87.7h0M612.8 75h0M593.9 64.3h0M576.1 77.6h0M596 84h0M596 105.3h0M602.1 79.4h0M590.7 74.9h0M580.6 66.8h0M592.4 83.1h0M583.6 84.2h0M614 88.1h0M586 72.1h0M586.6 79h0M593.5 63.9h0M580 88.3h0M589 70.9h0M592.5 59.1h0M588.5 98.2h0M591.2 91.6h0M608 90.1h0M598.9 90.1h0M578.9 76.2h0M589.2 97.3h0M602.4 76.1h0M586.7 105.7h0M594.9 88.8h0M593.7 68.1h0M600 95.3h0M592 106.3h0M592.4 84h0M584.3 97.3h0M598.1 84.5h0M583.5 80.3h0M613.5 60.8h0M593.8 99h0M591.5 82.1h0M602.9 90.4h0M593 75.3h0M595 77.5h0M593.4 97.8h0M585.8 82.7h0M583.6 82.6h0M586.1 74h0M606.8 88.7h0M586.9 94.4h0M589.4 82h0M588.9 84.7h0M601.9 74.4h0M616.3 100.7h0M583.6 80.4h0M600.2 85.1h0M595.3 103.5h0M590.6 84.4h0M599.7 71.1h0M579.7 77.4h0M603.4 83h0M596.5 104.5h0M582.8 88.9h0M612 84.4h0M603.6 95h0M607.1 99.7h0M577.6 79h0M590.9 101h0M588.1 95.3h0M601.1 91.2h0M609.3 62.9h0M572.5 88.6h0M594.2 100.7h0M592.6 83.9h0M605.2 109.9h0M593.5 87.4h0M579.7 76.5h0M591.8 92.7h0M582.3 89.7h0M585.2 95.1h0M594.5 84.5h0M588.6 99.8h0M597.1 81.1h0M576.9 88h0M620.1 74.2h0M608.2 78.7h0M602.1 88.8h0M579.4 80.1h0M569.7 82.2h0M584.3 84.7h0M591.4 89.3h0M619.1 94.5h0M608.7 94.5h0M588.1 97.1h0M607.6 88.8h0M607.8 81.3h0M594.2 70.8h0M607.7 83.3h0M597.7 78.7h0M586.6 68.4h0M580.8 103.4h0M592.6 68.2h0M605.2 90.4h0M578.8 92.4h0M575.9 84.4h0M600.2 112.9h0M563.4 87h0M614.5 79h0M589.1 104.6h0M602.2 78.7h0M614.9 72.3h0M577.7 76.6h0M582.2 80.3h0M619.2 87.2h0M590.8 90.2h0M592.6 71.4h0M596.6 90.3h0M605.9 109.4h0M608.9 79.5h0M595.2 85.4h0M590.2 93.8h0M593.6 99h0M597.4 80h0M608.7 77h0M595.5 76.6h0M614.5 97.9h0M584.3 95.9h0M600 64.8h0M613.8 65.1h0M608.5 74.2h0M597.7 71.6h0M584.1 90.9h0M586 89h0M592.2 106.7h0M597.5 94.8h0M591.2 88h0M577.6 98.8h0M585.7 77.7h0M599.8 72.6h0M603.4 87.1h0M578.3 96.3h0M589.9 70.3h0M575.2 95.9h0M587.7 95.5h0M633.8 81.7h0M594.7 88.5h0M590.1 84h0M587.4 87.6h0M580.4 95h0M573.1 78.6h0M593.5 97.3h0M590.9 95.6h0M610.6 96h0M575.6 66.8h0M598.9 67.9h0M609.1 93.8h0M572 80.8h0M601.4 79.8h0M575.9 79h0M599.9 73.1h0M610.6 83.9h0M594 79.4h0M597.2 80.1h0M586.2 91.6h0M597.3 74.8h0M606.7 98.2h0M591.9 64.2h0M592.4 112.3h0M598.4 73h0M603.3 92.7h0M575.6 96.1h0M594.7 86.7h0M586.3 94.3h0M599.6 85.7h0M605.7 68.9h0M597.5 90.3h0M608.5 98.4h0M582.9 81.2h0M589.4 69.5h0M582.9 80.6h0M594.7 90.1h0M595.1 89.8h0M591.8 98h0M580.4 92.4h0M593.1 91.9h0M589.1 66.4h0M600.8 109.5h0M591 87.3h0M607.1 95.6h0M596.6 83.2h0M573.1 85.2h0M592.1 87.4h0M577.9 102.8h0M604.9 102.2h0M610.1 93.1h0M593.7 107h0M599 82.8h0M577.7 92.1h0M568.7 82.2h0M587.8 100h0M591.1 87.2h0M577 96.8h0M595 104.4h0M597.5 65.7h0M601.3 109h0M611.5 90.1h0M603.1 83.6h0M589.9 67.3h0M595.2 83.8h0M600.8 63.4h0M582.3 87.7h0M609 85.1h0M604.2 105.5h0M591.5 83.5h0M586.8 97.8h0M636.9 98.8h0M603.5 108h0M604.6 84.3h0M614.3 94.7h0M605.1 71.3h0M596.4 75.5h0M602 84.1h0M583.8 86.6h0M602.1 74.5h0M576.7 82.7h0M598.8 94.1h0M600.3 82.2h0M576.5 85.3h0M615.7 77.8h0M581.1 101.1h0M605.8 105.1h0M588.1 89h0M597.6 85.7h0M586.7 104h0M622.2 91.8h0M605.7 80.1h0M614.5 73.1h0M602.9 80.9h0M602 109.4h0M595.8 80.9h0M591.5 116.6h0M601 86.9h0M596 84.7h0M592.5 100.5h0M578.7 84.4h0M590.7 90.8h0M601 76.3h0M588.9 74.2h0M598.1 79.4h0M592.6 89.2h0M582.6 80.1h0M584 66.8h0M585.9 91.8h0M591 85.3h0M591.3 84.1h0M606.9 80.7h0M582 63.9h0M571.2 103.3h0M602 82h0M589.1 92.4h0M592.9 101.3h0M623 98.6h0M610.8 89h0M600.9 87.1h0M605 90.1h0M595.6 96.3h0M605.1 92.9h0M587.4 82.4h0M586.3 91.6h0M589 90.9h0M612.1 94.1h0M611.9 89.1h0M587.5 101h0M607.4 89h0M592.5 96.1h0M606.4 87.4h0M590.7 81.1h0M605.1 77.3h0M593.1 85.4h0M591.1 92.5h0M594.1 100h0M596.1 86.1h0M587.8 81.7h0M578.9 81.8h0M613.5 100.2h0M589.9 88.1h0M573.9 81.9h0M568.8 94.6h0M562.7 73.4h0M587.5 88.2h0M609.7 86.5h0M575.9 85.6h0M590.8 75.2h0M573.6 97.1h0M606.9 104.2h0M598.5 73.4h0M598 88.2h0M609.7 93.6h0M613 110.1h0M606.1 82.7h0M587.9 77.3h0M579.4 86.9h0M582.6 107.6h0M574.6 87.7h0M614.8 89.7h0M592.3 105.2h0M595.9 65.1h0M596.7 64.8h0M617.3 96.3h0M588.1 94.9h0M607.8 72.8h0M597.9 92.3h0M592.7 87.4h0M572.7 89.2h0M604.8 78.7h0M586 82.4h0M589.3 78h0M597 87.5h0M595.5 84.6h0M607.2 104.3h0M586.9 93.4h0M596.3 70.9h0M597.6 91.3h0M594.8 101.7h0M602.2 89.9h0M591.6 98.1h0M608.1 86.6h0M586.4 94.2h0M578.2 77.4h0M594 95.1h0M607.8 72.9h0M588.6 100.2h0M587.4 71.5h0M590.6 65.3h0M596.3 92.4h0M592.5 85.2h0M598 88.2h0M575 91.4h0M611.4 86.7h0M601.1 77.9h0M584.7 89.2h0M610 90.6h0M599.6 92.1h0M611.1 107.4h0M581.2 79.5h0M613.3 87.7h0M595 92.7h0M571.2 82.4h0M603 74.7h0M591.1 81.2h0M583 97.9h0M592 84.2h0M572.5 93.3h0M601.1 79.5h0M592 91.6h0M591.4 80.1h0M610.5 78.4h0M594.9 88.2h0M587 87.5h0M583.7 102.1h0M593.8 70.3h0M606.5 92.2h0M587.9 103.5h0M582.7 101h0M604.9 83.1h0M595.1 80h0M594.2 81.9h0M618.1 90.1h0M580.7 88.9h0M596.7 90.6h0M574.4 93.1h0M591.1 76h0M601.1 75.4h0M607.2 74.4h0M580.1 73.2h0M603.9 86h0M603.3 90.2h0M593.1 113h0M622.3 92.5h0M594.5 87.2h0M584.5 101.6h0M599.3 79.5h0M573.4 90.5h0M612.1 97h0M605.7 95.1h0M589.9 91.1h0M601.4 83.4h0M600.5 74.3h0M616.4 85.4h0M587.5 80.9h0M579.8 94.1h0M571.4 85.6h0M591.1 92.8h0M576.7 70.5h0M592.5 97h0M599.1 78.3h0M589.5 71h0M583.8 72.9h0M608 80.6h0M592.2 98.5h0M597.1 94.3h0M605.2 75h0M579.7 87.9h0M584 85.9h0M622.7 70.9h0M592.7 76.8h0M582.6 66.1h0M591.6 78.1h0M588 59.8h0M580.5 78.8h0M589.8 77.4h0M594.2 78.8h0M594.3 78.6h0M600.5 98.9h0M574.8 83.4h0M577.5 89.5h0M603.4 94.7h0M589.4 96.2h0M608.2 94h0M597.9 81.3h0M578.5 75.8h0M600.5 79h0M583 82.2h0M597.4 87h0M608.4 86.1h0M618.4 98.2h0M593.7 85.9h0M602.4 105.4h0M597.9 97.5h0M603.4 82.1h0M565.6 95.8h0M590.1 57.6h0M597.7 101.1h0M599.8 91.2h0M585.9 91.1h0M603.8 69.8h0M606.9 112.8h0M595.2 84.4h0M591.9 85.5h0M590.4 98.5h0M596 85h0M607.8 78.3h0M611.4 93.7h0M589.1 76.6h0M583.9 94.6h0M585.5 88.4h0M605.6 98.5h0M597 74.6h0M597.8 99.7h0M599.9 90h0M598.7 107.2h0M593.1 80.3h0M582.7 106h0M587.5 94.2h0M595.8 95.1h0M598.9 79.6h0M590.3 92.7h0M589.8 93.9h0M609.9 78.5h0M589.2 75.2h0M597 79.1h0M590.9 102h0M584.8 88.6h0M577.3 96.6h0M588.4 90h0M585.2 88.2h0M604 89.3h0M581.5 82.8h0M589.8 99.5h0M601.8 88.8h0M593.2 89.3h0M600 72.8h0M603.9 90.2h0M575.8 80.1h0M589.8 81.9h0M583.6 97.6h0M609.6 75.8h0M593.1 85h0M600 93.4h0M613.6 98.8h0M590.5 81.7h0M595.3 90.3h0M599 89.9h0M591.5 75.5h0M608.6 65.1h0M603.6 67.3h0M605.7 93.1h0M595 88h0M590.6 73.3h0M590.5 80.5h0M590.4 82.9h0M576 83.3h0M598.5 86.7h0M603.6 109.6h0M594.3 79h0M588.9 88.5h0M594.9 79.1h0M597 80.6h0M598.1 78h0M614.6 84.6h0M584.9 81.3h0M598.5 90.6h0M602.2 89.2h0M595.3 77.9h0M591.8 106.6h0M583 75h0M587.8 90.6h0M602.3 109.2h0M610.7 79.7h0M587.1 100.5h0M599.7 101.5h0M600.2 90.5h0M605.7 68.1h0M597.2 101.5h0M599.4 87.9h0M604.4 81.4h0M581.4 100h0M594.9 79.6h0M574.7 97.9h0M572.4 81.4h0M585.2 92.5h0M577.3 76h0M600.1 82.9h0M605.5 77.6h0M591 79.7h0M592.9 88.9h0M591.8 85.2h0M591.5 88.9h0M595.9 100.1h0M598.3 85.8h0M589.3 68h0M585.7 84h0M588.6 87.8h0M603.3 97.4h0M589.7 97.5h0M610.5 96.7h0M591.7 84.7h0M609.6 93.6h0M581.1 72.3h0M586.7 100.2h0M599.7 91.5h0M599.8 92.2h0M592.7 83.1h0M617 87.6h0M595.2 80.2h0M597.6 92.8h0M588.1 73.4h0M612.7 96.9h0M603.9 92.5h0M599 107.7h0M576.2 86.6h0M598.4 86h0M589.2 89h0M598.7 87.4h0M604.5 85.9h0M586.1 75.7h0M596.8 75.7h0M604.1 81.2h0M596.2 84h0M590.7 74.9h0M582.7 75.1h0M587 84.1h0M580.3 94.6h0M605.3 85h0M595.5 93.9h0M580.9 96.9h0M594.3 94.8h0M580.1 82.7h0M558 82.9h0M607.7 68h0M607.3 80h0M578.1 91.8h0M586.4 75.9h0M596.6 100.8h0M590.1 101.6h0M584.9 83.2h0M588.7 96.4h0M591.7 72.5h0M588.2 76.3h0M596.7 83.2h0M591.8 87.1h0M585.9 85.1h0M594.6 78.2h0M576 107.1h0M610.3 90h0M575.1 89.9h0M593.4 94h0M598.1 88.8h0M598.9 84.6h0M597.2 81.3h0M608.3 70.3h0M581.9 102.3h0M593.6 77.6h0M595.9 70h0M588.9 78.8h0M587.8 70.6h0M608.5 107.4h0M586.5 90.7h0M589 101.4h0M591.3 101.8h0M592 92.8h0M596.1 92.8h0M592 79.6h0M598.4 86.1h0M595.8 80.8h0M599.6 87.4h0M609.4 79.9h0M585 99.9h0M612.4 94.8h0M589.3 85.9h0M601.6 69.9h0M596 94h0M591 96h0M572.7 86.3h0M612 74.1h0M586 91.4h0M585.6 97.7h0M605.9 67.4h0M595.1 92.8h0M615.1 68.5h0M612.7 87.8h0M602 104.8h0M597 87.9h0M602.6 91.9h0M579.8 83.7h0M596.1 86.9h0M595.9 111h0M589.1 100.6h0M597 83.8h0M578.2 83.1h0M604.1 87.2h0M608.4 109.4h0M580.1 89.1h0M595.8 98.3h0M611.2 83.3h0M598.8 74h0M583 100.5h0M583.4 86.2h0M603.6 79h0M614.3 79.9h0M582.4 80.2h0M594.6 80.8h0M585.7 71.3h0M591.1 99.2h0M597.6 90.9h0M593.8 96.9h0M586.7 83.5h0M617.2 90.5h0M592.5 88.7h0M592.2 99h0M606.4 95.3h0M594.4 90.7h0M592 80.4h0M604.6 74.8h0M582.9 78.9h0M602.4 80.5h0M605.5 81.5h0M601.5 74.4h0M592.3 103.9h0M594.1 89.7h0M575.5 66.5h0M592.8 75.9h0M597.4 73.4h0M603.7 89.4h0M595.8 97.8h0M590 77h0M585.1 93.3h0M593.7 84.2h0M595.7 98.7h0M607.4 100.9h0M594.3 90.2h0M588.8 94.3h0M593 87h0M588.9 83.2h0M591.7 75.2h0M570.2 90.3h0M576.9 86.3h0M581.2 83.1h0M599.3 86.2h0M593.4 85.1h0M595.8 76.5h0M606.9 81.6h0M582.9 98.6h0M606.6 84.6h0M598.4 101.2h0M586.4 75.3h0M610.4 73.3h0M578.7 88.3h0M581.9 94.9h0M591.9 80.3h0M598.6 93.3h0M592.1 96.5h0M571 97.9h0M590.9 85.9h0M593.3 86.5h0M621.9 70.3h0M609.1 87.2h0M595.5 89.8h0M582.3 101.3h0M597.9 74.1h0M581.5 78.4h0M596.4 76.9h0M598.2 96.1h0M589.8 61.4h0M596.9 76h0M590.6 107.9h0M588 93.6h0M610.9 73.5h0M600.5 86.4h0M590.8 95.6h0M585.8 92.6h0M596.1 84.8h0M600.3 79h0M603.4 95.4h0M610.2 86.9h0M599.2 95.2h0M582 91h0M616.2 82.3h0M606.8 101.6h0M603.2 82h0M608.7 91.4h0M578 80.6h0M590.1 84.7h0M588.6 84.5h0M607.1 80.3h0M581.4 89.4h0M590.7 100.2h0M610.6 105.8h0M601.2 101.5h0M590 85.3h0M614.6 101.7h0M579.7 91.2h0M599.1 105.1h0M591.7 74.3h0M599.7 102h0M591.2 81h0M585.1 98.7h0M596.5 82.3h0M579.9 96.2h0M599.9 84.2h0M590.7 68h0M604.2 77.2h0M589.3 84.6h0M586.9 87.2h0M598.5 64.4h0M607.5 74.9h0M571.7 79.6h0M595.4 84.9h0M600.9 89.2h0M578.7 78.7h0M584.6 71.7h0M601.1 90.1h0M585.2 83.7h0M587.2 96h0M612.7 81.7h0M583.9 93.5h0M584.8 78h0M569 89.7h0M582.2 87.9h0M580.8 91.5h0M612.7 77.6h0M607.3 85.8h0M580.4 78.5h0M615.4 85.4h0M602.5 93.3h0M592.2 117.1h0M602.9 87.4h0M598.2 94.2h0M585.8 88.1h0M575 98.4h0M584.2 91.7h0M594 97.5h0M590.2 90.6h0M586.1 111.2h0M604.7 100.9h0M582.6 69.9h0M603.8 90h0M588.9 87.8h0M595.3 64.8h0M581.9 78.4h0M594 82.4h0M585.6 79.6h0M575.2 88.3h0M593.9 69h0M593.5 94.5h0M603.1 94.8h0M597.2 90.6h0M583.1 83.7h0M587.4 87.1h0M567.1 82.4h0M581.9 98.6h0M608.2 92.1h0M610.5 107.1h0M602.3 83.4h0M597.4 101.6h0M600.4 81.3h0M599.4 85.3h0M575.3 76.6h0M584.6 92.3h0M606.9 86.5h0M606.9 93.3h0M596.7 102h0M590.7 86.5h0M589.9 90.9h0M588.2 96.1h0M584 86.5h0M573.2 81.6h0M595.7 90.6h0M589.2 92.1h0M591.7 94.9h0M612.7 95.4h0M600.5 80.4h0M586.4 91.5h0M600.4 99.4h0M577.7 82.4h0M605.5 90.7h0M586.9 81.5h0M596 101.3h0M614.1 64.7h0M596.1 83.4h0M582.9 91.3h0M598.1 78.6h0M596.6 104.8h0M607 67.1h0M578.3 65.4h0M583.5 80.7h0M593.2 101h0M576.2 81.5h0M607.2 76.5h0M570.7 100.6h0M584.5 90.5h0M577.1 77.6h0M586.5 88.8h0M603.3 82.6h0M601 97.2h0M604.8 89.2h0M601 72.9h0M570.7 78.5h0M597.6 79.5h0M572.8 93.1h0M588.3 93.2h0M589.6 72.4h0M587.8 83.4h0M599.8 92h0M584.8 105.6h0M614.1 91h0M601 120.3h0M607.7 87.1h0M602.8 99.3h0M604.4 81.1h0M593.6 69.5h0M616.7 88.5h0M582 95h0M599.4 92.3h0M594.1 89.2h0M591.5 80.9h0M597.8 72.5h0M585.5 81.5h0M604.1 94.7h0M603.1 103.1h0M595.2 30h0M602.6 97.2h0M582.1 105.3h0M573.2 108.4h0M587.4 93.3h0M591.4 98.2h0M622.8 79h0M591.5 85.2h0M606 95.7h0M603.8 67.8h0M618.4 73h0M595.4 90.1h0M601.6 63.7h0M591.9 87.6h0M584.1 61.1h0M582.5 90h0M585.1 87.1h0M610.6 77h0M597.4 70.4h0M592.3 77.9h0M594.3 48h0M587.6 79.8h0M593.7 88.7h0M593.6 107.4h0M601.6 77.9h0M604.6 83.6h0M575.3 110.6h0M596.8 116.6h0M609.9 78.2h0M582.3 104.7h0M591.2 107h0M596.1 95.6h0M606.8 69.6h0M601 70.4h0M591.6 96.6h0M599.9 126.9h0M606.1 83.6h0M598.6 113.7h0M615.5 119.4h0M599 65.1h0M582 76.3h0M585.1 112.7h0M592.6 103.5h0M591.7 96.1h0M601.3 86.5h0M598.2 97.5h0M613.9 75.8h0M603.5 129.9h0M611.2 66.8h0M585.3 55.6h0M589.2 89.2h0M602 111.6h0M595.2 78.2h0M601.4 85.7h0M597 69h0M587 85.4h0M613.8 69.1h0M607.3 69.3h0M576.3 61.2h0M587.1 77.2h0M594.4 118.8h0M602 85.7h0M593.3 90h0M578.5 125.3h0M603.7 75.7h0M591.8 69.4h0M608 95.7h0M597.7 65.4h0M605.7 92.4h0M603.8 106.6h0M604.4 68h0M588.4 77.6h0M606 116h0M596.6 68.3h0M579.9 74.9h0M589.7 90.8h0M590.3 81.2h0M599.6 71.9h0M602.1 114.3h0M581.4 76.6h0M602.6 92.4h0M593.5 79.5h0M582.1 82.7h0M603.8 62.9h0M585.5 102.7h0M580.5 79.2h0M602.9 108.7h0M604.6 66.5h0M586.7 78.3h0M606.4 94.9h0M605.8 88.6h0M588.3 75.3h0M617.2 84.3h0M593.6 64.2h0M596.9 87.6h0M566.9 40.7h0M601.6 89.6h0M587.2 110.1h0M599.4 102.1h0M574.7 101.4h0M607.6 79.4h0M611 95.1h0M616 79.7h0M560.4 85.1h0M601.1 84.9h0M598.3 28.3h0M559.6 102.7h0M585.9 94.5h0M593.4 101.2h0M610.7 70.2h0M584.8 98.7h0M596.7 95h0M593.7 48h0M598.6 56.1h0M589.8 87.6h0M604.6 75.1h0M605.6 86.4h0M578.8 75.6h0M607.3 112.6h0M585.8 53.7h0M591.3 63h0M607.3 69.7h0M595.6 63h0M601.1 76.6h0M603.5 86.1h0M601.3 63.4h0M588.3 93h0M583.6 109.4h0M602.3 105.6h0M603.2 121.4h0M598.6 106.3h0M592.3 86.1h0M604.4 117.6h0M594.2 98.9h0M578.8 119.2h0M597.8 83.4h0M600.3 50.3h0M603.4 66.5h0M584.3 89.8h0M586 96.3h0M598.4 83.2h0M589.5 104.1h0M593.8 66.8h0M605.4 74.6h0M599.1 103.9h0M615.6 87.7h0M598 88.5h0M614.3 111.2h0M606.9 105.8h0M623.9 73.1h0M594.9 90.3h0M593.7 57.3h0M609.7 86.7h0M588.9 93.6h0M589.5 56.8h0M597.6 113.9h0M599.1 121.5h0M578.8 95.5h0M597.8 102.9h0M591.3 112.9h0M594.6 83.9h0M596.9 105h0M592.7 93.6h0M607.2 60.4h0M600.5 71.3h0M592.8 77.2h0M595.8 105.5h0M606.9 88.7h0M604 104.1h0M609.5 78.8h0M593.5 64.9h0M596.6 122.8h0M618.1 134.2h0M594.6 93.7h0M614.3 83.6h0M604.7 107.6h0M590.2 67.8h0M579.1 83.4h0M602.4 62.2h0M587.1 95.4h0M587 91.3h0M575.4 80.1h0M608.7 75.8h0M596.3 60.7h0M595.5 72.7h0M599.7 108.4h0M597.9 80.9h0M596.3 108.9h0M601.1 72h0M592 85.6h0M565.7 79.1h0M603.6 82.5h0M600 100.4h0M595.5 51.4h0M613.3 99.9h0M579.3 99.1h0M562.1 87.1h0M612.2 88.4h0M599.9 83.2h0M576.4 99h0M590.5 88h0M602.3 72.4h0M581.3 89.7h0M601.5 103.6h0M619.4 93.5h0M611.1 87.6h0M594.8 90.6h0M598.9 78.5h0M584.4 79.1h0M596.7 54.4h0M591.4 83.9h0M583.9 104.1h0M579.9 80.3h0M617.2 71.4h0M596.2 102.6h0M583.5 89.9h0M590.4 89.5h0M612.2 95.2h0M613.7 99.1h0M588.2 86.3h0M597.4 72.7h0M605.4 117.1h0M591.2 88h0M581.8 73.7h0M584.1 90.2h0M595.3 107.6h0M586.4 62.6h0M580.4 109.6h0M592.5 84.7h0M605.8 121.5h0M603 98.6h0M592.6 85.2h0M617 108.7h0M586.2 109h0M594.3 81h0M579.6 91.1h0M604.1 78.2h0M593.7 102.9h0M576 62.9h0M585.7 84h0M615.7 50.4h0M603.4 97.2h0M596.4 48.7h0M605 68.9h0M576.9 91.6h0M585.7 81h0M580 79.4h0M585.7 70.5h0M590.8 79h0M601.2 56.9h0M606.6 92.6h0M606.3 100.9h0M625.8 100.2h0M589.5 86.4h0M594.9 108.1h0M600.9 95h0M585.7 103.5h0M591.8 93.8h0M599.8 87.6h0M585 74h0M600.5 41.9h0M609.1 98.1h0M582.4 85.1h0M569 121.2h0M596 53.1h0M583.2 101.5h0M597 70.8h0M589.9 87h0M598.5 71.9h0M608 93.1h0M604.4 86.6h0M591 102.1h0M581.7 89.6h0M566.7 95.3h0M570.2 109h0M585.9 96h0M596.1 84.8h0M587.2 108.3h0M588.1 85.2h0M576.7 94.1h0M576 81.6h0M575.1 75.7h0M601.9 35.7h0M572.2 99h0M602.4 67.3h0M584.4 99.7h0M600.8 118h0M597.3 64.5h0M603.2 102.2h0M608.1 85.5h0M585.5 94.9h0M583.4 66.6h0M589.4 87.6h0M585.5 89.8h0M601.9 111.6h0M593 123.9h0M594.3 92.5h0M599 80.9h0M588.8 125.1h0M606.7 85.3h0M573.2 86.2h0M596.8 88.9h0M599.9 95.1h0M585.4 99.3h0M586.2 77.3h0M604.4 85.3h0M590.5 119.4h0M572.1 114.6h0M578.6 94.8h0M605.6 91.9h0M584 83.3h0M609 104.8h0M609.7 78.4h0M591.7 89.4h0M600.2 79.4h0M584.6 76.6h0M589.4 87.9h0M586 87.3h0M600.7 77.3h0M579.3 86.2h0M592.5 88.4h0M594.6 79.2h0M599.9 76.1h0M569.7 84.9h0M573.5 99.3h0M583.9 106.2h0M591.4 90.5h0M595.5 82.7h0M596.1 86.8h0M617 120h0M601.4 102.9h0M600.6 71h0M588.3 86.4h0M602.9 78.2h0M601.8 81.1h0M601.6 58.5h0M592.6 87.8h0M601 64.1h0M611.3 77.2h0M584.8 113.3h0M569.2 104.4h0M603.2 72.4h0M602.2 69.6h0M591.2 71.7h0M588.8 55h0M625.4 70.5h0M588.5 82.7h0M579.9 69.4h0M588.4 100.3h0M599.6 86.4h0M586.9 78.2h0M589.4 117.3h0M597.3 99.4h0M588.9 88.5h0M595.3 119h0M593.3 109.8h0M581.7 75.2h0M594.6 92.9h0M580.6 79.8h0M604.5 62.7h0M583.2 119.9h0M591.1 113h0M573 65.5h0M588.7 95.8h0M579.5 59.2h0M610.8 105.8h0M592.4 86.4h0M599.7 82.3h0M573.8 108.9h0M579.6 87.5h0M591.8 82.9h0M578.3 103h0M606.8 82.1h0M589.2 102.3h0M595.5 87.4h0M597.2 101.5h0M592 98.1h0M602.6 100.9h0M586.1 70h0M597.9 119.7h0M607.4 84.6h0M596.2 117.7h0M595.2 77.1h0M589.9 82.6h0M594.4 82.8h0M601.4 107.3h0M590.9 80h0M574.6 94.5h0M595.6 60.3h0M592 79.1h0M599.1 91.2h0M594.2 85.5h0M611.6 55h0M580.1 96h0M582.7 70.7h0M601.1 120.8h0M582 84.1h0M597.4 126.4h0M593.5 98.8h0M571.4 95.3h0M601.3 79h0M609.2 85.3h0M596 95.2h0M577.8 53.6h0M602.6 104.6h0M581.9 67.1h0M592.3 82.9h0M598.4 40h0M584.9 95.2h0M574.5 100.3h0M592.1 92.3h0M593.2 92.9h0M584 80.9h0M584.8 90h0M602 108.3h0M592.6 80h0M588.4 96.1h0M586.9 100h0M595.6 83.3h0M594.7 91.5h0M591.7 91.1h0M578 78.7h0M589.5 129.6h0M586.6 79.8h0M594.4 117.1h0M606.6 105.9h0M604.3 52h0M600.8 91.7h0M594.9 105.3h0M590 101.5h0M597.4 71.6h0M588.3 91.8h0M589.8 66.5h0M584.2 69.2h0M593 83.2h0M592.7 90.6h0M614.3 115.3h0M599.8 93.6h0M589.4 105.8h0M602.3 66.4h0M588.3 67.2h0M604.9 78.8h0M602.3 117.9h0M626 64h0M581.5 59.7h0M592.8 86h0M592.3 108.1h0M596.9 58.9h0M601.6 82.9h0M582.7 63.6h0M585.5 112.6h0M597 99.4h0M604.4 92.1h0M581.1 86.4h0M576.3 83.2h0M606.4 89.7h0M603 76h0M605.7 71.8h0M582.8 67.8h0M591.4 87.5h0M596.1 73.3h0M598.5 102.5h0M592.3 50.5h0M593.1 97.2h0M604.9 96.6h0M588.8 108.5h0M587.5 82.8h0M588.8 61h0M587.9 71.1h0M595.1 107h0M591.3 81.9h0M588.7 80h0M609.4 77h0M597 86.1h0M589.9 83.2h0M607.6 59.9h0M587.5 76.8h0M593.6 104.8h0M592.6 112.6h0M587.3 85.1h0M589.4 78.2h0M594.5 111h0M577.8 84.1h0M589.3 66.6h0M596.4 85h0M596.7 99.4h0M596.9 114.5h0M619.4 78.7h0M600.9 96.6h0M592 81.4h0M592.3 107.2h0M593.6 91.7h0M598.4 91.8h0M590.3 70h0M610.2 81.6h0M581.5 81.5h0M600.5 24.1h0M599.1 102.2h0M581 87h0M600.5 83.5h0M599.7 80.8h0M586.6 87.6h0M619 91.4h0M601.4 64.3h0M590 89.3h0M588.3 89.1h0M585.4 87.6h0M596.4 61.1h0M594.3 84.7h0M578.1 64.7h0M582.2 93.3h0M585.8 110.2h0M589.2 102.4h0M589.6 81.2h0M586.3 77.7h0M600.6 77.2h0M604 93.3h0M594.4 75.5h0M569.6 77.8h0M591.9 43.2h0M599.7 72.3h0M592.7 73.4h0M596.6 77.7h0M594.7 108.4h0M577.2 63.4h0M565.9 63.9h0M600.4 97.6h0M587.9 69.9h0M598.1 84.3h0M590.2 90.2h0M591.7 87.4h0M608.5 73.5h0M580.5 103.2h0M593.4 113.3h0M581.6 69.5h0M594.3 82.4h0M598.8 103.6h0M600.7 83.5h0M595.2 69.6h0M578.5 79.6h0M596.2 101.7h0M603.3 69.7h0M604.4 91.6h0M616.9 93.8h0M599.7 75.7h0M582.4 97h0M587.9 98.8h0M594.5 104.6h0M605 103.4h0M581.1 61h0M603.5 102.8h0M600.7 97.3h0M584.1 104.2h0M600.2 72.2h0M585.2 102.9h0M593.5 93.6h0M590.3 66.9h0M596.1 109.4h0M580.7 73.5h0M599.3 69.4h0M569.9 94.1h0M589.1 76.6h0M587.4 93.4h0M610.8 82.8h0M599.4 92.1h0M588.2 101.4h0M583.8 86.6h0M593.9 102.3h0M586.7 101.9h0M618 72.5h0M563.3 102.1h0M594.3 97.9h0M566.7 89.5h0M604.9 106.7h0M584.8 116.1h0M611.1 100.4h0M587.6 61.5h0M605.4 94.9h0M595.8 84.9h0M606.5 82.5h0M593.8 93.2h0M561.1 81.5h0M585.7 115.7h0M576.6 92h0M603.9 87.5h0M599.4 100.9h0M593.6 101.2h0M598.5 107.9h0M595.7 98.3h0M587.3 86.6h0M614.9 89.6h0M596.2 49.6h0M591.5 61.6h0M577.6 105.4h0M586.8 81.6h0M593.7 118.9h0M591.6 118.7h0M588.4 65.4h0M593 92.7h0M581.3 137.6h0M593.7 73.5h0M576.7 94.2h0M584.2 83.3h0M585.5 83.1h0M603.1 82.4h0M598.9 87h0M594.4 100.6h0M581 73.3h0M589.2 96.1h0M602.3 75h0M607.3 96.4h0M577.5 92.8h0M588.9 73.7h0M594.8 89.7h0M597.4 74.5h0M593.7 72.5h0M600.9 107.7h0M577.8 55.5h0M610.6 97.1h0M581.1 99.6h0M594.2 77h0M599.3 106.3h0M606.4 103.2h0M603.5 64.7h0M603.2 96.5h0M607.6 95.5h0M592 74.4h0M601.8 97.4h0M610.5 100.4h0M585.4 74.7h0M578.3 52.5h0M582.7 94.3h0M609.1 74.4h0M607.3 57.3h0M589.8 80.6h0M596.4 45.7h0M598.9 81.4h0M605.2 113.5h0M573.1 37.5h0M587.6 95.3h0M590.8 71.2h0M597.2 80.1h0M594.5 71.4h0M590.2 98.4h0M596.9 87.1h0M565.5 73.6h0M627.4 64.4h0M602.8 79.8h0M603.4 107.5h0M586.5 66.1h0M598.3 94.6h0M616.3 93.2h0M613.7 52.3h0M594.6 106.6h0M580.2 86.6h0M595.6 126.4h0M612.8 54.3h0M591.5 108h0M592.5 97.4h0M583.4 105.5h0M579.5 124.3h0M602.7 92.2h0M591.5 120.3h0M589.9 21.9h0M601.5 77.5h0M604.3 64.5h0M594.2 144.4h0M592.1 111h0M595.3 124.7h0M616.4 65.5h0M571.9 99h0M581.8 115h0M599.3 46.2h0M595.8 80.4h0M607.4 79.4h0M608.3 77.7h0M615.5 62.4h0M585.6 41.6h0M600.8 104.5h0M591.7 97.5h0M604.7 131.4h0M596.2 85.9h0M603.8 63.5h0M586.2 34.5h0M596 91.6h0M588.7 76.9h0M591.4 163.3h0M589.4 173.7h0M583.2 147.1h0M606.3 54.8h0M597.4 36.5h0M606 79.7h0M583.5 55.2h0M573.2 141.2h0M587.3 92.7h0M592.6 73.3h0M602.8 87.9h0M605.6 135.1h0M607.4 53.3h0M610.8 106.5h0M602.1 39.2h0M595.5 80.7h0M586 63.8h0M601.7 100.1h0M588.9 94.1h0M585.6 132.9h0M600.6 113.9h0M596.6 65.9h0M603.5 39.1h0M586.5 58h0M606.9 72.4h0M598.2 79.8h0M592.5 60.1h0M586.1 128.5h0M582.7 123h0M579.6 78.2h0M609.4 69.9h0M579 79.5h0M601.1 86.6h0M591.6 87.4h0M588.1 28.1h0M589.2 72.3h0M593.2 18.5h0M604 89.6h0M600.4 113.4h0M594.3 48.7h0M579.5 94.4h0M575.1 65.4h0M614.4 62.4h0M583.4 161.3h0M577.3 121.4h0M606.4 106.2h0M578.1 72.1h0M602.3 103.5h0M604.3 81.1h0M597 105.1h0M604.7 54.8h0M579.3 85.6h0M581.1 73.5h0M592.2 35.6h0M594.2 151.1h0M593.4 118.6h0M599.3 58.8h0M586.3 33.6h0M571.2 61.2h0M598.6 57h0M591.8 65.5h0M603 31.9h0M616.7 57.3h0M595.1 90.5h0M600.5 103.5h0M584.6 14.4h0M604.1 88.1h0M597.9 51.4h0M596.9 49.3h0M604.1 76.2h0M582 62.6h0M600.3 114.1h0M599.2 114.2h0M611.4 76.8h0M574.7 64.1h0M593.3 154.9h0M617.9 157.8h0M589.8 102.5h0M589.5 82.4h0M613.5 125.7h0M621.3 142.2h0M595.5 68.5h0M586.5 155.5h0M587.8 82.2h0M590 128.9h0M585.1 68.9h0M585.5 90.6h0M596.1 71.1h0M594.6 89.1h0M599.4 126.2h0M594.5 54.6h0M581.2 76.9h0M602.2 108.5h0M596.9 70.6h0M587.9 164.3h0M591.3 33.3h0M595.1 63.4h0M592.8 124.6h0M602.5 148.6h0M605.7 108.1h0M590.8 35.2h0M594 75.6h0M582.2 90.7h0M592.4 109.3h0M599.4 125h0M603.5 130.3h0M596 143.4h0M593.3 52.4h0M586.5 125.4h0M596.5 22.6h0M582.4 93.7h0M595.6 47.9h0M594.4 21.1h0M584.4 122.6h0M597.7 86.9h0M591.9 125.3h0M600.7 28.5h0M589 42.2h0M599.4 84.3h0M611.1 63h0M596.1 90.8h0M602.7 64.6h0M587.3 75.3h0M590.4 45h0M573.8 136.4h0M592.6 76h0M582 43.6h0M595.4 113.7h0M572 106.3h0M584.9 96.2h0M595.1 96.5h0M598.4 73.2h0M576.3 83.1h0M589.7 4.6h0M621.8 29.4h0M602.7 41.7h0M595.9 98.8h0M564.5 134.1h0M590.4 89.8h0M588.2 84.6h0M618.6 91.8h0M586.1 87.8h0M608.3 84.1h0M603.5 91.9h0M565 95.3h0M600.9 64.3h0M598.5 87.2h0M568.9 81h0M571.4 75.9h0M566.2 100h0M624 96.6h0M640.2 76.6h0M609.5 75.8h0M628.3 95.1h0M564.6 80.7h0M624.8 83.7h0M637.2 67.2h0M629.4 85.6h0M573.5 98.3h0M617.8 82.3h0M591.5 85.8h0M617.6 104.4h0M580 95.7h0M594.3 101.2h0M581.6 93.2h0M604.5 99h0M591.8 70.3h0M618.4 78.7h0M612.1 70.4h0M603.2 109.2h0M593.2 88.8h0M587.4 85.7h0M594.2 79.4h0M610.5 76.8h0M596.9 58.9h0M600.4 109.4h0M593.2 86.1h0M592.4 87.6h0M579.5 72.9h0M552.9 86.3h0M606.6 90.7h0M606.3 86.1h0M572.8 93.1h0M636 78.5h0M568.5 90.2h0M615.9 95.9h0M599.6 92.5h0M601 90.7h0M619 85.9h0M614.3 77h0M594.6 92.5h0M570.9 83h0M567.3 77.5h0M598.2 94.6h0M628.7 70.8h0M613.4 81.3h0M593.4 94.7h0M601.3 96.4h0M609.1 83.2h0M631.8 87.6h0M577.4 92.4h0M610 86.2h0M600.2 79.2h0M577.4 91.3h0M571.8 88.6h0M621.9 88h0M601.3 98.1h0M589.5 90h0M596.3 82.3h0M615.6 88.5h0M596.2 106.3h0M629.3 79.7h0M588.4 84.3h0M576.9 78.9h0M591.6 90.5h0M573.5 74.3h0M586.4 91.4h0M621 94.5h0M631.6 79.2h0M608 78.4h0M598.4 72h0M574.2 87.3h0M572.1 75.7h0M602.2 80.7h0M597.8 82.7h0M581.4 80h0M584.3 95.3h0M628.3 102.9h0M615.9 65.6h0M595.3 78.8h0M599.1 89.4h0M622.1 76.4h0M602 81.6h0M599.4 89h0M559.6 100.8h0M557.1 98.7h0M552.2 84h0M544.6 88.2h0M593.8 83.3h0M601.4 85.2h0M575 75.2h0M603.8 69.2h0M603.8 83.3h0M592.4 96.7h0M561.7 94.6h0M625.8 68.3h0M624.3 85h0M581.4 80.7h0M636.8 89.8h0M595.1 76h0M576.9 96.1h0M585.1 84.9h0M553.3 92.7h0M586.4 95.7h0M558.9 67.5h0M619 84.8h0M601.1 102.1h0M563.6 87.1h0M606.7 97.4h0M556.4 91.2h0M597.6 82h0M604.6 89.8h0M595.6 97.5h0M569.4 99.8h0M591.7 101.4h0M590.1 75.9h0M595.4 95.2h0M626.8 73.2h0M631.3 85.7h0M628.8 84.9h0M580.2 93.2h0M577.6 90.1h0M594.6 99.4h0M603.7 80.8h0M548.8 95.4h0M580.6 90.9h0M633.5 87h0M566.8 75h0M577.8 92.7h0M578.5 90.1h0M604.8 94.8h0M592.6 86.6h0M586.9 84.4h0M560.7 90.9h0M607.5 91.6h0M594.1 93.8h0M579.4 105.9h0M594.6 80.8h0M611.4 107h0M561.6 57.4h0M559.9 96.5h0M571.6 78.8h0M574.8 107h0M526.9 78.1h0M580.8 97.6h0M618.5 77.1h0M586.8 75.7h0M616.4 95h0M530.7 95.6h0M591.5 80h0M624.6 111h0M628.6 83.8h0M583 102.6h0M575.8 76.9h0M602.5 77.4h0M567.2 87.9h0M586 76.9h0M557.2 91.5h0M595.8 65.5h0M594.1 88.7h0M629.9 81.4h0M601.9 77.4h0M579.5 89.1h0M592 84.8h0M565.6 82.5h0M594.8 95.1h0M589.3 89.9h0M603.3 90.8h0M614.6 100.2h0M549.9 86.2h0M601.2 95.3h0M610.3 82.8h0M567.6 93h0M635.9 92.2h0M578.1 81.5h0M648.3 71.9h0M611.3 74.2h0M615.3 77.6h0M600 92.5h0M616.3 85.6h0M571.2 84h0M576.2 91.7h0M550.8 94.2h0M606 100.9h0M578.3 81h0M610.6 92.5h0M607.2 94h0M564.5 77.5h0M609.5 88.2h0M599.7 77.9h0M598.4 84.7h0M604.2 91.2h0M593.4 70h0M594.3 78.3h0M617.3 78.9h0M572.1 87.9h0M567.5 79.6h0M577.2 90.7h0M616.8 78.4h0M586.9 81.8h0M636.2 93h0M526 90.1h0M578.3 88.5h0M584.2 86.6h0M600 97h0M623.5 100.6h0M589.9 83.3h0M571.6 79.8h0M612.5 76.6h0M628.2 104.2h0M537.6 78.1h0M606.8 73.8h0M600.5 89.6h0M575.6 97.4h0M583.5 74.7h0M600.4 85.7h0M594.6 72.7h0M588.5 80.1h0M568.3 103.2h0M600.3 88.6h0M579.3 84.4h0M595.9 87.7h0M581 89.8h0M598.4 86h0M610.5 75.2h0M599.2 75.2h0M608.5 107h0M563.4 79.4h0M604.2 98.9h0M600.4 79.8h0M580.2 99.9h0M590.3 93.9h0M532.3 84.9h0M595.7 107h0M584.9 77.7h0M544 84.7h0M605.1 78.5h0M579.9 79.3h0M540.7 93.4h0M543.3 110.1h0M519.6 81.8h0M544.9 88.7h0M546 85h0M531.8 88.2h0M534.8 84.9h0M527.4 86h0M538.6 64.5h0M555.1 84.7h0M506.9 96.2h0M547.2 64.8h0M545.1 83.8h0M528.8 94.8h0M516.5 103.1h0M539.4 87h0M547 93.4h0M513.4 108.9h0M536 103.4h0M546 82.6h0M519.7 80.8h0M550.4 100.1h0M535 90.6h0M509.2 81.5h0M550.8 85.2h0M626.3 85.8h0M644.4 83.6h0M631.7 88.6h0M636.4 98h0M633.4 86.6h0M630.9 87.2h0M667.4 100.1h0M656.1 91.4h0M642.7 99.3h0M669.5 89.6h0M625.5 72.5h0M670.6 74.6h0M664.9 68.2h0M648.5 101.5h0M671.8 92.9h0M642.4 82.3h0M632 76.2h0M630.1 92.3h0M661.5 86.4h0M639.9 91.8h0M638.3 78h0M665.3 74.8h0M668.6 106.7h0M644.2 76.7h0M642.2 87.7h0M449.6 41.9h0M456.7 43.4h0M447.9 48h0M460.2 48.5h0M478 46.6h0M519.5 57.3h0M520 69.5h0M520 75.7h0M513.4 77.7h0M430.6 125.2h0M441.8 130.3h0M443.9 140.6h0M463.3 120.1h0M479.6 131.3h0M484.8 129.3h0M484.8 142h0M484.8 148.7h0M476.6 163h0M487.8 165.1h0M597.8 11.2h0M599.2 12.7h0M608.4 13.9h0M588 20.4h0M578.7 24.5h0M581.8 25.6h0M597.1 23.5h0M558.9 26.2h0M558.9 36.8h0M557.7 49.5h0M661.6 70.6h0M664.6 119h0M667.7 117.4h0M587.5 165.1h0M595.7 161.4h0M605 160.4h0M586.9 157.9h0M556.2 137.1h0" stroke="#000" stroke-width="3.7" stroke-linecap="round" fill="none"/>
<line x1="410.7" x2="680.1" y1="86.9" y2="86.9" stroke="#000" stroke-width="5.8"/>
<line x1="410.7" x2="680.1" y1="61.8" y2="61.8" stroke="#000" stroke-width="2.45" stroke-dasharray="8.5 3.7"/>
<line x1="410.7" x2="680.1" y1="111.3" y2="111.3" stroke="#000" stroke-width="2.45" stroke-dasharray="8.5 3.7"/>
</g>
<rect x="416.7" y="143.8" width="165.5" height="39.6" rx="2.3" fill="#fff" fill-opacity="0.8" stroke="#ccc" stroke-opacity="0.8" stroke-width="0.95"/>
<line x1="418.5" x2="449.2" y1="153.7" y2="153.7" stroke="#000" stroke-width="5.8"/>
<line x1="421.3" x2="446.6" y1="171.6" y2="171.6" stroke="#000" stroke-width="2.45" stroke-dasharray="8.9 3.6"/>
<text class="lg" x="455.7" y="157.9">mean value</text>
<text class="lg" x="455.7" y="175.8">limits of agreement</text>
<rect x="410.7" y="3.0" width="269.4" height="186.9" fill="none" stroke="#000" stroke-width="1.2"/>
<text x="436.0" y="209.7" text-anchor="middle">1000</text>
<text x="477.4" y="209.7" text-anchor="middle">1500</text>
<text x="518.8" y="209.7" text-anchor="middle">2000</text>
<text x="560.1" y="209.7" text-anchor="middle">2500</text>
<text x="601.4" y="209.7" text-anchor="middle">3000</text>
<text x="642.7" y="209.7" text-anchor="middle">3500</text>
<text x="399.6" y="15.4" text-anchor="end">100</text>
<text x="399.6" y="52.4" text-anchor="end">50</text>
<text x="399.6" y="89.5" text-anchor="end">0</text>
<text x="399.6" y="126.4" text-anchor="end">−50</text>
<text x="399.6" y="163.3" text-anchor="end">−100</text>
<path d="M436.0 189.9v5.1M477.4 189.9v5.1M518.8 189.9v5.1M560.1 189.9v5.1M601.4 189.9v5.1M642.7 189.9v5.1M410.7 10.8h-5.1M410.7 47.8h-5.1M410.7 84.9h-5.1M410.7 121.8h-5.1M410.7 158.7h-5.1" stroke="#000" stroke-width="1.2" fill="none"/>
<text x="545.4" y="228.3" text-anchor="middle">Average [ms]</text>
<text x="545.4" y="241.5" text-anchor="middle">(b)</text>
<text transform="translate(357.6 96.5) rotate(-90)" text-anchor="middle">Difference [ms]</text>
<clipPath id="c2"><rect x="62.6" y="261.3" width="268.9" height="186.8"/></clipPath>
<g clip-path="url(#c2)">
<path d="M76 367L79.6 362.5L87 360L94 358L101.5 355.5L109 357.5L116 360.5L120.5 363L125 363.5L131 362L138 359.5L145 356.5L152 352.5L160 348.5L170 346.5L191 344L211 343.5L221.5 344.5L232 347.5L242 354L252 361L258 365L261 366L261 366L258 367L252 368.5L242 372.6L232 376L221.5 378L211 379.5L191 381L170 380L160 380.5L152 381.5L145 381L138 377L131 371.5L125 370L120.5 370.5L116 372.5L109 374.5L101.5 376L94 377L87 377L79.6 374.5L76 370.5Z" fill="#000"/>
<path d="M254.6 340.5h0M237.7 343.2h0M250.2 349.9h0M219.3 331.9h0M106.1 352.2h0M235.1 327.9h0M195 334.6h0M226.1 330.3h0M204.7 340.5h0M218.5 336.3h0M161.6 348.2h0M248.9 355.3h0M188.1 340.2h0M245.4 356.5h0M249.6 359.1h0M218.8 330.3h0M161.6 347.6h0M200.2 334.7h0M212.4 341.5h0M184.4 342.2h0M114 358.9h0M253.9 360.5h0M221.8 344.5h0M213 342.5h0M135.4 360.8h0M213.9 343.4h0M240.6 349.9h0M165.8 341.3h0M250.4 342.8h0M169.8 337.4h0M153.3 352.6h0M237 342.8h0M166.8 336.7h0M247.6 351.8h0M180.2 345.4h0M122.2 362.6h0M223.2 341.3h0M88.5 359.2h0M140.8 358.2h0M220.1 344.8h0M234.7 347.5h0M212.1 332.3h0M242.8 346.8h0M163.3 347.1h0M240.1 346.9h0M206 337.5h0M245.1 355.9h0M155.8 349.2h0M215.6 337.9h0M130.2 362.2h0M163.4 346.4h0M193.7 343.9h0M217 342h0M218 320.6h0M176.8 344.7h0M186.6 342.4h0M255.6 360.4h0M93 356.8h0M199.8 332h0M244.1 355.4h0M229.1 344.8h0M219.4 344.1h0M160.5 341.6h0M178.5 345.2h0M259.3 362.2h0M218.5 343.2h0M184.2 343h0M251.7 355.8h0M241.5 348.3h0M236 323.3h0M174.9 337.9h0M200.5 336.4h0M243.8 321.5h0M183.2 343.9h0M255.2 353.3h0M202.1 329.2h0M212.2 341.6h0M236.8 345h0M133.3 360.2h0M223.4 341.4h0M221.6 345.4h0M163 346.7h0M163.5 347h0M93.9 357.4h0M195.9 333.4h0M225.2 343.8h0M113 358.7h0M213.3 344.2h0M164.2 343.2h0M241.8 340.1h0M111.3 358.8h0M80.4 362.4h0M227.5 340.9h0M193.8 328.1h0M249.9 347h0M198.5 339.8h0M239.1 327.7h0M209.4 342.7h0M210.5 339.8h0M198.6 344h0M230.6 345.7h0M95.7 357.6h0M241 328.8h0M227 342.7h0M233.8 349.3h0M137.1 360.1h0M232.3 341.8h0M213.3 341.4h0M232.3 337.8h0M214.3 336.4h0M248 351.6h0M240.9 350.4h0M218.7 332.9h0M258.1 358h0M213.8 318.5h0M192.7 344.2h0M245.6 351.6h0M166.8 336.1h0M237 345.1h0M216.7 342.3h0M257.6 364.1h0M102.3 354.8h0M185.2 338.8h0M251.2 354.1h0M219.7 336.9h0M171.4 347.2h0M230.9 334.1h0M211 331.1h0M218.8 335.8h0M164.2 346.5h0M94.7 357.9h0M249.5 357h0M227.4 342.5h0M255.9 361.9h0M211.4 337.1h0M181.3 340h0M103.1 355.2h0M217.5 344.7h0M238.1 320.6h0M251.4 338h0M197.2 344.5h0M181.2 343.2h0M175.9 329.3h0M252.4 359h0M228.6 347.3h0M215 338.4h0M250.8 355.8h0M235.1 343.4h0M215.2 325.1h0M237.5 351.9h0M227.4 328h0M235.5 326.9h0M191.2 342.4h0M231 347.1h0M161.7 349.1h0M100.9 355.8h0M211.7 327h0M236.6 342.7h0M173.4 346.4h0M247.9 349.7h0M208 341.4h0M227.3 319.9h0M246.1 355.5h0M239.8 344.6h0M226.1 339h0M182.5 341.5h0M165 344.9h0M218.8 336.3h0M220.6 321.3h0M221.3 343.6h0M199.6 343.1h0M164.9 343h0M251.4 347.4h0M228.5 338.7h0M229.8 347.6h0M91.4 359.1h0M214.9 336.4h0M215 317.5h0M114.1 358.5h0M172.3 345.4h0M160.6 348.4h0M223.1 342.7h0M246.3 357.9h0M224.2 332.5h0M189.8 343.4h0M244.1 341.8h0M216.8 329.9h0M241.8 350.3h0M219.8 344h0M161.2 349h0M203.4 344.3h0M180.7 343.9h0M188 339.8h0M105.2 356.7h0M237.4 350.3h0M218.1 335h0M188.9 332.2h0M232 339.4h0M208.6 325.2h0M112.8 359.5h0M240.3 340.5h0M240.8 352.8h0M217.1 344.4h0M225.6 339.3h0M217.8 321.6h0M184.2 342.4h0M105.4 354.7h0M225.8 341.4h0M183 343.7h0M234.7 346.3h0M187.1 333.7h0M198.2 344.8h0M249.3 350.3h0M141.9 358.4h0M180.4 341.1h0M230 344.3h0M203.3 342.8h0M246 327.9h0M149.1 354.7h0M87.5 360.8h0M239.9 346.3h0M160.5 349h0M183.4 345.2h0M168.6 346.6h0M204.3 342.1h0M249.6 355.7h0M210.1 337.6h0M233 347.8h0M160.4 348.5h0M215.3 341.8h0M173 343.3h0M172.7 345.3h0M187.1 338.5h0M198.2 343.2h0M232.3 345.8h0M136 360.8h0M179.9 335.4h0M256 354.9h0M194.8 342.1h0M89.6 359.8h0M246.2 352.5h0M80.9 362.1h0M197.2 343.4h0M231.8 339.5h0M252.9 348.9h0M248.2 356.6h0M252.4 347.1h0M220.8 343.9h0M255.6 348.3h0M175.1 346.7h0M189.1 341.2h0M226.3 336.8h0M223.9 330.7h0M241.8 352.1h0M148.9 354.5h0M196.4 333.9h0M223.8 342.5h0M122.9 363.9h0M212.1 333.5h0M246.9 346.5h0M91.7 359.3h0M243.1 344.8h0M232.4 342.9h0M203.7 338.2h0M172.4 345.8h0M238.4 335h0M194.1 343.1h0M224 345.6h0M151.6 352.3h0M236.4 350.7h0M250.6 351.1h0M250.8 360.3h0M257.3 349.8h0M108 357.3h0M241 351.1h0M176.7 344.9h0M139.5 359.2h0M239.5 342.2h0M248.5 353.1h0M110.2 356.9h0M170.7 342.6h0M208.8 342.3h0M245.9 334.7h0M207.5 333.8h0M101.8 356.6h0M233.6 343.2h0M254.1 348.8h0M161.2 345.5h0M242.1 352h0M254.5 353.1h0M202.2 337h0M242.9 354.3h0M224.5 340.6h0M257.1 362.9h0M228 345.7h0M184.4 340.8h0M231.4 338.3h0M190.9 343.2h0M193.8 344h0M79.4 362.9h0M116.9 362h0M166.6 343.4h0M227.7 340.6h0M213.6 328.6h0M199.7 339.6h0M222.4 337.8h0M188.6 342.8h0M190.2 324.3h0M222.3 327.6h0M235.2 349h0M234.4 348h0M217 343.3h0M257 363.8h0M258.7 365.4h0M251.7 352.8h0M185.2 343.5h0M234.7 345h0M140 356h0M258.9 364.9h0M218.8 341.6h0M111.2 359.3h0M151 353.9h0M225.7 345.2h0M228.9 342.5h0M196.1 341.2h0M205.6 343.9h0M240.8 324.9h0M238.4 346.7h0M236 345h0M197.1 336.8h0M193.2 337.7h0M226.8 334.2h0M131.8 361.2h0M228.4 337.5h0M229.5 347.3h0M237 342.1h0M177.2 346.4h0M192.2 333.3h0M176.6 345.3h0M204.9 325h0M224.8 343.7h0M206.7 328.1h0M247.1 330.7h0M220.1 331.2h0M239.5 350.4h0M255 353.2h0M239.6 349.5h0M172.2 337.9h0M192.1 341.8h0M101.9 350.7h0M200.4 341.5h0M205.4 339.5h0M189.5 336.6h0M197 344.1h0M169.9 340.7h0M241.8 349.3h0M199.2 344.4h0M88.9 359.2h0M205.5 337.6h0M195.6 343.7h0M165.6 338.3h0M230.7 336.6h0M201.9 336.2h0M238.2 343.4h0M222.7 343h0M254.3 363.6h0M191.4 329.8h0M98.3 355.2h0M166.2 344.4h0M236 342.4h0M168.4 344.5h0M220.8 337.7h0M143.2 357h0M244.9 346.3h0M198.1 342.9h0M184.6 345.4h0M247.9 337.5h0M231 343.4h0M221.7 337.8h0M249.4 344.3h0M240.6 353.1h0M82.1 362.4h0M249.9 357.1h0M169 344.3h0M233.3 335.3h0M186 334.7h0M185.3 336.4h0M202.8 324.4h0M81.3 361.8h0M243.9 355.7h0M180.6 338.6h0M224.7 333.1h0M157.5 350h0M133.1 360.5h0M88.2 357.6h0M210.1 339.7h0M202.1 331.5h0M232.6 344.7h0M204 338.3h0M212.4 333.6h0M218.6 344.7h0M157.7 345.7h0M196.8 340.4h0M243 350h0M258.3 347.8h0M210.3 342.8h0M187.7 343.9h0M244.7 334.5h0M216.5 327.8h0M99.5 355.9h0M161.6 344.2h0M225.1 343.6h0M148.8 352.4h0M214.7 339.8h0M255.6 353.9h0M213.6 340.1h0M206.5 343.4h0M240.1 338.7h0M214.2 341.9h0M243.3 351.9h0M84.4 361.3h0M243.8 355.8h0M162.6 348.4h0M172.6 342.6h0M218.5 338.5h0M229.1 344.4h0M161.8 347.8h0M239.5 326.8h0M209.6 339.1h0M235.5 347.6h0M194.4 340.2h0M194.3 339.9h0M215.2 339.1h0M226.8 340.1h0M237.2 328.2h0M191.3 342.7h0M223.1 341.1h0M179 345.3h0M230.9 323.7h0M200.4 328.1h0M251.4 359.7h0M233.5 347.1h0M114.3 358.2h0M225 335.9h0M197.5 343.4h0M189.5 336.8h0M171.1 339.6h0M230.8 323.5h0M244.7 355h0M205.5 337.1h0M211.4 339.7h0M190.9 341h0M240.9 350.2h0M258 355.2h0M206.3 342.2h0M206 338.9h0M167.5 346.1h0M183.6 335.7h0M199 342h0M201.7 343.4h0M162.9 343.8h0M194.6 339h0M107 357.7h0M183.1 343.3h0M226.5 325.6h0M249.6 358.7h0M172.4 343.4h0M230.7 344.4h0M174.6 345.8h0M253.6 343.3h0M177.7 346.5h0M102.7 356h0M253.7 357.8h0M192.8 340.7h0M170.6 346h0M206.6 343.6h0M243.9 341.6h0M199.2 339.5h0M207.1 338.2h0M226.1 327.6h0M90.7 358.3h0M249.6 336.2h0M231.9 347.7h0M220.6 319.1h0M194.3 332h0M255.9 357.7h0M113.5 359h0M80.3 362.7h0M220.9 342.8h0M228.4 347.2h0M159.2 346.9h0M243.9 350.6h0M204.5 341.6h0M191.2 336.8h0M232.1 326.6h0M201 341.6h0M161.9 338.2h0M203.7 339.1h0M98.4 357.1h0M187.3 340.4h0M220 335.2h0M117 359h0M204.5 340.2h0M209.6 341.5h0M97.1 356.2h0M171.3 343.9h0M101.4 354.8h0M213.8 344.5h0M225.1 343.8h0M78.6 362.7h0M218.5 334.6h0M245.6 356.2h0M100.7 355.8h0M220.9 344.5h0M189 334.6h0M157.2 348.3h0M246.1 349.5h0M187.6 323.4h0M244.1 354.1h0M249.1 355.1h0M177.9 340.8h0M246.5 354.9h0M249.9 349.2h0M78.2 364.2h0M247.5 353.7h0M224.7 343.2h0M79.5 363.3h0M214.5 332.5h0M244.9 344.1h0M244.4 353.7h0M247.9 350.7h0M213.3 344.7h0M137.1 359.1h0M192.3 344.7h0M185.5 345.4h0M213.9 380.1h0M158 389.3h0M146.8 380.5h0M219.6 384.7h0M102.2 375.4h0M200.5 386.6h0M102.9 375.6h0M243.9 374.7h0M237.4 374.2h0M105.2 375.3h0M245.4 371.8h0M201 379.5h0M220.1 391.5h0M231.4 400.6h0M189.6 383.6h0M190.2 384.4h0M175.8 386.3h0M207.2 385.7h0M92.4 377.8h0M214.4 386h0M219.4 378.9h0M215.2 379.5h0M207.8 382.4h0M174.4 386.4h0M214.2 385.2h0M181.9 386h0M210.2 383.3h0M165.9 382.9h0M167.6 397.2h0M211 401.2h0M154.9 381.9h0M230.4 379.4h0M228.9 376h0M200.7 397.5h0M166.9 386.7h0M176.9 379.4h0M150.8 385.6h0M220.8 394.5h0M248 370.3h0M143.8 380.5h0M116.9 371.3h0M187.4 398.6h0M251.1 374h0M160.2 380.2h0M159.8 380.1h0M183.6 397h0M176 383.9h0M167.7 382h0M203.1 385.4h0M141.2 378h0M133.9 374h0M194.1 382.6h0M246.3 380.5h0M158.6 382.2h0M163 381.7h0M162.6 380.7h0M130.5 370.8h0M137.4 376.2h0M174 380.5h0M170.1 381.7h0M204.5 383.3h0M153.5 390.8h0M240 376.3h0M202.5 380.3h0M227 380.1h0M146.2 380.8h0M228.4 379.5h0M184.4 391.2h0M175.4 384.8h0M235.7 377.5h0M188.1 397.3h0M171 386.2h0M183.6 382.9h0M204.7 395.2h0M164.7 381.1h0M195.2 380h0M175.1 381.4h0M146.3 383.6h0M91.2 377.5h0M229.2 380.2h0M238.2 384.6h0M169.9 381h0M222.7 380.7h0M184.4 379.8h0M177.8 384.3h0M170.2 380h0M175.3 384.5h0M178.3 383.7h0M144 380.6h0M229.1 375.8h0M186.3 380.5h0M158.1 386.2h0M184.9 381.8h0M192.3 397.1h0M221.2 383.4h0M153.2 384.1h0M194.9 385.6h0M222.8 401.6h0M228.2 375.8h0M151.2 381.1h0M179.4 379.5h0M216.3 385.5h0M176.3 389.1h0M212 387.5h0M167.3 391.5h0M174.6 388.7h0M119.8 369.9h0M210.2 378.9h0M171 381.8h0M132.1 372.1h0M167.3 381.2h0M156.2 390.9h0M180.5 395.9h0M247.6 369.6h0M241.4 378.7h0M230.9 390.8h0M226.7 395.6h0M239.3 378.8h0M154.4 385.5h0M194.7 383.9h0M225 378h0M244.9 371.4h0M206.9 381.7h0M148 380.8h0M177.4 381.6h0M157.4 382.4h0M222.9 383.6h0M227.1 392.8h0M183.1 382.1h0M76.8 371.2h0M242.1 372.3h0M235.8 377.5h0M243.1 371.3h0M220.9 389.4h0M255.7 368.1h0M168.6 379.4h0M146 384h0M230.3 376.4h0M228.2 378.6h0M167.8 379.2h0M205.7 399.2h0M135.3 375.3h0M150.5 382.6h0M251 368.6h0M234.9 389.9h0M155.1 390.5h0M211.2 389.8h0M217.1 378.4h0M198.3 379.9h0M195.1 392.3h0M214 379.7h0M90.3 379.1h0M249.6 371.9h0M206.8 401.7h0M192.4 386.5h0M169.5 397.1h0M168.6 382.5h0M207.5 399.6h0M158.1 379.8h0M216.1 385.2h0M131.4 371.7h0M181.9 380.6h0M169.8 384.1h0M78 373.3h0M215.6 378.5h0M236.9 378.4h0M182.2 382.9h0M164.5 381.7h0M211.5 396.2h0M142.7 379.1h0M232.4 376.4h0M195.6 384.1h0M214 400.7h0M172.5 379.9h0M197.9 379.8h0M202.2 380.3h0M208 384.8h0M225.6 379.6h0M187.1 387.4h0M187.2 380.2h0M186.8 395.7h0M96.2 377.4h0M180.1 388.3h0M242.7 373.2h0M214 379h0M180.5 390.5h0M228.8 398.7h0M168.7 387.9h0M185.4 384.7h0M170.6 382.4h0M184.5 380.1h0M149 388.1h0M202.9 386.8h0M149.3 385.6h0M189.6 381.3h0M222.4 388h0M238.1 373.4h0M212 387.2h0M181.4 382.1h0M159.5 383.5h0M169.5 384h0M168.4 382.8h0M212.4 388.9h0M223.1 380.7h0M149.6 381.5h0M189.8 386.3h0M222.1 382.6h0M215.8 380.8h0M141.2 381.3h0M203 379.2h0M244 382h0M233 385h0M164 382h0M231.2 380.8h0M254.1 368.5h0M243.9 370.9h0M234.4 378.8h0M144.6 380.3h0M187.5 395.1h0M211.8 383.8h0M234.4 376.2h0M230 376.4h0M185 384.7h0M178.4 379.6h0M216 379.1h0M168.9 382.3h0M185.9 401.7h0M232.5 375.7h0M169.5 379.6h0M232 378.3h0M106 374.7h0M132 373h0M179.3 380.9h0M213.9 392.1h0M162.2 385.9h0M249 368.8h0M205.5 384h0M125.2 369.2h0M163.8 379.5h0M233.3 377.9h0M142.4 379h0M89.3 377.4h0M165.4 380h0M90.9 379.4h0M159.3 385.5h0M193.8 396h0M229.9 381.2h0M190.2 389.5h0M201 381.2h0M143.1 382.7h0M177.2 381.2h0M210.9 380.2h0M192.9 381.5h0M244.8 370.9h0M185.7 387.6h0M242.1 379.4h0M160.5 386.9h0M213.7 378.2h0M223.3 386.9h0M249.9 370.3h0M154.9 380.7h0M207.7 384.9h0M243.2 371.2h0M194.8 386.2h0M253.8 368.6h0M239.3 373h0M171.3 381h0M193.5 380.1h0M174.7 386.8h0M227.3 390.6h0M104.4 375h0M214.8 379.6h0M79.5 375.4h0M105 374.3h0M224.2 382.6h0M160.9 387.6h0M202.6 386.1h0M240.4 379.4h0M155.7 386.1h0M182.8 383.3h0M224.2 390.8h0M207.3 380h0M208.4 379.7h0M158 394.8h0M197.7 379.9h0M231 377.3h0M197.8 383.5h0M209.8 382.4h0M215.8 378.6h0M179.6 400h0M196.8 385.6h0M178.5 385.5h0M168.9 390.9h0M120.5 370.6h0M236.8 373.9h0M176.9 384.9h0M217.2 378.2h0M160 381h0M205.3 384h0M220.4 378.2h0M215.8 384.9h0M192.3 386.6h0M255.1 368.3h0M151.5 387.3h0M220.5 384h0M144.8 387.6h0M195.2 379.7h0M80.4 375.1h0M109 374.6h0M238.7 382.5h0M220.3 380.1h0M95.5 377.5h0M130.2 371.3h0M140.6 378.4h0M231.3 377.3h0M192.5 380.8h0M230.4 382.9h0M205.9 383.7h0M223.1 377.3h0M147 383.2h0M218.1 381h0M171.3 383.7h0M209.6 384.4h0M151.4 384h0M175.2 385h0M226.7 377.8h0M120.8 369.9h0M151.8 395.6h0M170.1 381h0M160.5 379.7h0M229.9 376.4h0M235.6 374.9h0M229.9 386.6h0M187.8 381.3h0M209.1 381.4h0M202.7 394h0M210.1 382.4h0M207.3 381.1h0M242 373.7h0M210.9 384.1h0M92.6 377h0M221.4 377.3h0M201.2 387.7h0M225.2 384.1h0M176.2 389.1h0M160.2 389h0M195.7 382.1h0M162.8 381.5h0M204.6 380.7h0M199.8 380h0M215.1 388.7h0M89.5 376.9h0M225.2 378h0M144.7 388.1h0M192.2 383h0M185.6 381.3h0M253.1 368.8h0M226.3 387.5h0M240.5 373.2h0M167.9 384.8h0M195.1 393.2h0M235.1 377h0M233 382.4h0M205 388.3h0M195.3 387h0M166 381h0M198.1 381.2h0M234 376.9h0M218 382.9h0M228.9 382.3h0M206.2 393.8h0M137 375.9h0M157.2 381.2h0M186 389.3h0M237 380.8h0M192.4 391h0M244.5 375.8h0M192.4 380.4h0M219.4 381.8h0M215.2 379.4h0M83.5 374.9h0M187.4 380.1h0M202.9 381.9h0M253.8 372.6h0M228.4 387h0M164.2 383.1h0M171.3 379.7h0M193.6 379.9h0M178.9 385.6h0M179.5 396.8h0M202.2 401.7h0M100.2 375.9h0M186.8 388.2h0M117.1 371.7h0M85.3 375.6h0M232.4 380.6h0M108 374h0M211.6 386.7h0M223.5 377h0M128.7 370.2h0M125.2 369.7h0M91.6 376.6h0M235.2 378.8h0M192.4 380.5h0M150.9 384.7h0M252.7 375.9h0M207.3 378.9h0M236.3 392.6h0M137.6 375.9h0M204 380h0M222 385.6h0M188.6 381.9h0M194.4 380.9h0M102.6 374.9h0M161 392.6h0M166.5 379.3h0M188.4 386.9h0M85 380.8h0M132.4 373.1h0M204.6 379.6h0M254.5 368.1h0M166.6 384.8h0M198.1 396.7h0M194.6 382.7h0M223.6 395.4h0M198.5 380.1h0M196.2 388.2h0M97.1 381.3h0M84.9 378.5h0M188.6 393h0M145.3 381.4h0M174.1 380.5h0M150.9 382h0M225.8 379.8h0M170.9 390.4h0M210.8 380.5h0M204.9 384.5h0M215.9 380.3h0M168.5 380.1h0M153 392.7h0M234.6 376.2h0M194.2 390.4h0M217.7 377.6h0M188.6 387.1h0M90.2 380.6h0M145.2 380.8h0M150.5 382.5h0M92.7 378.1h0M217.7 400.1h0M248.7 374.4h0M183.9 380.6h0M250.9 370h0M142.3 380.3h0M177.5 382.7h0M205.9 400.2h0M210.4 383.7h0M91.2 376.5h0M237.8 373.3h0M257.6 370.2h0M171.2 390.4h0M171.3 382.1h0M209 382.6h0M185.6 380.2h0M197.3 387.3h0M233.8 382h0M210.2 380.2h0M143.9 383.1h0M175.3 395.3h0M233.9 384.1h0M243.7 377.5h0M172.7 379.7h0M123.5 370.6h0M224.7 377.4h0M161.5 381.1h0M162.6 389.2h0M184.9 383.7h0M129.5 371.3h0M213.7 382.1h0M233.1 384.7h0M176.1 392h0M213.3 397.1h0M147.5 384.1h0M178.8 379.7h0M152 383.1h0M139.9 378.1h0M168.8 384.2h0M179.8 383.2h0M88.7 376.5h0M210.1 399.9h0M210.2 397.2h0M170.3 386.7h0M187.4 391.9h0M168.5 388.1h0M138.9 376.8h0M247.4 373.6h0M243.5 372.4h0M190.5 398.2h0M228.8 381.2h0M195.8 386.5h0M248.2 371.7h0M207.1 379.6h0M233.3 382.1h0M201.5 382.9h0M201.5 394.6h0M208.5 381.4h0M231 383.4h0M145.3 380.8h0M217.6 381.6h0M217.5 385.5h0M259.9 366h0M178 380h0M214.8 385.2h0M180 384.8h0M205 380.8h0M81.3 375.1h0M228.9 386.8h0M157.7 381.1h0M193.6 382.9h0M153.2 391.5h0M245.8 383.2h0M293 359.3h0M319 309.2h0M189.5 267.5h0M271 329.2h0M272.7 337.8h0M276.8 343.6h0M268.6 339.9h0M268.2 341.9h0M279.5 353.8h0M272.7 359.9h0M269.6 357.9h0M265.6 360.3h0M270.7 372.6h0M271 377.3h0M256.8 380.2h0M249.2 389.4h0M258.4 313.9h0M258.4 321.5h0M248.6 319.4h0M253.9 333.3h0M256.3 341.9h0M260 343h0M217.1 313.9h0M222 315.3h0M225 319.4h0M209.3 322.1h0M236.9 322.1h0M240 326h0M232.4 326.6h0M243.5 331.3h0M215.4 324.5h0M205.2 326.6h0M187.7 312.3h0M187.7 323.5h0M177.5 327h0M106.6 340.3h0M101.3 344.2h0" stroke="#000" stroke-width="3.7" stroke-linecap="round" fill="none"/>
<line x1="62.6" x2="331.5" y1="366.0" y2="366.0" stroke="#000" stroke-width="5.8"/>
<line x1="62.6" x2="331.5" y1="347.7" y2="347.7" stroke="#000" stroke-width="2.45" stroke-dasharray="8.5 3.7"/>
<line x1="62.6" x2="331.5" y1="384.3" y2="384.3" stroke="#000" stroke-width="2.45" stroke-dasharray="8.5 3.7"/>
</g>
<rect x="68.6" y="402.0" width="165.5" height="39.6" rx="2.3" fill="#fff" fill-opacity="0.8" stroke="#ccc" stroke-opacity="0.8" stroke-width="0.95"/>
<line x1="70.4" x2="101.1" y1="411.9" y2="411.9" stroke="#000" stroke-width="5.8"/>
<line x1="73.2" x2="98.5" y1="429.8" y2="429.8" stroke="#000" stroke-width="2.45" stroke-dasharray="8.9 3.6"/>
<text class="lg" x="107.6" y="416.1">mean value</text>
<text class="lg" x="107.6" y="434.0">limits of agreement</text>
<rect x="62.6" y="261.3" width="268.9" height="186.8" fill="none" stroke="#000" stroke-width="1.2"/>
<text x="70.1" y="467.9" text-anchor="middle">0.25</text>
<text x="115.1" y="467.9" text-anchor="middle">0.50</text>
<text x="160.1" y="467.9" text-anchor="middle">0.75</text>
<text x="205.1" y="467.9" text-anchor="middle">1.00</text>
<text x="250.1" y="467.9" text-anchor="middle">1.25</text>
<text x="295.1" y="467.9" text-anchor="middle">1.50</text>
<text x="51.5" y="298.1" text-anchor="end">0.4</text>
<text x="51.5" y="335.2" text-anchor="end">0.2</text>
<text x="51.5" y="372.4" text-anchor="end">0.0</text>
<text x="51.5" y="409.5" text-anchor="end">−0.2</text>
<text x="51.5" y="446.6" text-anchor="end">−0.4</text>
<path d="M70.1 448.1v5.1M115.1 448.1v5.1M160.1 448.1v5.1M205.1 448.1v5.1M250.1 448.1v5.1M295.1 448.1v5.1M62.6 293.5h-5.1M62.6 330.6h-5.1M62.6 367.8h-5.1M62.6 404.9h-5.1M62.6 442.0h-5.1" stroke="#000" stroke-width="1.2" fill="none"/>
<text x="197.1" y="486.5" text-anchor="middle">Average [m/s]</text>
<text x="197.1" y="499.7" text-anchor="middle">(c)</text>
<text transform="translate(13.4 354.7) rotate(-90)" text-anchor="middle">Difference [m/s]</text>
<clipPath id="c3"><rect x="410.7" y="261.3" width="269.4" height="186.8"/></clipPath>
<g clip-path="url(#c3)">
<path d="M422 392.5L424 389L427 387L431 385.5L440 384.5L453 384L475 384L492 384.5L512 386.5L533 389L549 390.5L565 391L580 391.3L600 391.5L640 391.8L676 392L676 394L640 394.5L600 395L580 395.5L565 396.5L549 398L533 399.5L512 401L492 402L475 402L453 402L440 402L431 401.5L427 400L424 397.5L422 395Z" fill="#000"/>
<path d="M570.1 391.6h0M491.9 384.7h0M621.3 392.6h0M629.6 392.4h0M609.1 392h0M513.2 387h0M532.7 387.2h0M535.2 390.1h0M494.7 385.6h0M487.5 383.9h0M667.3 391.5h0M422.4 392.6h0M623 392.3h0M444.1 384.3h0M441.1 385h0M583.8 392h0M425.4 388.5h0M541.1 390.2h0M461.8 384.2h0M619.2 392.5h0M516.7 387h0M459.9 384.4h0M520.9 388.2h0M568.8 391.8h0M615.3 392.3h0M426.2 387.7h0M645.9 391.5h0M605.9 392.1h0M460.4 384.3h0M525.1 387.9h0M508.5 387.1h0M526 388.8h0M462.3 383.9h0M645.2 392.5h0M558.2 391.2h0M517.1 387.9h0M655.1 391.3h0M482.5 384.1h0M511.2 384.8h0M532.9 389.8h0M528.7 388.2h0M476.8 384.5h0M523.4 388.1h0M491.8 385.4h0M566.5 391.4h0M481.3 384.7h0M495.4 385.7h0M522.1 387.7h0M452.9 384.5h0M512.9 384.5h0M627.4 392.4h0M553.8 391.5h0M504.1 386.5h0M443.8 382.5h0M518.9 384.2h0M489.2 384h0M483.4 383.8h0M562.5 391.8h0M666 392.5h0M507.4 385.9h0M452.9 381.9h0M547.2 391.3h0M495.5 384.4h0M616.3 392h0M577.6 392.1h0M480.2 384.7h0M605.1 392.3h0M510.4 386.3h0M558.5 391.5h0M432.9 385.9h0M467.6 382.9h0M618.2 392.6h0M426.5 384.3h0M550.6 391.2h0M646.2 391.2h0M613 391.8h0M447.5 384.1h0M443.5 384h0M483.4 381.5h0M432.7 386h0M528.1 388.3h0M540.2 390.4h0M548.5 389.6h0M606 392h0M474.4 383.9h0M425.4 386h0M451.8 384.9h0M604.5 392.3h0M446.8 384.9h0M440.1 385h0M550.6 391.3h0M526.9 388.6h0M642.6 392.7h0M600.4 392.2h0M626.8 392.3h0M636.7 391.6h0M425 389.1h0M656 392.9h0M465.4 381.6h0M438 385h0M637 391.3h0M470.9 381.6h0M446.2 383.8h0M517.1 388.1h0M606.5 391.4h0M475.2 384.8h0M618.4 391.9h0M663.3 392.5h0M510.5 386.4h0M460.1 383.1h0M471 384.8h0M450.1 381.3h0M494 385.6h0M486.8 385h0M469.8 382.6h0M487.9 384.4h0M465.2 380.2h0M619.2 392.6h0M642.3 392.1h0M492.9 384.5h0M441.7 384.6h0M470.1 382.3h0M549.4 390.1h0M667.8 391.5h0M578.3 392.2h0M433.6 385.4h0M479 384.5h0M433.9 385.7h0M516.1 385.8h0M486.5 384.4h0M494.8 385.1h0M468.9 383.9h0M437.4 384.3h0M588.9 392.3h0M478.3 384h0M434.4 382.9h0M455.5 384.1h0M431 385.9h0M625.7 391h0M450.7 384.2h0M651.5 392.8h0M664.5 392h0M442.7 384.5h0M591.7 392h0M457.6 383.7h0M560.7 391.5h0M662.6 392.7h0M497.6 383.9h0M457.5 383.3h0M540.6 390h0M526.7 389.1h0M462.2 385h0M511.4 387.2h0M505.5 385.4h0M488.9 383.3h0M482.9 385.1h0M644.8 392.8h0M540.8 390.3h0M489 385h0M516.5 387.1h0M531.3 389.5h0M623.6 392.2h0M495.4 385.4h0M601.5 391.1h0M448.5 383.7h0M567.6 392h0M556.6 391.6h0M424.9 386.4h0M535.9 388.7h0M434.9 385.3h0M639.6 392.5h0M514.7 387.2h0M447.2 383.5h0M568.6 391.6h0M466.9 381.1h0M434.2 385.6h0M516.1 386.6h0M595.8 392h0M561.5 390.4h0M597 391.1h0M559.9 391.4h0M484.9 384.9h0M458 384.7h0M477.5 384.7h0M608.8 392.5h0M426.9 385.6h0M435.5 385.1h0M643.5 391.2h0M424.5 389.1h0M514.7 387.1h0M634.2 392.2h0M508 386.4h0M573.3 391.9h0M427.9 383.9h0M571 392.1h0M528.9 389.5h0M533 389.1h0M467.3 382.9h0M526.9 389h0M580.9 392h0M613.6 392.4h0M435.5 383.9h0M630.3 392.7h0M560.7 391.8h0M512.7 386.7h0M570.2 392.1h0M574.7 391.9h0M513.9 385.6h0M619.7 392.6h0M625.4 392.3h0M599.1 392.4h0M458.7 382.7h0M485.2 381.5h0M644.3 391.5h0M517.1 387.7h0M450.4 384.5h0M598.4 392.2h0M451.3 381.6h0M661.5 392.4h0M540.8 390.1h0M655.2 392.6h0M473.2 383.5h0M628.9 392.5h0M472.3 385h0M435.3 385.1h0M577.5 391.8h0M648.8 392.8h0M645.4 391.8h0M444.5 385.3h0M514.9 386.9h0M543.2 390.4h0M473.5 383.2h0M568 391.7h0M483.5 384.8h0M622.2 392.3h0M516.2 388h0M492 384.4h0M504.2 384.8h0M489.5 385h0M501.3 385.8h0M555.2 391.1h0M475.9 382.7h0M426.9 387.7h0M547.8 390.9h0M495.3 385.6h0M621.3 391.4h0M426.7 388h0M582.3 392.1h0M471.4 384.3h0M601.9 392.3h0M474.8 383.8h0M442.8 384.3h0M536.7 390h0M457.1 384.6h0M595.1 391.7h0M514.4 387.2h0M616.5 392.3h0M545.6 391h0M495.8 382h0M525.2 388.2h0M432.1 384.2h0M439.2 385.3h0M463.3 383.8h0M506.7 385.2h0M634.7 392.5h0M424.3 388.1h0M465.1 384.4h0M437.6 385.8h0M603.8 392.5h0M629.8 392.6h0M514.4 387.3h0M458.3 384.6h0M606.3 392.5h0M476.2 382.9h0M529 388.9h0M593.7 392.2h0M477.5 382.1h0M457.4 384h0M434.2 386.1h0M643.4 391.9h0M428.9 385.4h0M603.8 392.3h0M650.5 391.2h0M490 385.1h0M444.8 384.8h0M550.8 391.2h0M454.7 383.7h0M493.4 382.3h0M476.2 382.9h0M566.8 390.7h0M575 392.2h0M529.2 389.2h0M505.6 386.2h0M571.8 390.7h0M452.1 381.8h0M455.6 384.7h0M450.7 384.9h0M453.8 382.5h0M495.9 383.1h0M446.1 383.5h0M646.7 392.5h0M434.4 386h0M649 392.4h0M593.2 390.9h0M514.3 386.7h0M508.9 384h0M594.7 392h0M475.7 383.7h0M601.3 392.1h0M492.4 385.2h0M597.1 391.5h0M507.1 385.3h0M666.5 392.9h0M528.3 389.4h0M535.8 390.2h0M460.6 384.8h0M675.4 392.8h0M433.4 385.3h0M427.3 387.4h0M480.1 384h0M668.6 392.7h0M465 384.3h0M434.2 385.8h0M474.5 382.2h0M581.6 392h0M592.1 392.4h0M435.6 382.4h0M489.9 385.3h0M491.9 384.5h0M450.8 384.4h0M446.9 384.9h0M474.6 384.1h0M484.7 384.7h0M526 387.4h0M538.9 389.9h0M527.8 388.5h0M490.8 385.2h0M451 384.9h0M441.1 384.3h0M445.1 385.1h0M569.5 392h0M453.7 383.4h0M499.4 385.7h0M462.5 383.9h0M465.6 383.2h0M573.7 392.1h0M591.3 390.7h0M511.1 387h0M530.7 389.7h0M533.4 389.7h0M595 391.6h0M422.4 392.2h0M466.2 384.1h0M593.5 390.9h0M675.8 392.5h0M555.8 391.3h0M605.5 392.4h0M452.7 384.9h0M429.1 387.2h0M651.2 392h0M462 384.3h0M467.5 384.7h0M533.5 389.9h0M507 386.1h0M613.5 391.6h0M461.7 385h0M451.3 383.9h0M435.7 382.1h0M592.5 392.4h0M538.7 390.3h0M546.9 389.6h0M465.9 381.5h0M454.9 383.2h0M567.2 391.7h0M596.3 392.2h0M469.3 384.8h0M473.6 384.4h0M593.1 392.1h0M597.2 392.2h0M450.7 384.9h0M465 383h0M579.3 391.2h0M558.3 390h0M484.3 382.9h0M595.8 391.9h0M552 391.2h0M493.1 384.7h0M503.5 385.8h0M456.7 384.7h0M488.2 385.1h0M441.2 385.4h0M507 385.6h0M434.8 384.2h0M424.3 389.5h0M661.1 392h0M445.1 385.1h0M474.3 384.6h0M629.2 392h0M436.4 382.4h0M519.2 387.6h0M503.9 386.1h0M521.6 387.4h0M539.1 390.4h0M503.4 385.5h0M636.7 392.6h0M535.3 389.4h0M448.1 381.6h0M519.8 386.8h0M431.5 386.1h0M465.1 384.7h0M637.1 392.7h0M432.1 385.2h0M478.1 385h0M434.1 385.6h0M633.4 392.3h0M432.2 383.7h0M516.5 383.9h0M497.4 385.8h0M628.7 392.7h0M430.8 386.2h0M425.5 388.3h0M605.8 391.9h0M452.5 384.9h0M493.4 385h0M640.2 392.7h0M474.1 384.9h0M457.2 384.9h0M606.3 392.3h0M596.8 392.2h0M673.6 392.3h0M593 392.2h0M524.6 388.1h0M456.4 383.8h0M576.9 392h0M514.6 387.7h0M490.8 382.9h0M521.2 388.4h0M447.8 384h0M649.4 392.8h0M482.8 383.6h0M648 392.7h0M587.7 391.4h0M537.2 390.1h0M468.4 384.7h0M555.7 391.7h0M482 381.3h0M643.2 392.1h0M481 382.3h0M619.4 392.4h0M430.7 386.2h0M598.8 390.7h0M504.2 386.5h0M524.7 388.9h0M529.7 389.2h0M669 391.1h0M529.6 388.9h0M655 392.8h0M558.6 390.7h0M495.2 384.8h0M644.1 392.6h0M578.3 392h0M555.3 391.1h0M643.2 391.2h0M453.6 384.9h0M452.1 384h0M525.6 386.7h0M479.2 384.3h0M448.1 384.7h0M466.6 384.4h0M429.5 386.1h0M608.9 392.4h0M442.6 385h0M427.5 387.5h0M514.6 386.3h0M465.4 384.4h0M447.3 384.7h0M507.6 386.9h0M489.9 385.4h0M485.1 384.6h0M540.8 390.5h0M449.6 384.2h0M502.1 386.2h0M643.8 391.9h0M481 384.3h0M569.7 392.1h0M483.3 384.5h0M461.8 382.8h0M485.8 385.1h0M434.6 383.4h0M469.1 384.1h0M472.7 384.3h0M607.5 392.1h0M616.6 392.5h0M581.8 392.2h0M503.3 386.5h0M434.6 386h0M551.2 391.5h0M504.5 386.2h0M599 392.5h0M500.7 385.5h0M430.4 385h0M507.7 386.9h0M443 384.8h0M632.3 392h0M431.1 385h0M492.9 384.3h0M445.1 385.2h0M515.9 387.9h0M431.2 384.7h0M667.5 392.7h0M538.2 389.5h0M610.3 392h0M484 380.6h0M478.3 384.1h0M488.8 385.1h0M427 387.9h0M553.5 391.5h0M511.5 386.6h0M528.6 388.2h0M472.5 382.9h0M431.8 386.3h0M542.5 390.7h0M609.6 390.8h0M487.5 384.4h0M488.4 385.3h0M464.7 384.2h0M459.4 384.9h0M573.6 391.9h0M511.5 386.6h0M670.2 392.7h0M527.4 387.9h0M451.4 384.6h0M465.1 384.6h0M545.8 390.6h0M480.2 384.8h0M557.5 391.7h0M539.5 390.4h0M588.8 391.2h0M525.1 389h0M503.6 385.7h0M505 386.6h0M465.4 383.7h0M454.8 384.4h0M609.8 392.4h0M547.4 389.9h0M518.9 388h0M591.9 392.4h0M437.7 385.5h0M524.4 388.4h0M612.2 392.4h0M518.3 386.4h0M626.2 391.6h0M443.2 385.2h0M656.3 392.2h0M469.8 383.4h0M556.2 391.7h0M661.1 392.1h0M515.3 387.6h0M468.8 384.6h0M668.3 392.9h0M464.5 383.8h0M562.5 391.6h0M522.3 387.3h0M506.9 386.3h0M587.3 391.9h0M645.9 392.2h0M657.3 392.7h0M588.1 392h0M605.1 391.9h0M427.9 387.6h0M482.8 384.8h0M516.2 387.8h0M499.6 385.9h0M650.1 392.7h0M642.4 390.9h0M500.7 386.3h0M644 392.5h0M479.9 384.8h0M593.2 392.3h0M444.5 383.9h0M671.9 392.7h0M495.8 384.5h0M665.6 392.2h0M464.2 381.9h0M467.8 383.7h0M468.1 384.3h0M470.2 384.1h0M437.2 385.5h0M591.1 392h0M506 386.2h0M506.7 386.9h0M465.6 384.2h0M500.7 385.9h0M497.1 382.2h0M425.5 388.8h0M471.2 383.3h0M450.5 384.3h0M470.9 383h0M491.9 385.4h0M670.5 392.8h0M483.2 383.8h0M632.6 392.4h0M571.8 391.9h0M670.5 391.4h0M602.6 392h0M652.7 392.7h0M446.6 385h0M589.3 392.4h0M479.3 384.7h0M486 383.6h0M440.8 384.9h0M446.1 383.8h0M547.2 390.7h0M458.3 384.5h0M536.5 389.7h0M480.1 384.9h0M533.3 389.8h0M531.2 389.5h0M457.7 384.7h0M639.2 391.8h0M560.8 391.5h0M516.9 388.1h0M529.3 388.2h0M537.1 389.4h0M479.9 385h0M527.1 388.7h0M448.1 383.2h0M671.1 392.4h0M555.9 391.4h0M582.6 392.2h0M574.1 391.2h0M616.1 392.6h0M497.4 386h0M463.9 384.3h0M428.1 387.2h0M506.9 385.8h0M447.9 383.3h0M497.7 385.7h0M433 386.2h0M586.3 392.1h0M480.4 384.5h0M472.2 382.3h0M596.3 391.9h0M487 384.7h0M498.7 382.6h0M541.7 390.5h0M428.5 386.9h0M472.9 384.7h0M674.1 392.3h0M549.9 390.1h0M444 383.3h0M655.9 391.4h0M648 392.5h0M539.2 389.4h0M425.7 388.4h0M489.9 385.2h0M485 380.9h0M451.7 383.8h0M525.6 389.1h0M469.2 384.3h0M544.3 391h0M462.7 384.7h0M640.5 392.1h0M467.2 383.9h0M425.3 388.3h0M615 392.5h0M458.8 384.5h0M430 386.5h0M655.2 392.5h0M475 383h0M556.6 391.5h0M440.6 382.9h0M599.4 391.6h0M612.6 391.9h0M467.6 380h0M461.9 384.5h0M444.9 385.2h0M521.5 387.9h0M489.2 384.8h0M632.4 392.3h0M482.3 380.7h0M505.3 385.6h0M485.3 380.5h0M466 384h0M432.6 384.8h0M523.4 388.6h0M469.8 382.1h0M639.6 392.7h0M538.8 390.4h0M532.7 389.9h0M622.4 392h0M453.4 381.2h0M632.2 392.4h0M602.2 392.5h0M452.8 384.9h0M458.3 384.5h0M430.4 386.6h0M494.7 385.3h0M441.8 383.3h0M601.4 392h0M467.4 383.9h0M459.4 384.2h0M641.9 392.1h0M473 384.9h0M476.8 384.7h0M515.2 387.8h0M511.4 386.8h0M471.2 384.5h0M529 389.3h0M457.7 382.5h0M544.2 390.6h0M473.2 385h0M459.4 384.7h0M478.2 382.1h0M465.3 383.9h0M594.7 392h0M579.4 392.2h0M440.9 384.4h0M635 392.7h0M604.1 392h0M438.4 385.5h0M503 386.6h0M508.6 385.9h0M505.2 386.7h0M426.3 387.2h0M643.3 392.3h0M492.1 385.4h0M567.7 391.8h0M513.6 385.8h0M646.3 392.3h0M470.9 384.8h0M557.1 391.5h0M474.1 383.4h0M647.1 392.8h0M472 384.5h0M429.8 386.7h0M501.5 386.3h0M557.6 391.7h0M488.5 384.5h0M574.9 392.1h0M573.1 390.8h0M459.2 383.5h0M487.9 384.4h0M671.8 392.7h0M507.2 386.8h0M627 391.5h0M487 385.1h0M459 384.9h0M628.3 392.1h0M496.1 385.1h0M425.3 388.6h0M556.2 390.7h0M511 387h0M605.7 392.5h0M660.8 392.5h0M551.7 390.9h0M444.1 383.3h0M438.7 384.2h0M618 392.6h0M571.1 391.4h0M603 392.5h0M512.7 387.2h0M522.5 386.9h0M434.7 385.8h0M491.3 384.3h0M516.6 384.7h0M468.8 383.7h0M435.8 384.9h0M629.3 392.4h0M447.4 384.7h0M506.5 386.7h0M544.6 390.8h0M502.5 386.5h0M632.2 392.5h0M460.7 384.2h0M634.1 391.6h0M621 392.5h0M512.6 386.6h0M490 383.8h0M620 390.9h0M502.1 385.6h0M660.7 392.8h0M447 384.3h0M438.9 384h0M450.6 382.9h0M611.9 391.8h0M492.7 384.9h0M498.4 386h0M543.6 390.9h0M455.9 384.6h0M493.8 384.3h0M526.1 389h0M427.4 387.3h0M493 382.9h0M521.7 387.4h0M490.2 384.5h0M454.8 385h0M433.3 382.4h0M655.2 392.5h0M594.3 391.4h0M514.4 387h0M566.8 391.6h0M426.7 387.9h0M675.9 392.9h0M477.3 384.6h0M494.6 385.7h0M433.6 383.6h0M474.6 384.7h0M441.9 385.2h0M477.3 384.9h0M490.1 384.3h0M525.5 389h0M444 384.2h0M623.5 391.4h0M654 392.8h0M444.3 384.5h0M447 381.7h0M590.1 391.9h0M476.6 383.1h0M466.6 383.9h0M465.7 384.9h0M453.1 383.4h0M638.1 392.3h0M543.2 390.5h0M457.7 384.4h0M675.6 392.9h0M476.1 382.6h0M580.6 392h0M569 391.9h0M493.2 384.6h0M545.1 390.9h0M468.3 383.9h0M567.6 391.8h0M455.7 384.1h0M443.6 378.8h0M483.9 384.2h0M557.8 391h0M561.3 391.6h0M467.8 381.8h0M428.3 386.5h0M514 386.9h0M575.7 392.1h0M429.2 385.1h0M445.6 383.8h0M496.5 385.8h0M454.3 384.6h0M484.7 384.7h0M451.8 384.9h0M556.9 391.6h0M587.3 391.2h0M657.9 392.8h0M427.9 386.3h0M445 384.2h0M626.7 391.5h0M552.8 390.9h0M551 391.6h0M425.9 388.7h0M674.7 393h0M473.9 383.4h0M431.8 386h0M440.6 384.6h0M446.2 384.8h0M537.2 389.8h0M489.5 384.5h0M471.7 382.5h0M449.9 385.1h0M467.4 384.6h0M599.3 391.9h0M482.1 383.9h0M424 387.7h0M674.9 393h0M659.1 392.8h0M482.8 383.7h0M537.1 389.9h0M437.9 385h0M518.1 386.9h0M431.5 386.4h0M460.9 384.4h0M652.4 392.3h0M444.3 384.9h0M509.1 386.8h0M523.9 388.6h0M458.9 385h0M660.5 392.2h0M504.9 385.9h0M435.6 384.7h0M582.9 391.7h0M499.6 386.2h0M451.1 383h0M480.3 383.6h0M515.4 387.3h0M503.4 383.3h0M493.7 385h0M423.4 390h0M439 385.5h0M489.8 384.2h0M666.4 392.9h0M450.7 384.9h0M461.4 384.7h0M496.3 384.1h0M472.7 382.5h0M628 391.4h0M578.3 391.4h0M552.3 391.4h0M445.5 383.8h0M482.3 383.4h0M592.5 391.1h0M515.9 386.9h0M446.2 384.4h0M616 391.7h0M643.4 392.8h0M581.2 391.4h0M523.5 386.9h0M449.5 382.7h0M479.7 384.4h0M494.3 384.7h0M518.2 388.2h0M511.6 386.8h0M446.2 383.2h0M524.1 387.8h0M599.5 392.4h0M457.1 384.6h0M434.7 385.7h0M485.9 384.2h0M485.9 382.5h0M646.5 392.6h0M465.8 384.9h0M585.6 391.8h0M605.2 392.5h0M444.2 384.7h0M639.4 392.5h0M519 388.3h0M621 392.6h0M591.6 392.2h0M501.7 386.5h0M614.6 392.2h0M475.6 384.9h0M474.7 382.5h0M524.1 388.9h0M483.4 383.7h0M456.9 384.8h0M598.7 392.4h0M600.8 392.5h0M436.4 385.2h0M558.4 391.3h0M643.6 392.1h0M600.7 392.4h0M446.6 384.5h0M437.1 385.2h0M494.6 383.9h0M634 392h0M640.7 392.4h0M427.3 385h0M635.9 392.3h0M536.3 390.2h0M540.1 390.6h0M461.2 384.7h0M531.4 389h0M652.1 392.7h0M520.6 387.5h0M641.2 392.1h0M551.1 390.3h0M461.4 384.7h0M479.4 384.7h0M464.6 382.5h0M471 383.1h0M543.5 390.8h0M502.2 383h0M637 392.2h0M454.8 384.5h0M444.1 383.5h0M437.3 383.5h0M463 383.6h0M561.7 391.5h0M449.7 384.5h0M534.6 389.7h0M640.7 392.7h0M531.1 389.3h0M456.3 382.8h0M580.9 391.8h0M611.4 392.1h0M509.1 386.8h0M484.5 382.3h0M526.1 388.6h0M438.8 385.6h0M540.7 389.6h0M459.5 384.6h0M534 387.4h0M472.9 382.9h0M482.7 384.9h0M647.3 392.4h0M477.8 382.6h0M591 391h0M439.6 385.3h0M552.3 391.5h0M435.4 382.3h0M505.3 383.8h0M630.9 392.7h0M466.3 383.2h0M468.2 381.9h0M642.3 392.5h0M492 384.5h0M533.1 389.5h0M526.7 400.9h0M537.3 398.1h0M480.2 402.6h0M445.5 402.9h0M607 395.2h0M464.3 402h0M546.7 397.5h0M504.5 400.9h0M488.4 404.1h0M607.8 395h0M544.3 400.3h0M554 401.9h0M483 401.5h0M542.5 400.6h0M493.5 401.9h0M549.7 398.9h0M581.1 395h0M446.7 401.6h0M561.2 397.7h0M491.8 402.2h0M435.4 402.5h0M539.7 402.4h0M562.6 396.1h0M474.2 402.3h0M536.5 402h0M532.2 401.2h0M519.5 400.6h0M590.7 394.5h0M546.3 398.6h0M518.1 400h0M649.2 393.7h0M432.9 402.1h0M531.5 399.3h0M535.8 398.4h0M536.1 398.4h0M555.3 398.5h0M511.6 400.2h0M457 402.3h0M530.7 400.1h0M445.5 401.1h0M573.7 396.2h0M542.4 399.4h0M451.8 401.5h0M541.3 397.9h0M470.3 403.1h0M557.4 397.2h0M436.4 401.7h0M431.2 401.8h0M496.3 403h0M502.1 404.1h0M499.2 403.2h0M425.5 397.9h0M422.4 394.6h0M507.7 405.9h0M537.3 398.5h0M636.6 393.6h0M557.2 399.8h0M488.3 402.7h0M507.8 403h0M545.9 398.8h0M489.7 402.8h0M525.5 399.6h0M498.5 405.2h0M545.2 398.4h0M494 402.2h0M451.5 401.6h0M505.7 402.4h0M504.9 402h0M519.9 400.4h0M483.8 401.7h0M488.3 401.2h0M557.1 398h0M552.4 400.2h0M435.6 402.7h0M511.3 406h0M553.1 396.7h0M440.6 401.8h0M506.5 400.8h0M465.9 401.4h0M517.6 400.3h0M499 400.7h0M529.9 402.1h0M529.7 399.6h0M441.2 401.9h0M495.2 402.3h0M440.3 401h0M631.1 393.6h0M437.9 404.3h0M466.7 402.5h0M453.4 402.5h0M455.3 402.8h0M518.8 401.2h0M475.2 401.6h0M543.6 400.8h0M651.7 393.7h0M567.1 395.4h0M484.9 403.3h0M476.4 401.9h0M459 401.3h0M542.8 400.2h0M448.6 402.2h0M665.4 393.2h0M563.1 395.9h0M543.8 399h0M625.3 393.9h0M426.8 399.8h0M457.2 403.5h0M511.8 400.6h0M534.3 403.2h0M450.6 403.8h0M516.5 399.8h0M441.2 401.2h0M497 408.3h0M457.1 402.1h0M556.3 397.7h0M551.2 399.2h0M565.1 395.5h0M499 403h0M460.8 401.1h0M549.5 397.1h0M502.4 403.2h0M454.5 404.5h0M430.2 401.2h0M483.2 406.7h0M527.4 399.1h0M510.7 400.1h0M498.8 402.1h0M428 399.7h0M517.2 400.1h0M675 393.2h0M464.6 401.3h0M554.8 397.2h0M445.9 402.7h0M550.1 398.1h0M502.1 401.7h0M544.1 397.8h0M531.3 399.4h0M490.2 403.5h0M570.6 396.4h0M506.6 401.4h0M661 393.3h0M553.5 396.8h0M430.1 400.2h0M550.4 398.2h0M523 405.2h0M597.6 394.1h0M524.8 401.2h0M527.5 399.7h0M526.6 400.8h0M471.7 403.5h0M509.9 405.4h0M583.3 394.7h0M460.6 401.5h0M496.9 401.7h0M554.9 397h0M585.2 394.5h0M463.6 407.1h0M478.9 401.1h0M547.8 397.6h0M549.8 400.5h0M480.8 403.2h0M454.8 405.8h0M445.9 403.5h0M606.1 394.3h0M633.5 393.8h0M429 400.8h0M496.6 401h0M482 403.8h0M502.4 403.5h0M517 401.5h0M509.4 401.8h0M520.8 400.1h0M515.7 401.6h0M516.9 401.2h0M595.9 394.8h0M480.9 402.2h0M466.5 401.3h0M576.3 395.8h0M510.9 404.3h0M447.6 401.5h0M544.6 397.7h0M520.4 399.5h0M542.4 398.9h0M478.7 405.9h0M587.9 394.4h0M464.2 404.9h0M561.2 396.6h0M484.3 401.1h0M578.6 395.6h0M567.4 396.9h0M558.3 396.9h0M540.6 398.6h0M555.3 397.7h0M558.6 396.3h0M544.1 402.5h0M448.3 401.3h0M495.3 408.1h0M583.3 396.3h0M431.2 400.8h0M463.5 403.2h0M566.9 395.4h0M583 395.3h0M554.1 400.5h0M536.1 399.9h0M520.1 401.7h0M477.7 402h0M493.8 403.7h0M477.8 402.4h0M503.6 404.8h0M525.3 399.1h0M510.3 400.2h0M675.4 393.1h0M570.7 395.5h0M521.8 399.4h0M455.9 402.8h0M479.3 407.7h0M452.9 401.3h0M466.6 403.7h0M494.2 403.3h0M458.8 401.8h0M467.2 404.6h0M664.5 393.3h0M508.8 402h0M455.5 403.4h0M578.2 394.9h0M508.3 405.8h0M621.5 393.9h0M533.8 399.5h0M533 402.6h0M562.9 396.8h0M444.1 401.4h0M516.4 401.3h0M563.8 397.5h0M432.2 403.1h0M538.5 399.1h0M514.3 400.1h0M470 403.7h0M468.9 403.9h0M661.6 393.3h0M595.7 394.2h0M598.6 394.7h0M444.6 401.7h0M538.1 400.7h0M514.2 400h0M443 404.6h0M556.8 399.6h0M452.3 404.8h0M556.5 396.9h0M460 402.2h0M617.1 394h0M542.5 399.6h0M509.9 402.3h0M499.8 400.8h0M520.3 401.2h0M441.2 402.5h0M584.5 395h0M555.7 398.5h0M570.3 396.5h0M600.4 394.6h0M532.5 399.7h0M525.4 399.7h0M551.4 399.2h0M495 403h0M589.4 395.3h0M474.1 401.7h0M527.6 401.1h0M516.7 400.9h0M563.3 395.8h0M601 394.2h0M488.9 404.9h0M511.5 400.1h0M496.1 403.7h0M486.8 402.7h0M615.4 394.2h0M531.8 398.7h0M550.2 398.8h0M462.7 404.2h0M574.9 395.5h0M560.9 396h0M472.7 404h0M475.1 401.4h0M518.2 405.8h0M527.2 402.3h0M489.8 402.6h0M598.5 394.2h0M564.9 398.3h0M501.8 401.1h0M446.8 401.3h0M474.1 401.8h0M478.2 401.5h0M529.5 401.8h0M522.3 399.9h0M654 393.8h0M520.7 401.7h0M498.3 401.1h0M514.2 401h0M554.6 397h0M542.8 397.9h0M576.1 397.3h0M497.1 401.4h0M523.2 400.7h0M556.4 396.6h0M447.7 402.9h0M508.3 403.4h0M534.8 401.8h0M564.8 395.7h0M650.2 393.4h0M446.7 402.2h0M639.2 394.3h0M436.2 400.9h0M549.6 398.1h0M442.6 402.4h0M448.8 401.6h0M493 402.3h0M566.6 396.9h0M487.3 402h0M426 399.2h0M512.4 401.7h0M497 405.8h0M452.1 401.1h0M425.1 399h0M547 402h0M488.6 401.6h0M486 401.3h0M506.2 405.1h0M450.1 404h0M544.2 398.1h0M523.8 402.1h0M471.4 401.3h0M528.4 401.2h0M502.6 406.8h0M494.7 404.5h0M509.8 407.3h0M574.9 395h0M432.2 401.1h0M432.7 401.1h0M488.6 402.3h0M476.8 401.3h0M506.4 400.4h0M546.2 399.6h0M509.9 401.5h0M492.7 407.5h0M530.3 401.9h0M543.5 397.8h0M623.5 393.8h0M532.5 404.4h0M604.2 394.2h0M436.1 401.5h0M554.2 397.7h0M455.8 401.5h0M475.8 405.7h0M658 393.5h0M626.9 394.5h0M492.4 404.1h0M563.4 396.3h0M507.7 400.9h0M462.4 402h0M448.1 402.9h0M494.8 403.8h0M483.8 401.8h0M521.1 405.7h0M530.2 401.1h0M652.3 393.4h0M505.5 400.7h0M549.2 400.5h0M549.3 398.2h0M492.5 404.8h0M442.7 405.1h0M528.4 399.1h0M579.9 394.5h0M499.9 401.7h0M462.8 401h0M454.7 401.6h0M481.8 401.8h0M670.7 393.5h0M582.5 395h0M618.6 394h0M471.4 401.2h0M494.7 404.1h0M535.6 402.1h0M462.4 402.2h0M447.9 401.6h0M448.3 402.7h0M508.5 400.9h0M523.7 401.1h0M483 401.7h0M552.9 401.1h0M515.8 401.6h0M493.8 404.6h0M471.5 403.4h0M543.8 400.5h0M497.7 402.4h0M577.6 395.2h0M643 394h0M535 398.8h0M551.2 398.6h0M503.4 407.5h0M560.7 397.7h0M485.1 402.5h0M459.3 402h0M536.7 398.7h0M536.2 398.3h0M488.8 402.7h0M537.3 398.3h0M606.5 394.5h0M484.4 405.9h0M545.2 400.2h0M509.2 403.6h0M491.2 405.6h0M646.3 394.3h0M533.4 398.6h0M435.2 401.8h0M546.9 400h0M566.4 398.3h0M510.5 402h0M445.4 403.7h0M552.6 398.9h0M500.2 401h0M562.5 396.2h0M499.1 401.4h0M504.3 401.8h0M545.1 398.7h0M479.2 401.6h0M586.1 395.1h0M477.6 403h0M580.7 395.3h0M554.7 397.8h0M482.6 402.6h0M544.4 403.4h0M524.4 401h0M493.2 404.2h0M518.2 400.9h0M461.5 403.2h0M429.4 400.3h0M647.4 393.7h0M540.2 400.5h0M552.9 398.5h0M491.5 402.3h0M428.4 400h0M433.6 402.5h0M485.1 401.2h0M476.4 401.7h0M511.8 400.1h0M480.2 401.2h0M601.2 394.6h0M495.6 401.1h0M489.2 402.3h0M493.4 402.3h0M474.6 402.7h0M453.7 402.2h0M532.1 400.9h0M488.8 404.8h0M498.8 402.4h0M598.9 394.3h0M551.1 397h0M610.6 394.4h0M531 401.9h0M554 397.2h0M549.3 397.1h0M505.6 401.9h0M583.3 395.8h0M491.1 401.4h0M485.1 401.4h0M519.4 401.9h0M524.6 399.8h0M529.4 400.2h0M525.1 403.5h0M443.2 401.5h0M565.6 396h0M551.1 397.6h0M619.8 394.7h0M482.4 401.1h0M476.8 402.2h0M552.3 396.8h0M454.6 402h0M493.2 402.9h0M649.6 393.8h0M493.3 402.4h0M513.9 400.4h0M503.4 403.7h0M549.7 398.6h0M537.9 404.3h0M494.8 401.4h0M544.9 397.5h0M519.5 399.9h0M495.9 402.9h0M495 401.4h0M507.1 402.9h0M506 400.4h0M426.9 399.3h0M429.2 402.9h0M467.3 402.8h0M537.4 399.4h0M645.3 393.4h0M426.1 399.7h0M425 397.6h0M516 400.6h0M570.1 395.8h0M579 394.9h0M456.9 401.6h0M486 401.5h0M533.4 398.9h0M568.3 398h0M578.3 395.6h0M490.5 404.2h0M536.1 401h0M525.4 401.4h0M471.4 401.8h0M548.7 397.1h0M457.4 403.7h0M538.7 398.5h0M498 400.8h0M554.1 397.5h0M557.5 396.2h0M458.7 406.2h0M518.4 400.4h0M590.5 394.5h0M532.9 398.8h0M504.1 403.6h0M466 403.4h0M462.7 402.4h0M518 399.7h0M556.4 397h0M562.3 396.4h0M565.4 397h0M529.4 403.7h0M636.4 393.6h0M519 399.7h0M516.6 400.3h0M624.1 393.8h0M559 399.9h0M563.9 396.4h0M495.5 401.8h0M519.3 402.5h0M450.4 401.9h0M564.4 397h0M480.3 401.4h0M532.4 400.1h0M434.1 401.8h0M491.6 402.3h0M456.9 403.6h0M496 401.4h0M529.7 398.9h0M515.8 402.8h0M439.2 402.8h0M513.4 400.8h0M430.4 402.1h0M504.3 403.3h0M556.8 397.6h0M521.7 400.6h0M495.3 401.1h0M531.6 399h0M521.3 402.2h0M497.4 404.5h0M497.6 407.5h0M536 399.7h0M530.4 398.7h0M532.2 399h0M455.7 402.5h0M617.9 394.2h0M581.5 394.8h0M460.8 402.9h0M551.6 396.8h0M493.6 401.3h0M563.1 396.1h0M512.7 403.6h0M530.4 402.2h0M526.7 399.9h0M531.4 398.8h0M528.6 399.5h0M532.2 404.4h0M509.5 402.3h0M514.2 404.6h0M457.5 401.2h0M528.9 399.1h0M496.3 401h0M439.7 402.6h0M554.2 397.9h0M534.7 400.3h0M494.7 406.1h0M534.7 400.2h0M670.1 393.4h0M458.1 401.8h0M547.2 397.4h0M673.9 393.1h0M451.7 401.8h0M472.3 401.3h0M488.1 402.3h0M639.5 394.2h0M426.4 399h0M516.7 400.9h0M475.9 401.4h0M459 401.4h0M427.1 400.1h0M498.7 406.6h0M485.8 401.1h0M493.1 407.7h0M559 396.2h0M502.2 401.1h0M496.4 402.3h0M516.7 400.9h0M510.9 401.9h0M542.6 399h0M526.6 399.4h0M502.5 406.5h0M670.6 393.7h0M638.4 393.6h0M533.2 399.1h0M564.4 395.7h0M462.7 402.1h0M618.9 393.8h0M584.2 394.8h0M514.9 400.4h0M475 401.4h0M518.5 400.3h0M547.2 397.8h0M515.8 401.7h0M520.3 399.5h0M498.1 405.2h0M529.8 399.1h0M559.4 396.2h0M566.3 396.9h0M469.6 401.4h0M572.2 395.9h0M531.6 400.6h0M489.7 401.7h0M578 396.2h0M470.7 403.4h0M456.9 401.1h0M550 397.3h0M656.5 393.5h0M486.4 402.7h0M513.2 404.4h0M490.6 406.1h0M527.9 401.2h0M578.6 395.5h0M585.5 394.7h0M535.8 399.7h0M539.2 398.2h0M489.6 403.5h0M501.1 400.7h0M437.3 401.3h0M461.3 401.4h0M469.1 401.5h0M528.7 405.7h0M528.9 400.3h0M434.1 402.9h0M476.7 403.3h0M540.6 400.9h0M573.6 396.7h0M537.9 399.2h0M516.7 403h0M433.1 401.9h0M509.2 403.4h0M674.8 393.1h0M461.1 401.5h0M473.9 401.8h0M562.2 396.9h0M556.8 396.4h0M562.6 396h0M503.3 404h0M432 400.7h0M555.9 397.6h0M604.6 394.2h0M517.9 399.9h0M497.5 402.4h0M457.6 403.3h0M481.2 404.2h0M515.1 399.8h0M552.9 397.5h0M450.1 401.4h0M508.7 402.1h0M430.3 400.3h0M518.3 404.6h0M511.7 400.5h0M509.9 400.4h0M476.4 404.9h0M456.7 401.5h0M585.9 395h0M622 393.8h0M518.4 402.2h0M629.4 394.1h0M498.3 401.9h0M496 401.5h0M493.8 405.7h0M445.9 402.5h0M490 401.6h0M501.7 400.8h0M540.6 399.8h0M484.9 403.7h0M496.9 401.8h0M549.9 397.1h0M511.3 401.9h0M526.8 407.3h0M501.5 404.6h0M466.5 404.9h0M499.1 402.3h0M519 405.6h0M578.2 394.7h0M470.3 406.9h0M444.3 412.9h0M555.3 413h0M464.5 409h0M552.8 404.3h0M471.5 409.2h0M561.9 404.8h0M449.6 404.2h0M545.8 404.1h0M567.7 405.5h0M505.9 408.9h0M484.9 407.3h0M522.1 408.1h0M569.4 404.3h0M457.1 414.2h0M532.8 410.7h0M497.2 407.1h0M562.5 412.4h0M460.7 405.5h0M545.9 404.2h0M514.7 407.2h0M524.7 407.9h0M508.8 404.1h0M494.7 404.4h0M469.3 404.4h0M531.4 409.1h0M503.5 409.4h0M568.1 408.9h0M463.5 404.2h0M450.3 405.9h0M533.2 404.1h0M551.2 411.1h0M530 411.5h0M505 408.3h0M452.2 405.2h0M450.7 404.8h0M500.6 405.4h0M564 407.2h0M464.1 415.9h0M535.8 404.2h0M546.1 420.4h0M551.8 404.5h0M536.4 404.6h0M524.8 404.9h0M535.6 416.7h0M514.7 421.7h0M509.3 416.5h0M504.5 418.5h0M494.2 416.4h0M516.9 416.1h0M494.6 421.9h0M502.6 414.5h0M523.9 417.3h0M510.2 419.1h0M508.8 417.3h0M509.2 420.1h0M510.2 410.3h0M505 421.1h0M511.1 413.1h0M506.6 416.4h0M505.1 416h0M512.3 418.8h0M513.7 416.5h0M511.2 415.7h0M516.6 419.5h0M524.8 424.3h0M523.5 415h0M509 414.9h0M498.3 415.1h0M518.4 412.9h0M509.1 412.9h0M515 415.5h0M505 419.6h0M515.8 415.4h0M498.2 414.3h0M509.7 416.8h0M496.2 414.4h0M526.2 426.5h0M505.9 422.4h0M489.5 417.2h0M519.6 411.3h0M516.9 415.2h0M520.5 414h0M498.2 414.1h0M511.6 409.6h0M524.2 406.3h0M523.3 414.6h0M522.4 416.7h0M515.1 403.3h0M534.6 412.7h0M520.2 408.7h0M503.6 411.8h0M518.1 410.6h0M539.7 409.5h0M544.3 412.7h0M516.8 410.3h0M528.2 414.4h0M536.7 411h0M541 405.8h0M524.7 409.6h0M533.6 410h0M525 408.4h0M508.8 406.4h0M540.9 415.8h0M529.3 409.8h0M535 410h0M527.6 405.3h0M519.8 411.7h0M524.3 409.7h0M534 413.3h0M452.9 375.9h0M453.5 378h0M464.2 377.4h0M464.8 379.4h0M475.4 378h0M476.4 380h0M459 378.8h0M469.3 379.4h0M440.7 379.4h0M436.6 380h0M487.7 379.4h0M495.8 380.4h0M524.5 269.6h0M592.6 285h0M648.2 330.5h0M490.8 369.2h0M585.9 426.7h0M588.4 417.2h0M591.6 414.9h0M585.9 404h0M593.4 400.4h0M604.7 399.1h0M608.5 384.5h0M651 387.8h0" stroke="#000" stroke-width="3.7" stroke-linecap="round" fill="none"/>
<line x1="410.7" x2="680.1" y1="392.5" y2="392.5" stroke="#000" stroke-width="5.8"/>
<line x1="410.7" x2="680.1" y1="380.1" y2="380.1" stroke="#000" stroke-width="2.45" stroke-dasharray="8.5 3.7"/>
<line x1="410.7" x2="680.1" y1="404.8" y2="404.8" stroke="#000" stroke-width="2.45" stroke-dasharray="8.5 3.7"/>
</g>
<rect x="416.7" y="402.0" width="165.5" height="39.6" rx="2.3" fill="#fff" fill-opacity="0.8" stroke="#ccc" stroke-opacity="0.8" stroke-width="0.95"/>
<line x1="418.5" x2="449.2" y1="411.9" y2="411.9" stroke="#000" stroke-width="5.8"/>
<line x1="421.3" x2="446.6" y1="429.8" y2="429.8" stroke="#000" stroke-width="2.45" stroke-dasharray="8.9 3.6"/>
<text class="lg" x="455.7" y="416.1">mean value</text>
<text class="lg" x="455.7" y="434.0">limits of agreement</text>
<rect x="410.7" y="261.3" width="269.4" height="186.8" fill="none" stroke="#000" stroke-width="1.2"/>
<text x="457.3" y="467.9" text-anchor="middle">500</text>
<text x="513.9" y="467.9" text-anchor="middle">1000</text>
<text x="570.4" y="467.9" text-anchor="middle">1500</text>
<text x="627.0" y="467.9" text-anchor="middle">2000</text>
<text x="399.6" y="273.9" text-anchor="end">1000</text>
<text x="399.6" y="304.9" text-anchor="end">750</text>
<text x="399.6" y="336.0" text-anchor="end">500</text>
<text x="399.6" y="367.1" text-anchor="end">250</text>
<text x="399.6" y="398.2" text-anchor="end">0</text>
<text x="399.6" y="429.2" text-anchor="end">−250</text>
<path d="M457.3 448.1v5.1M513.9 448.1v5.1M570.4 448.1v5.1M627.0 448.1v5.1M410.7 269.3h-5.1M410.7 300.3h-5.1M410.7 331.4h-5.1M410.7 362.5h-5.1M410.7 393.6h-5.1M410.7 424.6h-5.1" stroke="#000" stroke-width="1.2" fill="none"/>
<text x="545.4" y="486.5" text-anchor="middle">Average [ms]</text>
<text x="545.4" y="499.7" text-anchor="middle">(d)</text>
<text transform="translate(357.6 354.7) rotate(-90)" text-anchor="middle">Difference [ms]</text>
</g>
</svg>
</body></html>
